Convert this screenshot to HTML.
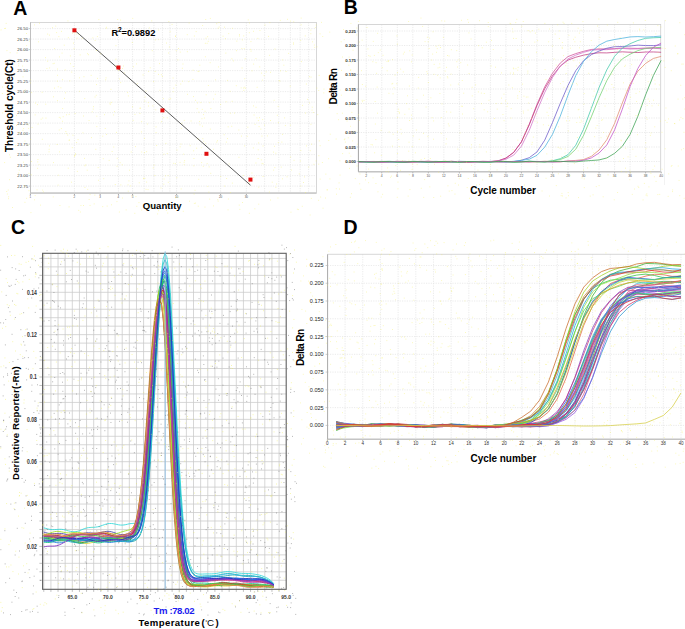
<!DOCTYPE html>
<html><head><meta charset="utf-8"><style>
html,body{margin:0;padding:0;background:#fff;}
svg{display:block;font-family:"Liberation Sans",sans-serif;}
</style></head><body>
<svg width="685" height="629" viewBox="0 0 685 629">
<rect width="685" height="629" fill="#fff"/>
<text x="13.2" y="14.9" font-size="19.5" text-anchor="start" font-weight="bold" fill="#000" >A</text>
<line x1="30.5" y1="28.6" x2="316.4" y2="28.6" stroke="#dedede" stroke-width="0.6" stroke-dasharray="1.2,1.2" />
<line x1="28.8" y1="28.6" x2="30.5" y2="28.6" stroke="#999" stroke-width="0.5" />
<text transform="translate(28.1,30.1) scale(1,1.0)" font-size="4.3" text-anchor="end" fill="#3a3a3a" font-weight="normal">26.50</text>
<line x1="30.5" y1="39.1" x2="316.4" y2="39.1" stroke="#dedede" stroke-width="0.6" stroke-dasharray="1.2,1.2" />
<line x1="28.8" y1="39.1" x2="30.5" y2="39.1" stroke="#999" stroke-width="0.5" />
<text transform="translate(28.1,40.6) scale(1,1.0)" font-size="4.3" text-anchor="end" fill="#3a3a3a" font-weight="normal">26.25</text>
<line x1="30.5" y1="49.6" x2="316.4" y2="49.6" stroke="#dedede" stroke-width="0.6" stroke-dasharray="1.2,1.2" />
<line x1="28.8" y1="49.6" x2="30.5" y2="49.6" stroke="#999" stroke-width="0.5" />
<text transform="translate(28.1,51.1) scale(1,1.0)" font-size="4.3" text-anchor="end" fill="#3a3a3a" font-weight="normal">26.00</text>
<line x1="30.5" y1="60.1" x2="316.4" y2="60.1" stroke="#dedede" stroke-width="0.6" stroke-dasharray="1.2,1.2" />
<line x1="28.8" y1="60.1" x2="30.5" y2="60.1" stroke="#999" stroke-width="0.5" />
<text transform="translate(28.1,61.6) scale(1,1.0)" font-size="4.3" text-anchor="end" fill="#3a3a3a" font-weight="normal">25.75</text>
<line x1="30.5" y1="70.6" x2="316.4" y2="70.6" stroke="#dedede" stroke-width="0.6" stroke-dasharray="1.2,1.2" />
<line x1="28.8" y1="70.6" x2="30.5" y2="70.6" stroke="#999" stroke-width="0.5" />
<text transform="translate(28.1,72.1) scale(1,1.0)" font-size="4.3" text-anchor="end" fill="#3a3a3a" font-weight="normal">25.50</text>
<line x1="30.5" y1="81.1" x2="316.4" y2="81.1" stroke="#dedede" stroke-width="0.6" stroke-dasharray="1.2,1.2" />
<line x1="28.8" y1="81.1" x2="30.5" y2="81.1" stroke="#999" stroke-width="0.5" />
<text transform="translate(28.1,82.6) scale(1,1.0)" font-size="4.3" text-anchor="end" fill="#3a3a3a" font-weight="normal">25.25</text>
<line x1="30.5" y1="91.6" x2="316.4" y2="91.6" stroke="#dedede" stroke-width="0.6" stroke-dasharray="1.2,1.2" />
<line x1="28.8" y1="91.6" x2="30.5" y2="91.6" stroke="#999" stroke-width="0.5" />
<text transform="translate(28.1,93.1) scale(1,1.0)" font-size="4.3" text-anchor="end" fill="#3a3a3a" font-weight="normal">25.00</text>
<line x1="30.5" y1="102.1" x2="316.4" y2="102.1" stroke="#dedede" stroke-width="0.6" stroke-dasharray="1.2,1.2" />
<line x1="28.8" y1="102.1" x2="30.5" y2="102.1" stroke="#999" stroke-width="0.5" />
<text transform="translate(28.1,103.6) scale(1,1.0)" font-size="4.3" text-anchor="end" fill="#3a3a3a" font-weight="normal">24.75</text>
<line x1="30.5" y1="112.6" x2="316.4" y2="112.6" stroke="#dedede" stroke-width="0.6" stroke-dasharray="1.2,1.2" />
<line x1="28.8" y1="112.6" x2="30.5" y2="112.6" stroke="#999" stroke-width="0.5" />
<text transform="translate(28.1,114.1) scale(1,1.0)" font-size="4.3" text-anchor="end" fill="#3a3a3a" font-weight="normal">24.50</text>
<line x1="30.5" y1="123.1" x2="316.4" y2="123.1" stroke="#dedede" stroke-width="0.6" stroke-dasharray="1.2,1.2" />
<line x1="28.8" y1="123.1" x2="30.5" y2="123.1" stroke="#999" stroke-width="0.5" />
<text transform="translate(28.1,124.6) scale(1,1.0)" font-size="4.3" text-anchor="end" fill="#3a3a3a" font-weight="normal">24.25</text>
<line x1="30.5" y1="133.6" x2="316.4" y2="133.6" stroke="#dedede" stroke-width="0.6" stroke-dasharray="1.2,1.2" />
<line x1="28.8" y1="133.6" x2="30.5" y2="133.6" stroke="#999" stroke-width="0.5" />
<text transform="translate(28.1,135.1) scale(1,1.0)" font-size="4.3" text-anchor="end" fill="#3a3a3a" font-weight="normal">24.00</text>
<line x1="30.5" y1="144.1" x2="316.4" y2="144.1" stroke="#dedede" stroke-width="0.6" stroke-dasharray="1.2,1.2" />
<line x1="28.8" y1="144.1" x2="30.5" y2="144.1" stroke="#999" stroke-width="0.5" />
<text transform="translate(28.1,145.6) scale(1,1.0)" font-size="4.3" text-anchor="end" fill="#3a3a3a" font-weight="normal">23.75</text>
<line x1="30.5" y1="154.6" x2="316.4" y2="154.6" stroke="#dedede" stroke-width="0.6" stroke-dasharray="1.2,1.2" />
<line x1="28.8" y1="154.6" x2="30.5" y2="154.6" stroke="#999" stroke-width="0.5" />
<text transform="translate(28.1,156.1) scale(1,1.0)" font-size="4.3" text-anchor="end" fill="#3a3a3a" font-weight="normal">23.50</text>
<line x1="30.5" y1="165.1" x2="316.4" y2="165.1" stroke="#dedede" stroke-width="0.6" stroke-dasharray="1.2,1.2" />
<line x1="28.8" y1="165.1" x2="30.5" y2="165.1" stroke="#999" stroke-width="0.5" />
<text transform="translate(28.1,166.6) scale(1,1.0)" font-size="4.3" text-anchor="end" fill="#3a3a3a" font-weight="normal">23.25</text>
<line x1="30.5" y1="175.6" x2="316.4" y2="175.6" stroke="#dedede" stroke-width="0.6" stroke-dasharray="1.2,1.2" />
<line x1="28.8" y1="175.6" x2="30.5" y2="175.6" stroke="#999" stroke-width="0.5" />
<text transform="translate(28.1,177.1) scale(1,1.0)" font-size="4.3" text-anchor="end" fill="#3a3a3a" font-weight="normal">23.00</text>
<line x1="30.5" y1="186.1" x2="316.4" y2="186.1" stroke="#dedede" stroke-width="0.6" stroke-dasharray="1.2,1.2" />
<line x1="28.8" y1="186.1" x2="30.5" y2="186.1" stroke="#999" stroke-width="0.5" />
<text transform="translate(28.1,187.6) scale(1,1.0)" font-size="4.3" text-anchor="end" fill="#3a3a3a" font-weight="normal">22.75</text>
<line x1="74.41" y1="22.4" x2="74.41" y2="193.1" stroke="#dedede" stroke-width="0.6" stroke-dasharray="1.2,1.2" />
<line x1="100.16" y1="22.4" x2="100.16" y2="193.1" stroke="#dedede" stroke-width="0.6" stroke-dasharray="1.2,1.2" />
<line x1="118.42" y1="22.4" x2="118.42" y2="193.1" stroke="#dedede" stroke-width="0.6" stroke-dasharray="1.2,1.2" />
<line x1="132.59" y1="22.4" x2="132.59" y2="193.1" stroke="#dedede" stroke-width="0.6" stroke-dasharray="1.2,1.2" />
<line x1="144.17" y1="22.4" x2="144.17" y2="193.1" stroke="#dedede" stroke-width="0.6" stroke-dasharray="1.2,1.2" />
<line x1="153.95" y1="22.4" x2="153.95" y2="193.1" stroke="#dedede" stroke-width="0.6" stroke-dasharray="1.2,1.2" />
<line x1="162.43" y1="22.4" x2="162.43" y2="193.1" stroke="#dedede" stroke-width="0.6" stroke-dasharray="1.2,1.2" />
<line x1="169.91" y1="22.4" x2="169.91" y2="193.1" stroke="#dedede" stroke-width="0.6" stroke-dasharray="1.2,1.2" />
<line x1="176.6" y1="22.4" x2="176.6" y2="193.1" stroke="#dedede" stroke-width="0.6" stroke-dasharray="1.2,1.2" />
<line x1="220.61" y1="22.4" x2="220.61" y2="193.1" stroke="#dedede" stroke-width="0.6" stroke-dasharray="1.2,1.2" />
<line x1="246.36" y1="22.4" x2="246.36" y2="193.1" stroke="#dedede" stroke-width="0.6" stroke-dasharray="1.2,1.2" />
<line x1="264.62" y1="22.4" x2="264.62" y2="193.1" stroke="#dedede" stroke-width="0.6" stroke-dasharray="1.2,1.2" />
<line x1="278.79" y1="22.4" x2="278.79" y2="193.1" stroke="#dedede" stroke-width="0.6" stroke-dasharray="1.2,1.2" />
<line x1="290.37" y1="22.4" x2="290.37" y2="193.1" stroke="#dedede" stroke-width="0.6" stroke-dasharray="1.2,1.2" />
<line x1="300.15" y1="22.4" x2="300.15" y2="193.1" stroke="#dedede" stroke-width="0.6" stroke-dasharray="1.2,1.2" />
<line x1="308.63" y1="22.4" x2="308.63" y2="193.1" stroke="#dedede" stroke-width="0.6" stroke-dasharray="1.2,1.2" />
<line x1="30.4" y1="193.1" x2="30.4" y2="194.9" stroke="#555" stroke-width="0.6" />
<text transform="translate(30.4,198) scale(1,1.0)" font-size="3.0" text-anchor="middle" fill="#555" font-weight="normal">1</text>
<line x1="74.41" y1="193.1" x2="74.41" y2="194.9" stroke="#555" stroke-width="0.6" />
<text transform="translate(74.41,198) scale(1,1.0)" font-size="3.0" text-anchor="middle" fill="#555" font-weight="normal">2</text>
<line x1="100.16" y1="193.1" x2="100.16" y2="194.9" stroke="#555" stroke-width="0.6" />
<text transform="translate(100.16,198) scale(1,1.0)" font-size="3.0" text-anchor="middle" fill="#555" font-weight="normal">3</text>
<line x1="118.42" y1="193.1" x2="118.42" y2="194.9" stroke="#555" stroke-width="0.6" />
<text transform="translate(118.42,198) scale(1,1.0)" font-size="3.0" text-anchor="middle" fill="#555" font-weight="normal">4</text>
<line x1="132.59" y1="193.1" x2="132.59" y2="194.9" stroke="#555" stroke-width="0.6" />
<text transform="translate(132.59,198) scale(1,1.0)" font-size="3.0" text-anchor="middle" fill="#555" font-weight="normal">5</text>
<line x1="176.6" y1="193.1" x2="176.6" y2="194.9" stroke="#555" stroke-width="0.6" />
<text transform="translate(176.6,198) scale(1,1.0)" font-size="3.0" text-anchor="middle" fill="#555" font-weight="normal">10</text>
<line x1="220.61" y1="193.1" x2="220.61" y2="194.9" stroke="#555" stroke-width="0.6" />
<text transform="translate(220.61,198) scale(1,1.0)" font-size="3.0" text-anchor="middle" fill="#555" font-weight="normal">20</text>
<line x1="246.36" y1="193.1" x2="246.36" y2="194.9" stroke="#555" stroke-width="0.6" />
<text transform="translate(246.36,198) scale(1,1.0)" font-size="3.0" text-anchor="middle" fill="#555" font-weight="normal">30</text>
<rect x="30.5" y="22.4" width="285.9" height="170.7" fill="none" stroke="#cdcdcd" stroke-width="0.8"/>
<line x1="30.5" y1="193.1" x2="316.4" y2="193.1" stroke="#cdcdcd" stroke-width="1.6" />
<line x1="30.5" y1="22.4" x2="30.5" y2="193.1" stroke="#c0c0c0" stroke-width="1.0" />
<line x1="74.4" y1="30" x2="250.5" y2="185.2" stroke="#4a4a4a" stroke-width="0.9" />
<rect x="72.41" y="28.3" width="4" height="4" fill="#e01010"/>
<rect x="116.42" y="65.5" width="4" height="4" fill="#e01010"/>
<rect x="160.43" y="108.4" width="4" height="4" fill="#e01010"/>
<rect x="204.44" y="151.8" width="4" height="4" fill="#e01010"/>
<rect x="248.45" y="177.6" width="4" height="4" fill="#e01010"/>
<text x="111.6" y="35.9" font-size="9.3" font-weight="bold">R<tspan font-size="6.6" dy="-3.9" dx="-0.3">2</tspan><tspan dy="3.9" dx="-0.2">=0.9892</tspan></text>
<text x="142.8" y="209.4" font-size="9.6" text-anchor="start" font-weight="bold" fill="#000" >Quantity</text>
<text transform="translate(13.0,152) rotate(-90)" font-size="10.1" font-weight="bold" textLength="93">Threshold cycle(Ct)</text>
<text x="343.8" y="14" font-size="19.5" text-anchor="start" font-weight="bold" fill="#000" >B</text>
<line x1="358.4" y1="161.5" x2="660.7" y2="161.5" stroke="#dedede" stroke-width="0.6" stroke-dasharray="1.2,1.2" />
<line x1="356.8" y1="161.5" x2="358.4" y2="161.5" stroke="#999" stroke-width="0.5" />
<text transform="translate(356,163.1) scale(1,1.0)" font-size="4.35" text-anchor="end" fill="#333" font-weight="bold">0.000</text>
<line x1="358.4" y1="147" x2="660.7" y2="147" stroke="#dedede" stroke-width="0.6" stroke-dasharray="1.2,1.2" />
<line x1="356.8" y1="147" x2="358.4" y2="147" stroke="#999" stroke-width="0.5" />
<text transform="translate(356,148.6) scale(1,1.0)" font-size="4.35" text-anchor="end" fill="#333" font-weight="bold">0.025</text>
<line x1="358.4" y1="132.5" x2="660.7" y2="132.5" stroke="#dedede" stroke-width="0.6" stroke-dasharray="1.2,1.2" />
<line x1="356.8" y1="132.5" x2="358.4" y2="132.5" stroke="#999" stroke-width="0.5" />
<text transform="translate(356,134.1) scale(1,1.0)" font-size="4.35" text-anchor="end" fill="#333" font-weight="bold">0.050</text>
<line x1="358.4" y1="118" x2="660.7" y2="118" stroke="#dedede" stroke-width="0.6" stroke-dasharray="1.2,1.2" />
<line x1="356.8" y1="118" x2="358.4" y2="118" stroke="#999" stroke-width="0.5" />
<text transform="translate(356,119.6) scale(1,1.0)" font-size="4.35" text-anchor="end" fill="#333" font-weight="bold">0.075</text>
<line x1="358.4" y1="103.5" x2="660.7" y2="103.5" stroke="#dedede" stroke-width="0.6" stroke-dasharray="1.2,1.2" />
<line x1="356.8" y1="103.5" x2="358.4" y2="103.5" stroke="#999" stroke-width="0.5" />
<text transform="translate(356,105.1) scale(1,1.0)" font-size="4.35" text-anchor="end" fill="#333" font-weight="bold">0.100</text>
<line x1="358.4" y1="89" x2="660.7" y2="89" stroke="#dedede" stroke-width="0.6" stroke-dasharray="1.2,1.2" />
<line x1="356.8" y1="89" x2="358.4" y2="89" stroke="#999" stroke-width="0.5" />
<text transform="translate(356,90.6) scale(1,1.0)" font-size="4.35" text-anchor="end" fill="#333" font-weight="bold">0.125</text>
<line x1="358.4" y1="74.5" x2="660.7" y2="74.5" stroke="#dedede" stroke-width="0.6" stroke-dasharray="1.2,1.2" />
<line x1="356.8" y1="74.5" x2="358.4" y2="74.5" stroke="#999" stroke-width="0.5" />
<text transform="translate(356,76.1) scale(1,1.0)" font-size="4.35" text-anchor="end" fill="#333" font-weight="bold">0.150</text>
<line x1="358.4" y1="60" x2="660.7" y2="60" stroke="#dedede" stroke-width="0.6" stroke-dasharray="1.2,1.2" />
<line x1="356.8" y1="60" x2="358.4" y2="60" stroke="#999" stroke-width="0.5" />
<text transform="translate(356,61.6) scale(1,1.0)" font-size="4.35" text-anchor="end" fill="#333" font-weight="bold">0.175</text>
<line x1="358.4" y1="45.5" x2="660.7" y2="45.5" stroke="#dedede" stroke-width="0.6" stroke-dasharray="1.2,1.2" />
<line x1="356.8" y1="45.5" x2="358.4" y2="45.5" stroke="#999" stroke-width="0.5" />
<text transform="translate(356,47.1) scale(1,1.0)" font-size="4.35" text-anchor="end" fill="#333" font-weight="bold">0.200</text>
<line x1="358.4" y1="31" x2="660.7" y2="31" stroke="#dedede" stroke-width="0.6" stroke-dasharray="1.2,1.2" />
<line x1="356.8" y1="31" x2="358.4" y2="31" stroke="#999" stroke-width="0.5" />
<text transform="translate(356,32.6) scale(1,1.0)" font-size="4.35" text-anchor="end" fill="#333" font-weight="bold">0.225</text>
<line x1="366.26" y1="24.5" x2="366.26" y2="171.7" stroke="#dedede" stroke-width="0.6" stroke-dasharray="1.2,1.2" />
<line x1="366.26" y1="171.7" x2="366.26" y2="173.3" stroke="#666" stroke-width="0.6" />
<text transform="translate(366.26,177.4) scale(1,1.0)" font-size="3.4" text-anchor="middle" fill="#555" font-weight="normal">2</text>
<line x1="381.78" y1="24.5" x2="381.78" y2="171.7" stroke="#dedede" stroke-width="0.6" stroke-dasharray="1.2,1.2" />
<line x1="381.78" y1="171.7" x2="381.78" y2="173.3" stroke="#666" stroke-width="0.6" />
<text transform="translate(381.78,177.4) scale(1,1.0)" font-size="3.4" text-anchor="middle" fill="#555" font-weight="normal">4</text>
<line x1="397.3" y1="24.5" x2="397.3" y2="171.7" stroke="#dedede" stroke-width="0.6" stroke-dasharray="1.2,1.2" />
<line x1="397.3" y1="171.7" x2="397.3" y2="173.3" stroke="#666" stroke-width="0.6" />
<text transform="translate(397.3,177.4) scale(1,1.0)" font-size="3.4" text-anchor="middle" fill="#555" font-weight="normal">6</text>
<line x1="412.82" y1="24.5" x2="412.82" y2="171.7" stroke="#dedede" stroke-width="0.6" stroke-dasharray="1.2,1.2" />
<line x1="412.82" y1="171.7" x2="412.82" y2="173.3" stroke="#666" stroke-width="0.6" />
<text transform="translate(412.82,177.4) scale(1,1.0)" font-size="3.4" text-anchor="middle" fill="#555" font-weight="normal">8</text>
<line x1="428.34" y1="24.5" x2="428.34" y2="171.7" stroke="#dedede" stroke-width="0.6" stroke-dasharray="1.2,1.2" />
<line x1="428.34" y1="171.7" x2="428.34" y2="173.3" stroke="#666" stroke-width="0.6" />
<text transform="translate(428.34,177.4) scale(1,1.0)" font-size="3.4" text-anchor="middle" fill="#555" font-weight="normal">10</text>
<line x1="443.86" y1="24.5" x2="443.86" y2="171.7" stroke="#dedede" stroke-width="0.6" stroke-dasharray="1.2,1.2" />
<line x1="443.86" y1="171.7" x2="443.86" y2="173.3" stroke="#666" stroke-width="0.6" />
<text transform="translate(443.86,177.4) scale(1,1.0)" font-size="3.4" text-anchor="middle" fill="#555" font-weight="normal">12</text>
<line x1="459.38" y1="24.5" x2="459.38" y2="171.7" stroke="#dedede" stroke-width="0.6" stroke-dasharray="1.2,1.2" />
<line x1="459.38" y1="171.7" x2="459.38" y2="173.3" stroke="#666" stroke-width="0.6" />
<text transform="translate(459.38,177.4) scale(1,1.0)" font-size="3.4" text-anchor="middle" fill="#555" font-weight="normal">14</text>
<line x1="474.9" y1="24.5" x2="474.9" y2="171.7" stroke="#dedede" stroke-width="0.6" stroke-dasharray="1.2,1.2" />
<line x1="474.9" y1="171.7" x2="474.9" y2="173.3" stroke="#666" stroke-width="0.6" />
<text transform="translate(474.9,177.4) scale(1,1.0)" font-size="3.4" text-anchor="middle" fill="#555" font-weight="normal">16</text>
<line x1="490.42" y1="24.5" x2="490.42" y2="171.7" stroke="#dedede" stroke-width="0.6" stroke-dasharray="1.2,1.2" />
<line x1="490.42" y1="171.7" x2="490.42" y2="173.3" stroke="#666" stroke-width="0.6" />
<text transform="translate(490.42,177.4) scale(1,1.0)" font-size="3.4" text-anchor="middle" fill="#555" font-weight="normal">18</text>
<line x1="505.94" y1="24.5" x2="505.94" y2="171.7" stroke="#dedede" stroke-width="0.6" stroke-dasharray="1.2,1.2" />
<line x1="505.94" y1="171.7" x2="505.94" y2="173.3" stroke="#666" stroke-width="0.6" />
<text transform="translate(505.94,177.4) scale(1,1.0)" font-size="3.4" text-anchor="middle" fill="#555" font-weight="normal">20</text>
<line x1="521.46" y1="24.5" x2="521.46" y2="171.7" stroke="#dedede" stroke-width="0.6" stroke-dasharray="1.2,1.2" />
<line x1="521.46" y1="171.7" x2="521.46" y2="173.3" stroke="#666" stroke-width="0.6" />
<text transform="translate(521.46,177.4) scale(1,1.0)" font-size="3.4" text-anchor="middle" fill="#555" font-weight="normal">22</text>
<line x1="536.98" y1="24.5" x2="536.98" y2="171.7" stroke="#dedede" stroke-width="0.6" stroke-dasharray="1.2,1.2" />
<line x1="536.98" y1="171.7" x2="536.98" y2="173.3" stroke="#666" stroke-width="0.6" />
<text transform="translate(536.98,177.4) scale(1,1.0)" font-size="3.4" text-anchor="middle" fill="#555" font-weight="normal">24</text>
<line x1="552.5" y1="24.5" x2="552.5" y2="171.7" stroke="#dedede" stroke-width="0.6" stroke-dasharray="1.2,1.2" />
<line x1="552.5" y1="171.7" x2="552.5" y2="173.3" stroke="#666" stroke-width="0.6" />
<text transform="translate(552.5,177.4) scale(1,1.0)" font-size="3.4" text-anchor="middle" fill="#555" font-weight="normal">26</text>
<line x1="568.02" y1="24.5" x2="568.02" y2="171.7" stroke="#dedede" stroke-width="0.6" stroke-dasharray="1.2,1.2" />
<line x1="568.02" y1="171.7" x2="568.02" y2="173.3" stroke="#666" stroke-width="0.6" />
<text transform="translate(568.02,177.4) scale(1,1.0)" font-size="3.4" text-anchor="middle" fill="#555" font-weight="normal">28</text>
<line x1="583.54" y1="24.5" x2="583.54" y2="171.7" stroke="#dedede" stroke-width="0.6" stroke-dasharray="1.2,1.2" />
<line x1="583.54" y1="171.7" x2="583.54" y2="173.3" stroke="#666" stroke-width="0.6" />
<text transform="translate(583.54,177.4) scale(1,1.0)" font-size="3.4" text-anchor="middle" fill="#555" font-weight="normal">30</text>
<line x1="599.06" y1="24.5" x2="599.06" y2="171.7" stroke="#dedede" stroke-width="0.6" stroke-dasharray="1.2,1.2" />
<line x1="599.06" y1="171.7" x2="599.06" y2="173.3" stroke="#666" stroke-width="0.6" />
<text transform="translate(599.06,177.4) scale(1,1.0)" font-size="3.4" text-anchor="middle" fill="#555" font-weight="normal">32</text>
<line x1="614.58" y1="24.5" x2="614.58" y2="171.7" stroke="#dedede" stroke-width="0.6" stroke-dasharray="1.2,1.2" />
<line x1="614.58" y1="171.7" x2="614.58" y2="173.3" stroke="#666" stroke-width="0.6" />
<text transform="translate(614.58,177.4) scale(1,1.0)" font-size="3.4" text-anchor="middle" fill="#555" font-weight="normal">34</text>
<line x1="630.1" y1="24.5" x2="630.1" y2="171.7" stroke="#dedede" stroke-width="0.6" stroke-dasharray="1.2,1.2" />
<line x1="630.1" y1="171.7" x2="630.1" y2="173.3" stroke="#666" stroke-width="0.6" />
<text transform="translate(630.1,177.4) scale(1,1.0)" font-size="3.4" text-anchor="middle" fill="#555" font-weight="normal">36</text>
<line x1="645.62" y1="24.5" x2="645.62" y2="171.7" stroke="#dedede" stroke-width="0.6" stroke-dasharray="1.2,1.2" />
<line x1="645.62" y1="171.7" x2="645.62" y2="173.3" stroke="#666" stroke-width="0.6" />
<text transform="translate(645.62,177.4) scale(1,1.0)" font-size="3.4" text-anchor="middle" fill="#555" font-weight="normal">38</text>
<line x1="661.14" y1="171.7" x2="661.14" y2="173.3" stroke="#666" stroke-width="0.6" />
<text transform="translate(661.14,177.4) scale(1,1.0)" font-size="3.4" text-anchor="middle" fill="#555" font-weight="normal">40</text>
<rect x="358.4" y="24.5" width="302.3" height="147.2" fill="none" stroke="#cdcdcd" stroke-width="0.8"/>
<line x1="358.4" y1="171.7" x2="660.7" y2="171.7" stroke="#c4c4c4" stroke-width="1.4" />
<line x1="358.4" y1="24.5" x2="358.4" y2="171.7" stroke="#a8a8a8" stroke-width="1.0" />
<line x1="664.5" y1="20" x2="664.5" y2="185" stroke="#f2f2f2" stroke-width="1.0" />
<text x="470.2" y="194" font-size="10" text-anchor="start" font-weight="bold" fill="#000" textLength="65.7">Cycle number</text>
<text transform="translate(337.0,104.5) rotate(-90)" font-size="10.2" font-weight="bold" textLength="36.4">Delta Rn</text>
<path d="M358.5,161.74 L366.26,161.52 L374.02,161.82 L381.78,162.18 L389.54,161.51 L397.3,161.53 L405.06,162.16 L412.82,161.9 L420.58,161.57 L428.34,161.66 L436.1,162.23 L443.86,161.88 L451.62,161.41 L459.38,161.7 L467.14,162.18 L474.9,161.64 L482.66,161.34 L490.42,161.53 L498.18,160.89 L505.94,158.16 L513.7,152.38 L521.46,141.85 L529.22,124.25 L536.98,104.43 L544.74,86.84 L552.5,73.2 L560.26,63.07 L568.02,56.59 L575.78,53.6 L583.54,51.3 L591.3,49.47 L599.06,48.91 L606.82,48.92 L614.58,48.63 L622.34,48.05 L630.1,48.24 L637.86,48.4 L645.62,48.04 L653.38,47.81 L661.14,48.19" fill="none" stroke="#d0509a" stroke-width="0.75" stroke-opacity="1" stroke-linejoin="round"/>
<path d="M358.5,161.71 L366.26,161.46 L374.02,161.75 L381.78,161.97 L389.54,161.62 L397.3,161.45 L405.06,161.99 L412.82,161.79 L420.58,161.34 L428.34,161.7 L436.1,161.91 L443.86,161.88 L451.62,161.41 L459.38,161.71 L467.14,162.18 L474.9,161.56 L482.66,161.53 L490.42,161.61 L498.18,160.82 L505.94,158.08 L513.7,152.39 L521.46,141.89 L529.22,124.89 L536.98,105.58 L544.74,88.7 L552.5,75.79 L560.26,66.12 L568.02,60.09 L575.78,57.24 L583.54,55.17 L591.3,53.64 L599.06,52.78 L606.82,52.91 L614.58,52.36 L622.34,51.83 L630.1,52.26 L637.86,52.56 L645.62,52.03 L653.38,51.96 L661.14,52.28" fill="none" stroke="#c03a80" stroke-width="0.75" stroke-opacity="1" stroke-linejoin="round"/>
<path d="M358.5,161.69 L366.26,161.58 L374.02,162.11 L381.78,161.87 L389.54,161.57 L397.3,161.66 L405.06,162.1 L412.82,161.67 L420.58,161.53 L428.34,161.77 L436.1,162.06 L443.86,161.49 L451.62,161.31 L459.38,161.79 L467.14,162.07 L474.9,161.49 L482.66,161.53 L490.42,161.72 L498.18,161 L505.94,159.2 L513.7,155.12 L521.46,146.12 L529.22,130.36 L536.98,110.82 L544.74,92.44 L552.5,77.44 L560.26,66.16 L568.02,58.94 L575.78,55.13 L583.54,52.36 L591.3,50.21 L599.06,49.66 L606.82,49.65 L614.58,48.97 L622.34,48.45 L630.1,49.01 L637.86,48.89 L645.62,48.4 L653.38,48.25 L661.14,48.79" fill="none" stroke="#d070c8" stroke-width="0.75" stroke-opacity="1" stroke-linejoin="round"/>
<path d="M358.5,161.77 L366.26,162.11 L374.02,161.78 L381.78,161.36 L389.54,162.06 L397.3,162.16 L405.06,161.59 L412.82,161.64 L420.58,162.09 L428.34,162.02 L436.1,161.57 L443.86,161.8 L451.62,162.22 L459.38,161.74 L467.14,161.56 L474.9,161.73 L482.66,162 L490.42,161.64 L498.18,161.54 L505.94,161.95 L513.7,161.58 L521.46,160.27 L529.22,157.69 L536.98,151.96 L544.74,140.15 L552.5,122.55 L560.26,103.37 L568.02,85.41 L575.78,70.65 L583.54,60.71 L591.3,54.71 L599.06,51.04 L606.82,48.26 L614.58,46.71 L622.34,46.55 L630.1,45.96 L637.86,45.15 L645.62,45.55 L653.38,45.6 L661.14,44.94" fill="none" stroke="#6a58c8" stroke-width="0.75" stroke-opacity="1" stroke-linejoin="round"/>
<path d="M358.5,161.89 L366.26,161.82 L374.02,161.49 L381.78,161.71 L389.54,162.19 L397.3,161.62 L405.06,161.38 L412.82,161.74 L420.58,162.11 L428.34,161.64 L436.1,161.36 L443.86,161.82 L451.62,161.81 L459.38,161.32 L467.14,161.5 L474.9,161.98 L482.66,161.85 L490.42,161.35 L498.18,161.77 L505.94,162.06 L513.7,161.3 L521.46,160.37 L529.22,159.21 L536.98,155.31 L544.74,147.11 L552.5,134.31 L560.26,116.19 L568.02,95.08 L575.78,75.57 L583.54,61.42 L591.3,51.81 L599.06,45.11 L606.82,41.16 L614.58,39.51 L622.34,38.24 L630.1,36.93 L637.86,36.6 L645.62,37.03 L653.38,36.68 L661.14,36.09" fill="none" stroke="#48b0dc" stroke-width="0.75" stroke-opacity="1" stroke-linejoin="round"/>
<path d="M358.5,161.53 L366.26,161.66 L374.02,161.94 L381.78,161.56 L389.54,161.32 L397.3,161.9 L405.06,162.13 L412.82,161.4 L420.58,161.57 L428.34,161.92 L436.1,161.72 L443.86,161.44 L451.62,161.7 L459.38,161.92 L467.14,161.63 L474.9,161.51 L482.66,161.98 L490.42,162.16 L498.18,161.4 L505.94,161.36 L513.7,162.11 L521.46,161.8 L529.22,161.22 L536.98,161.46 L544.74,161.79 L552.5,160.74 L560.26,158.68 L568.02,154.66 L575.78,145.26 L583.54,129.2 L591.3,108.45 L599.06,87.52 L606.82,69.81 L614.58,56.27 L622.34,48.07 L630.1,43.7 L637.86,40.47 L645.62,38.34 L653.38,37.76 L661.14,37.44" fill="none" stroke="#40c8a8" stroke-width="0.75" stroke-opacity="1" stroke-linejoin="round"/>
<path d="M358.5,161.47 L366.26,161.81 L374.02,162.2 L381.78,161.45 L389.54,161.48 L397.3,161.96 L405.06,161.95 L412.82,161.31 L420.58,161.59 L428.34,161.91 L436.1,161.82 L443.86,161.38 L451.62,161.72 L459.38,162.24 L467.14,161.66 L474.9,161.52 L482.66,162.08 L490.42,161.91 L498.18,161.6 L505.94,161.52 L513.7,161.95 L521.46,161.85 L529.22,161.44 L536.98,161.61 L544.74,161.86 L552.5,160.95 L560.26,159.57 L568.02,156.45 L575.78,149.2 L583.54,135.38 L591.3,116.87 L599.06,97.82 L606.82,80.58 L614.58,67.25 L622.34,58.89 L630.1,54.19 L637.86,50.62 L645.62,48.44 L653.38,47.79 L661.14,47.37" fill="none" stroke="#70d070" stroke-width="0.75" stroke-opacity="1" stroke-linejoin="round"/>
<path d="M358.5,162.08 L366.26,161.59 L374.02,161.44 L381.78,161.79 L389.54,161.91 L397.3,161.33 L405.06,161.4 L412.82,162.14 L420.58,161.8 L428.34,161.23 L436.1,161.61 L443.86,162.2 L451.62,161.78 L459.38,161.43 L467.14,162.05 L474.9,162.1 L482.66,161.64 L490.42,161.45 L498.18,161.93 L505.94,161.74 L513.7,161.52 L521.46,161.6 L529.22,162.02 L536.98,161.8 L544.74,161.22 L552.5,161.6 L560.26,161.92 L568.02,160.89 L575.78,160.42 L583.54,159.57 L591.3,156.41 L599.06,150.07 L606.82,139.72 L614.58,123.44 L622.34,102.93 L630.1,84.08 L637.86,71.2 L645.62,63.4 L653.38,58.45 L661.14,56.38" fill="none" stroke="#e08a70" stroke-width="0.75" stroke-opacity="1" stroke-linejoin="round"/>
<path d="M358.5,161.94 L366.26,161.46 L374.02,161.75 L381.78,162.12 L389.54,161.76 L397.3,161.38 L405.06,161.9 L412.82,161.91 L420.58,161.52 L428.34,161.25 L436.1,162.06 L443.86,162.08 L451.62,161.63 L459.38,161.44 L467.14,162.12 L474.9,161.98 L482.66,161.42 L490.42,161.56 L498.18,161.97 L505.94,161.76 L513.7,161.52 L521.46,161.73 L529.22,162 L536.98,161.43 L544.74,161.61 L552.5,162.11 L560.26,161.7 L568.02,161.13 L575.78,161.09 L583.54,160.28 L591.3,157.94 L599.06,153.05 L606.82,144.95 L614.58,129.96 L622.34,109.11 L630.1,86.51 L637.86,68.48 L645.62,55.62 L653.38,47.31 L661.14,43.08" fill="none" stroke="#c050c8" stroke-width="0.75" stroke-opacity="1" stroke-linejoin="round"/>
<path d="M358.5,161.47 L366.26,161.97 L374.02,162.04 L381.78,161.64 L389.54,161.6 L397.3,162.1 L405.06,162.09 L412.82,161.53 L420.58,161.67 L428.34,162.14 L436.1,161.68 L443.86,161.46 L451.62,161.79 L459.38,162.18 L467.14,161.65 L474.9,161.6 L482.66,162.04 L490.42,162.14 L498.18,161.37 L505.94,161.54 L513.7,162.16 L521.46,161.83 L529.22,161.23 L536.98,161.87 L544.74,161.95 L552.5,161.64 L560.26,161.36 L568.02,161.69 L575.78,161.83 L583.54,161.04 L591.3,160.52 L599.06,159.93 L606.82,157.96 L614.58,153.35 L622.34,146.32 L630.1,134.4 L637.86,116.25 L645.62,94.89 L653.38,75.52 L661.14,60.35" fill="none" stroke="#3aa050" stroke-width="0.75" stroke-opacity="1" stroke-linejoin="round"/>
<text x="11" y="233.6" font-size="19.5" text-anchor="start" font-weight="bold" fill="#000" >C</text>
<line x1="43.78" y1="253.3" x2="43.78" y2="589.3" stroke="#c9c9c9" stroke-width="0.75" />
<line x1="43.78" y1="589.3" x2="43.78" y2="591.9" stroke="#999" stroke-width="0.6" />
<line x1="50.91" y1="253.3" x2="50.91" y2="589.3" stroke="#c9c9c9" stroke-width="0.75" />
<line x1="50.91" y1="589.3" x2="50.91" y2="591.9" stroke="#999" stroke-width="0.6" />
<line x1="58.04" y1="253.3" x2="58.04" y2="589.3" stroke="#c9c9c9" stroke-width="0.75" />
<line x1="58.04" y1="589.3" x2="58.04" y2="591.9" stroke="#999" stroke-width="0.6" />
<line x1="65.17" y1="253.3" x2="65.17" y2="589.3" stroke="#c9c9c9" stroke-width="0.75" />
<line x1="65.17" y1="589.3" x2="65.17" y2="591.9" stroke="#999" stroke-width="0.6" />
<line x1="72.3" y1="253.3" x2="72.3" y2="589.3" stroke="#c9c9c9" stroke-width="0.75" />
<line x1="72.3" y1="589.3" x2="72.3" y2="591.9" stroke="#999" stroke-width="0.6" />
<line x1="79.43" y1="253.3" x2="79.43" y2="589.3" stroke="#c9c9c9" stroke-width="0.75" />
<line x1="79.43" y1="589.3" x2="79.43" y2="591.9" stroke="#999" stroke-width="0.6" />
<line x1="86.56" y1="253.3" x2="86.56" y2="589.3" stroke="#c9c9c9" stroke-width="0.75" />
<line x1="86.56" y1="589.3" x2="86.56" y2="591.9" stroke="#999" stroke-width="0.6" />
<line x1="93.69" y1="253.3" x2="93.69" y2="589.3" stroke="#c9c9c9" stroke-width="0.75" />
<line x1="93.69" y1="589.3" x2="93.69" y2="591.9" stroke="#999" stroke-width="0.6" />
<line x1="100.82" y1="253.3" x2="100.82" y2="589.3" stroke="#c9c9c9" stroke-width="0.75" />
<line x1="100.82" y1="589.3" x2="100.82" y2="591.9" stroke="#999" stroke-width="0.6" />
<line x1="107.95" y1="253.3" x2="107.95" y2="589.3" stroke="#c9c9c9" stroke-width="0.75" />
<line x1="107.95" y1="589.3" x2="107.95" y2="591.9" stroke="#999" stroke-width="0.6" />
<line x1="115.08" y1="253.3" x2="115.08" y2="589.3" stroke="#c9c9c9" stroke-width="0.75" />
<line x1="115.08" y1="589.3" x2="115.08" y2="591.9" stroke="#999" stroke-width="0.6" />
<line x1="122.21" y1="253.3" x2="122.21" y2="589.3" stroke="#c9c9c9" stroke-width="0.75" />
<line x1="122.21" y1="589.3" x2="122.21" y2="591.9" stroke="#999" stroke-width="0.6" />
<line x1="129.34" y1="253.3" x2="129.34" y2="589.3" stroke="#c9c9c9" stroke-width="0.75" />
<line x1="129.34" y1="589.3" x2="129.34" y2="591.9" stroke="#999" stroke-width="0.6" />
<line x1="136.47" y1="253.3" x2="136.47" y2="589.3" stroke="#c9c9c9" stroke-width="0.75" />
<line x1="136.47" y1="589.3" x2="136.47" y2="591.9" stroke="#999" stroke-width="0.6" />
<line x1="143.6" y1="253.3" x2="143.6" y2="589.3" stroke="#c9c9c9" stroke-width="0.75" />
<line x1="143.6" y1="589.3" x2="143.6" y2="591.9" stroke="#999" stroke-width="0.6" />
<line x1="150.73" y1="253.3" x2="150.73" y2="589.3" stroke="#c9c9c9" stroke-width="0.75" />
<line x1="150.73" y1="589.3" x2="150.73" y2="591.9" stroke="#999" stroke-width="0.6" />
<line x1="157.86" y1="253.3" x2="157.86" y2="589.3" stroke="#c9c9c9" stroke-width="0.75" />
<line x1="157.86" y1="589.3" x2="157.86" y2="591.9" stroke="#999" stroke-width="0.6" />
<line x1="164.99" y1="253.3" x2="164.99" y2="589.3" stroke="#c9c9c9" stroke-width="0.75" />
<line x1="164.99" y1="589.3" x2="164.99" y2="591.9" stroke="#999" stroke-width="0.6" />
<line x1="172.12" y1="253.3" x2="172.12" y2="589.3" stroke="#c9c9c9" stroke-width="0.75" />
<line x1="172.12" y1="589.3" x2="172.12" y2="591.9" stroke="#999" stroke-width="0.6" />
<line x1="179.25" y1="253.3" x2="179.25" y2="589.3" stroke="#c9c9c9" stroke-width="0.75" />
<line x1="179.25" y1="589.3" x2="179.25" y2="591.9" stroke="#999" stroke-width="0.6" />
<line x1="186.38" y1="253.3" x2="186.38" y2="589.3" stroke="#c9c9c9" stroke-width="0.75" />
<line x1="186.38" y1="589.3" x2="186.38" y2="591.9" stroke="#999" stroke-width="0.6" />
<line x1="193.51" y1="253.3" x2="193.51" y2="589.3" stroke="#c9c9c9" stroke-width="0.75" />
<line x1="193.51" y1="589.3" x2="193.51" y2="591.9" stroke="#999" stroke-width="0.6" />
<line x1="200.64" y1="253.3" x2="200.64" y2="589.3" stroke="#c9c9c9" stroke-width="0.75" />
<line x1="200.64" y1="589.3" x2="200.64" y2="591.9" stroke="#999" stroke-width="0.6" />
<line x1="207.77" y1="253.3" x2="207.77" y2="589.3" stroke="#c9c9c9" stroke-width="0.75" />
<line x1="207.77" y1="589.3" x2="207.77" y2="591.9" stroke="#999" stroke-width="0.6" />
<line x1="214.9" y1="253.3" x2="214.9" y2="589.3" stroke="#c9c9c9" stroke-width="0.75" />
<line x1="214.9" y1="589.3" x2="214.9" y2="591.9" stroke="#999" stroke-width="0.6" />
<line x1="222.03" y1="253.3" x2="222.03" y2="589.3" stroke="#c9c9c9" stroke-width="0.75" />
<line x1="222.03" y1="589.3" x2="222.03" y2="591.9" stroke="#999" stroke-width="0.6" />
<line x1="229.16" y1="253.3" x2="229.16" y2="589.3" stroke="#c9c9c9" stroke-width="0.75" />
<line x1="229.16" y1="589.3" x2="229.16" y2="591.9" stroke="#999" stroke-width="0.6" />
<line x1="236.29" y1="253.3" x2="236.29" y2="589.3" stroke="#c9c9c9" stroke-width="0.75" />
<line x1="236.29" y1="589.3" x2="236.29" y2="591.9" stroke="#999" stroke-width="0.6" />
<line x1="243.42" y1="253.3" x2="243.42" y2="589.3" stroke="#c9c9c9" stroke-width="0.75" />
<line x1="243.42" y1="589.3" x2="243.42" y2="591.9" stroke="#999" stroke-width="0.6" />
<line x1="250.55" y1="253.3" x2="250.55" y2="589.3" stroke="#c9c9c9" stroke-width="0.75" />
<line x1="250.55" y1="589.3" x2="250.55" y2="591.9" stroke="#999" stroke-width="0.6" />
<line x1="257.68" y1="253.3" x2="257.68" y2="589.3" stroke="#c9c9c9" stroke-width="0.75" />
<line x1="257.68" y1="589.3" x2="257.68" y2="591.9" stroke="#999" stroke-width="0.6" />
<line x1="264.81" y1="253.3" x2="264.81" y2="589.3" stroke="#c9c9c9" stroke-width="0.75" />
<line x1="264.81" y1="589.3" x2="264.81" y2="591.9" stroke="#999" stroke-width="0.6" />
<line x1="271.94" y1="253.3" x2="271.94" y2="589.3" stroke="#c9c9c9" stroke-width="0.75" />
<line x1="271.94" y1="589.3" x2="271.94" y2="591.9" stroke="#999" stroke-width="0.6" />
<line x1="279.07" y1="253.3" x2="279.07" y2="589.3" stroke="#c9c9c9" stroke-width="0.75" />
<line x1="279.07" y1="589.3" x2="279.07" y2="591.9" stroke="#999" stroke-width="0.6" />
<line x1="42.6" y1="580.28" x2="286.2" y2="580.28" stroke="#c9c9c9" stroke-width="0.75" />
<line x1="39.4" y1="580.28" x2="42.6" y2="580.28" stroke="#999" stroke-width="0.6" />
<line x1="42.6" y1="571.81" x2="286.2" y2="571.81" stroke="#c9c9c9" stroke-width="0.75" />
<line x1="39.4" y1="571.81" x2="42.6" y2="571.81" stroke="#999" stroke-width="0.6" />
<line x1="42.6" y1="563.34" x2="286.2" y2="563.34" stroke="#c9c9c9" stroke-width="0.75" />
<line x1="39.4" y1="563.34" x2="42.6" y2="563.34" stroke="#999" stroke-width="0.6" />
<line x1="42.6" y1="554.87" x2="286.2" y2="554.87" stroke="#c9c9c9" stroke-width="0.75" />
<line x1="39.4" y1="554.87" x2="42.6" y2="554.87" stroke="#999" stroke-width="0.6" />
<line x1="42.6" y1="546.4" x2="286.2" y2="546.4" stroke="#c9c9c9" stroke-width="0.75" />
<line x1="39.4" y1="546.4" x2="42.6" y2="546.4" stroke="#999" stroke-width="0.6" />
<line x1="42.6" y1="537.93" x2="286.2" y2="537.93" stroke="#c9c9c9" stroke-width="0.75" />
<line x1="39.4" y1="537.93" x2="42.6" y2="537.93" stroke="#999" stroke-width="0.6" />
<line x1="42.6" y1="529.46" x2="286.2" y2="529.46" stroke="#c9c9c9" stroke-width="0.75" />
<line x1="39.4" y1="529.46" x2="42.6" y2="529.46" stroke="#999" stroke-width="0.6" />
<line x1="42.6" y1="520.99" x2="286.2" y2="520.99" stroke="#c9c9c9" stroke-width="0.75" />
<line x1="39.4" y1="520.99" x2="42.6" y2="520.99" stroke="#999" stroke-width="0.6" />
<line x1="42.6" y1="512.52" x2="286.2" y2="512.52" stroke="#c9c9c9" stroke-width="0.75" />
<line x1="39.4" y1="512.52" x2="42.6" y2="512.52" stroke="#999" stroke-width="0.6" />
<line x1="42.6" y1="504.05" x2="286.2" y2="504.05" stroke="#c9c9c9" stroke-width="0.75" />
<line x1="39.4" y1="504.05" x2="42.6" y2="504.05" stroke="#999" stroke-width="0.6" />
<line x1="42.6" y1="495.58" x2="286.2" y2="495.58" stroke="#c9c9c9" stroke-width="0.75" />
<line x1="39.4" y1="495.58" x2="42.6" y2="495.58" stroke="#999" stroke-width="0.6" />
<line x1="42.6" y1="487.11" x2="286.2" y2="487.11" stroke="#c9c9c9" stroke-width="0.75" />
<line x1="39.4" y1="487.11" x2="42.6" y2="487.11" stroke="#999" stroke-width="0.6" />
<line x1="42.6" y1="478.64" x2="286.2" y2="478.64" stroke="#c9c9c9" stroke-width="0.75" />
<line x1="39.4" y1="478.64" x2="42.6" y2="478.64" stroke="#999" stroke-width="0.6" />
<line x1="42.6" y1="470.17" x2="286.2" y2="470.17" stroke="#c9c9c9" stroke-width="0.75" />
<line x1="39.4" y1="470.17" x2="42.6" y2="470.17" stroke="#999" stroke-width="0.6" />
<line x1="42.6" y1="461.7" x2="286.2" y2="461.7" stroke="#c9c9c9" stroke-width="0.75" />
<line x1="39.4" y1="461.7" x2="42.6" y2="461.7" stroke="#999" stroke-width="0.6" />
<line x1="42.6" y1="453.23" x2="286.2" y2="453.23" stroke="#c9c9c9" stroke-width="0.75" />
<line x1="39.4" y1="453.23" x2="42.6" y2="453.23" stroke="#999" stroke-width="0.6" />
<line x1="42.6" y1="444.76" x2="286.2" y2="444.76" stroke="#c9c9c9" stroke-width="0.75" />
<line x1="39.4" y1="444.76" x2="42.6" y2="444.76" stroke="#999" stroke-width="0.6" />
<line x1="42.6" y1="436.29" x2="286.2" y2="436.29" stroke="#c9c9c9" stroke-width="0.75" />
<line x1="39.4" y1="436.29" x2="42.6" y2="436.29" stroke="#999" stroke-width="0.6" />
<line x1="42.6" y1="427.82" x2="286.2" y2="427.82" stroke="#c9c9c9" stroke-width="0.75" />
<line x1="39.4" y1="427.82" x2="42.6" y2="427.82" stroke="#999" stroke-width="0.6" />
<line x1="42.6" y1="419.35" x2="286.2" y2="419.35" stroke="#c9c9c9" stroke-width="0.75" />
<line x1="39.4" y1="419.35" x2="42.6" y2="419.35" stroke="#999" stroke-width="0.6" />
<line x1="42.6" y1="410.88" x2="286.2" y2="410.88" stroke="#c9c9c9" stroke-width="0.75" />
<line x1="39.4" y1="410.88" x2="42.6" y2="410.88" stroke="#999" stroke-width="0.6" />
<line x1="42.6" y1="402.41" x2="286.2" y2="402.41" stroke="#c9c9c9" stroke-width="0.75" />
<line x1="39.4" y1="402.41" x2="42.6" y2="402.41" stroke="#999" stroke-width="0.6" />
<line x1="42.6" y1="393.94" x2="286.2" y2="393.94" stroke="#c9c9c9" stroke-width="0.75" />
<line x1="39.4" y1="393.94" x2="42.6" y2="393.94" stroke="#999" stroke-width="0.6" />
<line x1="42.6" y1="385.47" x2="286.2" y2="385.47" stroke="#c9c9c9" stroke-width="0.75" />
<line x1="39.4" y1="385.47" x2="42.6" y2="385.47" stroke="#999" stroke-width="0.6" />
<line x1="42.6" y1="377" x2="286.2" y2="377" stroke="#c9c9c9" stroke-width="0.75" />
<line x1="39.4" y1="377" x2="42.6" y2="377" stroke="#999" stroke-width="0.6" />
<line x1="42.6" y1="368.53" x2="286.2" y2="368.53" stroke="#c9c9c9" stroke-width="0.75" />
<line x1="39.4" y1="368.53" x2="42.6" y2="368.53" stroke="#999" stroke-width="0.6" />
<line x1="42.6" y1="360.06" x2="286.2" y2="360.06" stroke="#c9c9c9" stroke-width="0.75" />
<line x1="39.4" y1="360.06" x2="42.6" y2="360.06" stroke="#999" stroke-width="0.6" />
<line x1="42.6" y1="351.59" x2="286.2" y2="351.59" stroke="#c9c9c9" stroke-width="0.75" />
<line x1="39.4" y1="351.59" x2="42.6" y2="351.59" stroke="#999" stroke-width="0.6" />
<line x1="42.6" y1="343.12" x2="286.2" y2="343.12" stroke="#c9c9c9" stroke-width="0.75" />
<line x1="39.4" y1="343.12" x2="42.6" y2="343.12" stroke="#999" stroke-width="0.6" />
<line x1="42.6" y1="334.65" x2="286.2" y2="334.65" stroke="#c9c9c9" stroke-width="0.75" />
<line x1="39.4" y1="334.65" x2="42.6" y2="334.65" stroke="#999" stroke-width="0.6" />
<line x1="42.6" y1="326.18" x2="286.2" y2="326.18" stroke="#c9c9c9" stroke-width="0.75" />
<line x1="39.4" y1="326.18" x2="42.6" y2="326.18" stroke="#999" stroke-width="0.6" />
<line x1="42.6" y1="317.71" x2="286.2" y2="317.71" stroke="#c9c9c9" stroke-width="0.75" />
<line x1="39.4" y1="317.71" x2="42.6" y2="317.71" stroke="#999" stroke-width="0.6" />
<line x1="42.6" y1="309.24" x2="286.2" y2="309.24" stroke="#c9c9c9" stroke-width="0.75" />
<line x1="39.4" y1="309.24" x2="42.6" y2="309.24" stroke="#999" stroke-width="0.6" />
<line x1="42.6" y1="300.77" x2="286.2" y2="300.77" stroke="#c9c9c9" stroke-width="0.75" />
<line x1="39.4" y1="300.77" x2="42.6" y2="300.77" stroke="#999" stroke-width="0.6" />
<line x1="42.6" y1="292.3" x2="286.2" y2="292.3" stroke="#c9c9c9" stroke-width="0.75" />
<line x1="39.4" y1="292.3" x2="42.6" y2="292.3" stroke="#999" stroke-width="0.6" />
<line x1="42.6" y1="283.83" x2="286.2" y2="283.83" stroke="#c9c9c9" stroke-width="0.75" />
<line x1="39.4" y1="283.83" x2="42.6" y2="283.83" stroke="#999" stroke-width="0.6" />
<line x1="42.6" y1="275.36" x2="286.2" y2="275.36" stroke="#c9c9c9" stroke-width="0.75" />
<line x1="39.4" y1="275.36" x2="42.6" y2="275.36" stroke="#999" stroke-width="0.6" />
<line x1="42.6" y1="266.89" x2="286.2" y2="266.89" stroke="#c9c9c9" stroke-width="0.75" />
<line x1="39.4" y1="266.89" x2="42.6" y2="266.89" stroke="#999" stroke-width="0.6" />
<line x1="42.6" y1="258.42" x2="286.2" y2="258.42" stroke="#c9c9c9" stroke-width="0.75" />
<line x1="39.4" y1="258.42" x2="42.6" y2="258.42" stroke="#999" stroke-width="0.6" />
<text transform="translate(36.9,294.6) scale(1,1.25)" font-size="5.1" text-anchor="end" fill="#333" font-weight="bold">0.14</text>
<text transform="translate(36.9,336.95) scale(1,1.25)" font-size="5.1" text-anchor="end" fill="#333" font-weight="bold">0.12</text>
<text transform="translate(36.9,379.3) scale(1,1.25)" font-size="5.1" text-anchor="end" fill="#333" font-weight="bold">0.1</text>
<text transform="translate(36.9,421.65) scale(1,1.25)" font-size="5.1" text-anchor="end" fill="#333" font-weight="bold">0.08</text>
<text transform="translate(36.9,464) scale(1,1.25)" font-size="5.1" text-anchor="end" fill="#333" font-weight="bold">0.06</text>
<text transform="translate(36.9,506.35) scale(1,1.25)" font-size="5.1" text-anchor="end" fill="#333" font-weight="bold">0.04</text>
<text transform="translate(36.9,548.7) scale(1,1.25)" font-size="5.1" text-anchor="end" fill="#333" font-weight="bold">0.02</text>
<text transform="translate(72.3,599.4) scale(1,1.1)" font-size="5.0" text-anchor="middle" fill="#333" font-weight="bold">65.0</text>
<text transform="translate(107.95,599.4) scale(1,1.1)" font-size="5.0" text-anchor="middle" fill="#333" font-weight="bold">70.0</text>
<text transform="translate(143.6,599.4) scale(1,1.1)" font-size="5.0" text-anchor="middle" fill="#333" font-weight="bold">75.0</text>
<text transform="translate(179.25,599.4) scale(1,1.1)" font-size="5.0" text-anchor="middle" fill="#333" font-weight="bold">80.0</text>
<text transform="translate(214.9,599.4) scale(1,1.1)" font-size="5.0" text-anchor="middle" fill="#333" font-weight="bold">85.0</text>
<text transform="translate(250.55,599.4) scale(1,1.1)" font-size="5.0" text-anchor="middle" fill="#333" font-weight="bold">90.0</text>
<text transform="translate(286.2,599.4) scale(1,1.1)" font-size="5.0" text-anchor="middle" fill="#333" font-weight="bold">95.0</text>
<rect x="42.6" y="253.3" width="243.6" height="336" fill="none" stroke="#606060" stroke-width="1.1"/>
<text x="153.6" y="614.2" font-size="9.6" text-anchor="start" font-weight="bold" fill="#1c1cf0" textLength="40.9">Tm :78.02</text>
<text x="138.4" y="625.7" font-size="9.6" font-weight="bold" textLength="61.5">Temperature</text>
<text x="201.4" y="625.9" font-size="9.6" font-weight="bold">(</text>
<text x="205.3" y="623.6" font-size="5.6" font-weight="normal">°</text>
<text x="207.0" y="625.8" font-size="9.8" font-weight="normal">C</text>
<text x="215.6" y="625.9" font-size="9.6" font-weight="bold">)</text>
<text transform="translate(19.4,479.9) rotate(-90)" font-size="9.6" font-weight="bold" textLength="113.7">Derivative Reporter(-Rn)</text>
<path d="M43.78,532.09 L45.56,532.61 L47.34,533.09 L49.13,533.46 L50.91,533.67 L52.69,533.72 L54.47,533.64 L56.26,533.5 L58.04,533.39 L59.82,533.36 L61.6,533.49 L63.39,533.77 L65.17,534.19 L66.95,534.69 L68.73,535.18 L70.52,535.56 L72.3,535.77 L74.08,535.75 L75.86,535.51 L77.65,535.07 L79.43,534.52 L81.21,533.93 L83,533.41 L84.78,533.02 L86.56,532.81 L88.34,532.77 L90.12,532.87 L91.91,533.02 L93.69,533.16 L95.47,533.2 L97.25,533.11 L99.04,532.87 L100.82,532.5 L102.6,532.08 L104.38,531.69 L106.17,531.42 L107.95,531.33 L109.73,531.46 L111.51,531.81 L113.3,532.33 L115.08,532.95 L116.86,533.57 L118.64,534.1 L120.43,534.47 L122.21,534.64 L123.99,534.6 L125.78,534.39 L127.56,534.05 L129.34,533.59 L131.12,532.98 L132.91,532.1 L134.69,530.71 L136.47,528.43 L138.25,524.74 L140.03,519.04 L141.82,510.67 L143.6,499.02 L145.38,483.66 L147.16,464.46 L148.95,441.73 L150.73,416.2 L152.51,389.11 L154.3,362.05 L156.08,336.75 L157.86,314.93 L159.64,297.95 L161.43,286.71 L163.21,281.4 L164.99,282.27 L166.77,293.29 L168.56,315.78 L170.34,347.4 L172.12,384.47 L173.9,422.97 L175.69,459.43 L177.47,491.48 L179.25,517.88 L181.03,538.38 L182.81,553.47 L184.6,564.03 L186.38,571.07 L188.16,575.54 L189.94,578.23 L191.73,579.74 L193.51,580.48 L195.29,580.75 L197.07,580.76 L198.86,580.62 L200.64,580.45 L202.42,580.29 L204.2,580.18 L205.99,580.12 L207.77,580.1 L209.55,580.08 L211.33,580.03 L213.12,579.91 L214.9,579.71 L216.68,579.41 L218.46,579.05 L220.25,578.65 L222.03,578.27 L223.81,577.97 L225.59,577.77 L227.38,577.71 L229.16,577.8 L230.94,578 L232.73,578.29 L234.51,578.62 L236.29,578.94 L238.07,579.2 L239.86,579.4 L241.64,579.51 L243.42,579.56 L245.2,579.59 L246.99,579.63 L248.77,579.72 L250.55,579.87 L252.33,580.11 L254.12,580.4 L255.9,580.71 L257.68,581.01 L259.46,581.3 L261.25,581.59 L263.03,581.86 L264.81,582.13 L266.59,582.44 L268.38,582.85 L270.16,583.42 L271.94,584.18 L273.72,585.13" fill="none" stroke="#4040b0" stroke-width="0.85" stroke-opacity="1" stroke-linejoin="round"/>
<path d="M43.78,539.82 L45.56,540.04 L47.34,540.35 L49.13,540.69 L50.91,540.96 L52.69,541.09 L54.47,541.02 L56.26,540.73 L58.04,540.25 L59.82,539.64 L61.6,538.98 L63.39,538.38 L65.17,537.91 L66.95,537.64 L68.73,537.57 L70.52,537.69 L72.3,537.92 L74.08,538.19 L75.86,538.42 L77.65,538.55 L79.43,538.53 L81.21,538.38 L83,538.14 L84.78,537.89 L86.56,537.7 L88.34,537.66 L90.12,537.82 L91.91,538.18 L93.69,538.7 L95.47,539.34 L97.25,539.98 L99.04,540.55 L100.82,540.95 L102.6,541.14 L104.38,541.12 L106.17,540.91 L107.95,540.59 L109.73,540.23 L111.51,539.93 L113.3,539.74 L115.08,539.7 L116.86,539.79 L118.64,539.96 L120.43,540.13 L122.21,540.21 L123.99,540.12 L125.78,539.77 L127.56,539.11 L129.34,538.08 L131.12,536.6 L132.91,534.54 L134.69,531.7 L136.47,527.75 L138.25,522.27 L140.03,514.73 L141.82,504.58 L143.6,491.36 L145.38,474.78 L147.16,454.85 L148.95,432 L150.73,407.1 L152.51,381.39 L154.3,356.41 L156.08,333.79 L157.86,315.01 L159.64,301.21 L161.43,293 L163.21,290.32 L164.99,294.17 L166.77,309.33 L168.56,334.69 L170.34,367.46 L172.12,403.94 L173.9,440.48 L175.69,474.18 L177.47,503.13 L179.25,526.5 L181.03,544.31 L182.81,557.18 L184.6,566.03 L186.38,571.84 L188.16,575.5 L189.94,577.71 L191.73,578.98 L193.51,579.65 L195.29,579.93 L197.07,579.95 L198.86,579.8 L200.64,579.55 L202.42,579.25 L204.2,578.96 L205.99,578.72 L207.77,578.58 L209.55,578.55 L211.33,578.61 L213.12,578.74 L214.9,578.91 L216.68,579.06 L218.46,579.18 L220.25,579.23 L222.03,579.21 L223.81,579.15 L225.59,579.06 L227.38,579 L229.16,579 L230.94,579.08 L232.73,579.27 L234.51,579.54 L236.29,579.86 L238.07,580.19 L239.86,580.49 L241.64,580.7 L243.42,580.79 L245.2,580.76 L246.99,580.62 L248.77,580.4 L250.55,580.15 L252.33,579.91 L254.12,579.73 L255.9,579.64 L257.68,579.63 L259.46,579.75 L261.25,580.05 L263.03,580.47 L264.81,580.98 L266.59,581.56 L268.38,582.2 L270.16,582.95 L271.94,583.85 L273.72,584.92" fill="none" stroke="#9040e0" stroke-width="0.85" stroke-opacity="1" stroke-linejoin="round"/>
<path d="M43.78,536.95 L45.56,536.6 L47.34,536.46 L49.13,536.55 L50.91,536.84 L52.69,537.25 L54.47,537.69 L56.26,538.09 L58.04,538.38 L59.82,538.51 L61.6,538.49 L63.39,538.38 L65.17,538.23 L66.95,538.13 L68.73,538.15 L70.52,538.33 L72.3,538.69 L74.08,539.18 L75.86,539.75 L77.65,540.29 L79.43,540.72 L81.21,540.97 L83,540.98 L84.78,540.77 L86.56,540.38 L88.34,539.88 L90.12,539.35 L91.91,538.9 L93.69,538.58 L95.47,538.42 L97.25,538.42 L99.04,538.53 L100.82,538.67 L102.6,538.76 L104.38,538.74 L106.17,538.57 L107.95,538.23 L109.73,537.78 L111.51,537.29 L113.3,536.83 L115.08,536.5 L116.86,536.37 L118.64,536.45 L120.43,536.73 L122.21,537.13 L123.99,537.53 L125.78,537.78 L127.56,537.68 L129.34,537.02 L131.12,535.54 L132.91,532.97 L134.69,528.96 L136.47,523.16 L138.25,515.18 L140.03,504.63 L141.82,491.21 L143.6,474.77 L145.38,455.4 L147.16,433.49 L148.95,409.79 L150.73,385.34 L152.51,361.42 L154.3,339.42 L156.08,320.66 L157.86,306.18 L159.64,296.66 L161.43,292.24 L163.21,293.99 L164.99,306.71 L166.77,330.37 L168.56,362.45 L170.34,399.21 L172.12,436.77 L173.9,471.9 L175.69,502.4 L177.47,527.2 L179.25,546.18 L181.03,559.9 L182.81,569.29 L184.6,575.41 L186.38,579.24 L188.16,581.58 L189.94,583.02 L191.73,583.96 L193.51,584.6 L195.29,585.08 L197.07,585.43 L198.86,585.65 L200.64,585.73 L202.42,585.7 L204.2,585.56 L205.99,585.34 L207.77,585.1 L209.55,584.87 L211.33,584.69 L213.12,584.57 L214.9,584.52 L216.68,584.52 L218.46,584.53 L220.25,584.53 L222.03,584.47 L223.81,584.34 L225.59,584.13 L227.38,583.88 L229.16,583.6 L230.94,583.35 L232.73,583.17 L234.51,583.09 L236.29,583.12 L238.07,583.27 L239.86,583.51 L241.64,583.81 L243.42,584.1 L245.2,584.35 L246.99,584.54 L248.77,584.63 L250.55,584.65 L252.33,584.61 L254.12,584.57 L255.9,584.55 L257.68,584.59 L259.46,584.74 L261.25,585.01 L263.03,585.37 L264.81,585.75 L266.59,586.11 L268.38,586.39 L270.16,586.59 L271.94,586.71 L273.72,586.81" fill="none" stroke="#d03030" stroke-width="0.85" stroke-opacity="1" stroke-linejoin="round"/>
<path d="M43.78,539.09 L45.56,538.88 L47.34,538.9 L49.13,539.13 L50.91,539.51 L52.69,539.96 L54.47,540.4 L56.26,540.74 L58.04,540.94 L59.82,540.98 L61.6,540.9 L63.39,540.76 L65.17,540.63 L66.95,540.6 L68.73,540.72 L70.52,541.01 L72.3,541.45 L74.08,541.99 L75.86,542.55 L77.65,543.02 L79.43,543.33 L81.21,543.42 L83,543.29 L84.78,542.94 L86.56,542.46 L88.34,541.92 L90.12,541.43 L91.91,541.05 L93.69,540.82 L95.47,540.77 L97.25,540.84 L99.04,540.98 L100.82,541.1 L102.6,541.13 L104.38,541.02 L106.17,540.75 L107.95,540.34 L109.73,539.86 L111.51,539.39 L113.3,539.02 L115.08,538.83 L116.86,538.86 L118.64,539.11 L120.43,539.56 L122.21,540.13 L123.99,540.72 L125.78,541.25 L127.56,541.62 L129.34,541.79 L131.12,541.72 L132.91,541.39 L134.69,540.76 L136.47,539.69 L138.25,537.97 L140.03,535.17 L141.82,530.7 L143.6,523.79 L145.38,513.58 L147.16,499.26 L148.95,480.3 L150.73,456.65 L152.51,428.91 L154.3,398.42 L156.08,367.19 L157.86,337.61 L159.64,312.12 L161.43,292.73 L163.21,280.74 L164.99,276.29 L166.77,280.13 L168.56,293.49 L170.34,316.15 L172.12,345.95 L173.9,379.93 L175.69,415.05 L177.47,448.68 L179.25,478.92 L181.03,504.62 L182.81,525.4 L184.6,541.45 L186.38,553.33 L188.16,561.8 L189.94,567.65 L191.73,571.58 L193.51,574.14 L195.29,575.78 L197.07,576.77 L198.86,577.31 L200.64,577.53 L202.42,577.54 L204.2,577.41 L205.99,577.2 L207.77,576.97 L209.55,576.77 L211.33,576.63 L213.12,576.56 L214.9,576.53 L216.68,576.54 L218.46,576.53 L220.25,576.47 L222.03,576.35 L223.81,576.15 L225.59,575.89 L227.38,575.6 L229.16,575.32 L230.94,575.1 L232.73,574.97 L234.51,574.95 L236.29,575.07 L238.07,575.28 L239.86,575.57 L241.64,575.87 L243.42,576.16 L245.2,576.38 L246.99,576.52 L248.77,576.58 L250.55,576.57 L252.33,576.53 L254.12,576.51 L255.9,576.53 L257.68,576.63 L259.46,576.91 L261.25,577.44 L263.03,578.17 L264.81,579.03 L266.59,579.98 L268.38,580.99 L270.16,582.06 L271.94,583.21 L273.72,584.51" fill="none" stroke="#10a0a0" stroke-width="0.85" stroke-opacity="1" stroke-linejoin="round"/>
<path d="M43.78,535.45 L45.56,535.89 L47.34,536.4 L49.13,536.87 L50.91,537.24 L52.69,537.46 L54.47,537.52 L56.26,537.45 L58.04,537.32 L59.82,537.2 L61.6,537.16 L63.39,537.28 L65.17,537.55 L66.95,537.97 L68.73,538.48 L70.52,538.99 L72.3,539.41 L74.08,539.66 L75.86,539.69 L77.65,539.49 L79.43,539.09 L81.21,538.56 L83,537.98 L84.78,537.46 L86.56,537.06 L88.34,536.83 L90.12,536.78 L91.91,536.85 L93.69,537 L95.47,537.14 L97.25,537.18 L99.04,537.1 L100.82,536.85 L102.6,536.49 L104.38,536.05 L106.17,535.63 L107.95,535.32 L109.73,535.19 L111.51,535.28 L113.3,535.59 L115.08,536.08 L116.86,536.68 L118.64,537.28 L120.43,537.79 L122.21,538.11 L123.99,538.18 L125.78,537.95 L127.56,537.38 L129.34,536.39 L131.12,534.89 L132.91,532.68 L134.69,529.47 L136.47,524.84 L138.25,518.32 L140.03,509.38 L141.82,497.55 L143.6,482.51 L145.38,464.22 L147.16,442.95 L148.95,419.38 L150.73,394.58 L152.51,369.88 L154.3,346.76 L156.08,326.64 L157.86,310.73 L159.64,299.81 L161.43,294.12 L163.21,293.99 L164.99,302.17 L166.77,321.51 L168.56,350.11 L170.34,384.67 L172.12,421.38 L173.9,456.82 L175.69,488.48 L177.47,514.94 L179.25,535.78 L181.03,551.35 L182.81,562.41 L184.6,569.93 L186.38,574.86 L188.16,577.97 L189.94,579.88 L191.73,580.98 L193.51,581.56 L195.29,581.8 L197.07,581.81 L198.86,581.68 L200.64,581.48 L202.42,581.27 L204.2,581.09 L205.99,580.96 L207.77,580.89 L209.55,580.86 L211.33,580.84 L213.12,580.79 L214.9,580.69 L216.68,580.5 L218.46,580.23 L220.25,579.89 L222.03,579.51 L223.81,579.16 L225.59,578.86 L227.38,578.68 L229.16,578.63 L230.94,578.72 L232.73,578.92 L234.51,579.22 L236.29,579.55 L238.07,579.87 L239.86,580.14 L241.64,580.32 L243.42,580.43 L245.2,580.48 L246.99,580.49 L248.77,580.51 L250.55,580.57 L252.33,580.71 L254.12,580.92 L255.9,581.2 L257.68,581.51 L259.46,581.86 L261.25,582.24 L263.03,582.61 L264.81,582.95 L266.59,583.27 L268.38,583.63 L270.16,584.08 L271.94,584.67 L273.72,585.44" fill="none" stroke="#c02060" stroke-width="0.85" stroke-opacity="1" stroke-linejoin="round"/>
<path d="M43.78,537.62 L45.56,538.06 L47.34,538.57 L49.13,539.04 L50.91,539.41 L52.69,539.62 L54.47,539.67 L56.26,539.6 L58.04,539.46 L59.82,539.34 L61.6,539.31 L63.39,539.43 L65.17,539.72 L66.95,540.15 L68.73,540.65 L70.52,541.16 L72.3,541.57 L74.08,541.81 L75.86,541.83 L77.65,541.62 L79.43,541.21 L81.21,540.67 L83,540.1 L84.78,539.58 L86.56,539.19 L88.34,538.97 L90.12,538.92 L91.91,539 L93.69,539.15 L95.47,539.28 L97.25,539.32 L99.04,539.23 L100.82,538.98 L102.6,538.61 L104.38,538.17 L106.17,537.76 L107.95,537.45 L109.73,537.33 L111.51,537.43 L113.3,537.76 L115.08,538.26 L116.86,538.87 L118.64,539.48 L120.43,540.02 L122.21,540.41 L123.99,540.6 L125.78,540.61 L127.56,540.46 L129.34,540.22 L131.12,539.93 L132.91,539.61 L134.69,539.16 L136.47,538.41 L138.25,536.99 L140.03,534.37 L141.82,529.83 L143.6,522.53 L145.38,511.57 L147.16,496.17 L148.95,475.87 L150.73,450.75 L152.51,421.56 L154.3,389.77 L156.08,357.5 L157.86,327.22 L159.64,301.36 L161.43,281.92 L163.21,270.09 L164.99,265.94 L166.77,269.89 L168.56,283.69 L170.34,307 L172.12,337.62 L173.9,372.56 L175.69,408.72 L177.47,443.44 L179.25,474.76 L181.03,501.52 L182.81,523.28 L184.6,540.18 L186.38,552.75 L188.16,561.71 L189.94,567.83 L191.73,571.81 L193.51,574.27 L195.29,575.66 L197.07,576.35 L198.86,576.6 L200.64,576.61 L202.42,576.51 L204.2,576.38 L205.99,576.28 L207.77,576.22 L209.55,576.2 L211.33,576.18 L213.12,576.13 L214.9,576.02 L216.68,575.83 L218.46,575.56 L220.25,575.21 L222.03,574.84 L223.81,574.48 L225.59,574.19 L227.38,574.01 L229.16,573.97 L230.94,574.06 L232.73,574.27 L234.51,574.57 L236.29,574.9 L238.07,575.22 L239.86,575.48 L241.64,575.67 L243.42,575.77 L245.2,575.81 L246.99,575.83 L248.77,575.85 L250.55,575.92 L252.33,576.06 L254.12,576.28 L255.9,576.56 L257.68,576.87 L259.46,577.26 L261.25,577.76 L263.03,578.33 L264.81,578.95 L266.59,579.64 L268.38,580.45 L270.16,581.43 L271.94,582.64 L273.72,584.12" fill="none" stroke="#60c0ff" stroke-width="0.85" stroke-opacity="1" stroke-linejoin="round"/>
<path d="M43.78,540.88 L45.56,540.25 L47.34,539.66 L49.13,539.22 L50.91,538.97 L52.69,538.95 L54.47,539.14 L56.26,539.48 L58.04,539.89 L59.82,540.28 L61.6,540.57 L63.39,540.72 L65.17,540.73 L66.95,540.62 L68.73,540.46 L70.52,540.32 L72.3,540.29 L74.08,540.42 L75.86,540.74 L77.65,541.21 L79.43,541.78 L81.21,542.37 L83,542.88 L84.78,543.23 L86.56,543.36 L88.34,543.26 L90.12,542.96 L91.91,542.52 L93.69,542.03 L95.47,541.57 L97.25,541.23 L99.04,541.03 L100.82,541 L102.6,541.08 L104.38,541.22 L106.17,541.34 L107.95,541.35 L109.73,541.21 L111.51,540.91 L113.3,540.46 L115.08,539.94 L116.86,539.42 L118.64,539 L120.43,538.74 L122.21,538.68 L123.99,538.79 L125.78,538.98 L127.56,539.09 L129.34,538.89 L131.12,538.04 L132.91,536.17 L134.69,532.78 L136.47,527.36 L138.25,519.34 L140.03,508.23 L141.82,493.62 L143.6,475.4 L145.38,453.76 L147.16,429.36 L148.95,403.26 L150.73,376.91 L152.51,351.98 L154.3,330.14 L156.08,312.8 L157.86,300.92 L159.64,294.86 L161.43,293.91 L163.21,304.58 L164.99,326.8 L166.77,358.21 L168.56,395.09 L170.34,433.37 L172.12,469.55 L173.9,501.21 L175.69,527.09 L177.47,546.97 L179.25,561.34 L181.03,571.13 L182.81,577.41 L184.6,581.18 L186.38,583.29 L188.16,584.41 L189.94,584.98 L191.73,585.31 L193.51,585.56 L195.29,585.82 L197.07,586.11 L198.86,586.41 L200.64,586.67 L202.42,586.86 L204.2,586.95 L205.99,586.93 L207.77,586.8 L209.55,586.59 L211.33,586.34 L213.12,586.11 L214.9,585.92 L216.68,585.81 L218.46,585.77 L220.25,585.81 L222.03,585.88 L223.81,585.95 L225.59,585.99 L227.38,585.96 L229.16,585.85 L230.94,585.68 L232.73,585.46 L234.51,585.24 L236.29,585.06 L238.07,584.96 L239.86,584.95 L241.64,585.05 L243.42,585.23 L245.2,585.47 L246.99,585.73 L248.77,585.95 L250.55,586.11 L252.33,586.19 L254.12,586.19 L255.9,586.13 L257.68,586.04 L259.46,585.99 L261.25,586.02 L263.03,586.15 L264.81,586.37 L266.59,586.63 L268.38,586.9 L270.16,587.11 L271.94,587.21 L273.72,587.21" fill="none" stroke="#d8d020" stroke-width="0.85" stroke-opacity="1" stroke-linejoin="round"/>
<path d="M43.78,538.25 L45.56,538.15 L47.34,538.28 L49.13,538.59 L50.91,539.03 L52.69,539.49 L54.47,539.9 L56.26,540.18 L58.04,540.31 L59.82,540.3 L61.6,540.18 L63.39,540.04 L65.17,539.95 L66.95,539.98 L68.73,540.17 L70.52,540.53 L72.3,541.02 L74.08,541.58 L75.86,542.1 L77.65,542.5 L79.43,542.71 L81.21,542.69 L83,542.45 L84.78,542.02 L86.56,541.5 L88.34,540.97 L90.12,540.51 L91.91,540.19 L93.69,540.04 L95.47,540.05 L97.25,540.16 L99.04,540.3 L100.82,540.39 L102.6,540.37 L104.38,540.19 L106.17,539.86 L107.95,539.42 L109.73,538.94 L111.51,538.51 L113.3,538.22 L115.08,538.13 L116.86,538.27 L118.64,538.62 L120.43,539.12 L122.21,539.68 L123.99,540.19 L125.78,540.52 L127.56,540.55 L129.34,540.13 L131.12,539.11 L132.91,537.25 L134.69,534.27 L136.47,529.75 L138.25,523.17 L140.03,513.94 L141.82,501.5 L143.6,485.41 L145.38,465.53 L147.16,442.11 L148.95,415.92 L150.73,388.24 L152.51,360.72 L154.3,335.24 L156.08,313.58 L157.86,297.19 L159.64,286.96 L161.43,282.95 L163.21,287.15 L164.99,303.06 L166.77,329.98 L168.56,364.87 L170.34,403.66 L172.12,442.35 L173.9,477.79 L175.69,507.98 L177.47,532.09 L179.25,550.21 L181.03,563.1 L182.81,571.8 L184.6,577.41 L186.38,580.92 L188.16,583.09 L189.94,584.44 L191.73,585.32 L193.51,585.92 L195.29,586.33 L197.07,586.57 L198.86,586.67 L200.64,586.64 L202.42,586.5 L204.2,586.29 L205.99,586.05 L207.77,585.83 L209.55,585.65 L211.33,585.54 L213.12,585.48 L214.9,585.47 L216.68,585.46 L218.46,585.43 L220.25,585.33 L222.03,585.17 L223.81,584.93 L225.59,584.63 L227.38,584.33 L229.16,584.06 L230.94,583.86 L232.73,583.78 L234.51,583.82 L236.29,583.98 L238.07,584.24 L239.86,584.54 L241.64,584.85 L243.42,585.12 L245.2,585.32 L246.99,585.43 L248.77,585.46 L250.55,585.44 L252.33,585.41 L254.12,585.41 L255.9,585.47 L257.68,585.62 L259.46,585.85 L261.25,586.17 L263.03,586.5 L264.81,586.79 L266.59,586.99 L268.38,587.08 L270.16,587.09 L271.94,587.04 L273.72,586.99" fill="none" stroke="#30a030" stroke-width="0.85" stroke-opacity="1" stroke-linejoin="round"/>
<path d="M43.78,542.07 L45.56,542.34 L47.34,542.49 L49.13,542.47 L50.91,542.24 L52.69,541.81 L54.47,541.22 L56.26,540.57 L58.04,539.94 L59.82,539.42 L61.6,539.09 L63.39,538.97 L65.17,539.06 L66.95,539.29 L68.73,539.6 L70.52,539.9 L72.3,540.11 L74.08,540.18 L75.86,540.12 L77.65,539.94 L79.43,539.72 L81.21,539.53 L83,539.46 L84.78,539.55 L86.56,539.85 L88.34,540.32 L90.12,540.92 L91.91,541.57 L93.69,542.15 L95.47,542.6 L97.25,542.84 L99.04,542.86 L100.82,542.67 L102.6,542.34 L104.38,541.95 L106.17,541.57 L107.95,541.3 L109.73,541.16 L111.51,541.18 L113.3,541.3 L115.08,541.47 L116.86,541.6 L118.64,541.62 L120.43,541.48 L122.21,541.15 L123.99,540.65 L125.78,540.03 L127.56,539.35 L129.34,538.67 L131.12,537.98 L132.91,537.22 L134.69,536.17 L136.47,534.51 L138.25,531.75 L140.03,527.25 L141.82,520.31 L143.6,510.18 L145.38,496.28 L147.16,478.25 L148.95,456.18 L150.73,430.65 L152.51,402.79 L154.3,374.21 L156.08,346.82 L157.86,322.56 L159.64,303.14 L161.43,289.73 L163.21,282.79 L164.99,280.84 L166.77,288.53 L168.56,306.68 L170.34,333.76 L172.12,367.02 L173.9,403.16 L175.69,439.06 L177.47,472.25 L179.25,501.12 L181.03,524.9 L182.81,543.52 L184.6,557.41 L186.38,567.3 L188.16,573.99 L189.94,578.3 L191.73,580.88 L193.51,582.31 L195.29,582.98 L197.07,583.21 L198.86,583.21 L200.64,583.13 L202.42,583.07 L204.2,583.07 L205.99,583.16 L207.77,583.31 L209.55,583.5 L211.33,583.68 L213.12,583.81 L214.9,583.86 L216.68,583.83 L218.46,583.72 L220.25,583.57 L222.03,583.41 L223.81,583.29 L225.59,583.25 L227.38,583.31 L229.16,583.47 L230.94,583.71 L232.73,583.99 L234.51,584.27 L236.29,584.49 L238.07,584.62 L239.86,584.64 L241.64,584.55 L243.42,584.37 L245.2,584.15 L246.99,583.93 L248.77,583.76 L250.55,583.66 L252.33,583.65 L254.12,583.72 L255.9,583.85 L257.68,583.99 L259.46,584.14 L261.25,584.28 L263.03,584.4 L264.81,584.51 L266.59,584.65 L268.38,584.85 L270.16,585.16 L271.94,585.58 L273.72,586.11" fill="none" stroke="#00c080" stroke-width="0.85" stroke-opacity="1" stroke-linejoin="round"/>
<path d="M43.78,539.09 L45.56,538.48 L47.34,537.84 L49.13,537.27 L50.91,536.85 L52.69,536.64 L54.47,536.66 L56.26,536.87 L58.04,537.22 L59.82,537.62 L61.6,537.98 L63.39,538.23 L65.17,538.35 L66.95,538.31 L68.73,538.18 L70.52,538.01 L72.3,537.89 L74.08,537.89 L75.86,538.06 L77.65,538.41 L79.43,538.91 L81.21,539.5 L83,540.09 L84.78,540.58 L86.56,540.9 L88.34,541 L90.12,540.87 L91.91,540.54 L93.69,540.1 L95.47,539.62 L97.25,539.19 L99.04,538.88 L100.82,538.73 L102.6,538.73 L104.38,538.84 L106.17,538.98 L107.95,539.08 L109.73,539.06 L111.51,538.88 L113.3,538.54 L115.08,538.06 L116.86,537.52 L118.64,537.01 L120.43,536.6 L122.21,536.38 L123.99,536.37 L125.78,536.54 L127.56,536.81 L129.34,537.02 L131.12,536.98 L132.91,536.41 L134.69,534.98 L136.47,532.28 L138.25,527.86 L140.03,521.22 L141.82,511.84 L143.6,499.27 L145.38,483.23 L147.16,463.67 L148.95,440.93 L150.73,415.74 L152.51,389.26 L154.3,362.96 L156.08,338.49 L157.86,317.44 L159.64,301.12 L161.43,290.36 L163.21,285.36 L164.99,286.29 L166.77,299.11 L168.56,322.94 L170.34,355.19 L172.12,392.16 L173.9,429.98 L175.69,465.42 L177.47,496.27 L179.25,521.42 L181.03,540.71 L182.81,554.67 L184.6,564.19 L186.38,570.32 L188.16,574.05 L189.94,576.21 L191.73,577.42 L193.51,578.12 L195.29,578.58 L197.07,578.95 L198.86,579.29 L200.64,579.59 L202.42,579.85 L204.2,580.02 L205.99,580.07 L207.77,580.02 L209.55,579.86 L211.33,579.64 L213.12,579.4 L214.9,579.18 L216.68,579.01 L218.46,578.93 L220.25,578.93 L222.03,579 L223.81,579.1 L225.59,579.2 L227.38,579.25 L229.16,579.23 L230.94,579.14 L232.73,578.97 L234.51,578.76 L236.29,578.56 L238.07,578.39 L239.86,578.3 L241.64,578.31 L243.42,578.42 L245.2,578.6 L246.99,578.83 L248.77,579.07 L250.55,579.26 L252.33,579.39 L254.12,579.44 L255.9,579.41 L257.68,579.33 L259.46,579.31 L261.25,579.46 L263.03,579.82 L264.81,580.39 L266.59,581.17 L268.38,582.09 L270.16,583.11 L271.94,584.17 L273.72,585.25" fill="none" stroke="#6040d0" stroke-width="0.85" stroke-opacity="1" stroke-linejoin="round"/>
<path d="M43.78,527.83 L45.56,528.33 L47.34,528.83 L49.13,529.25 L50.91,529.53 L52.69,529.65 L54.47,529.62 L56.26,529.5 L58.04,529.36 L59.82,529.29 L61.6,529.35 L63.39,529.57 L65.17,529.94 L66.95,530.41 L68.73,530.92 L70.52,531.37 L72.3,531.67 L74.08,531.77 L75.86,531.63 L77.65,531.28 L79.43,530.78 L81.21,529.97 L83,529.19 L84.78,528.51 L86.56,527.99 L88.34,527.65 L90.12,527.47 L91.91,527.37 L93.69,527.3 L95.47,527.16 L97.25,526.9 L99.04,526.5 L100.82,525.95 L102.6,525.31 L104.38,524.66 L106.17,524.09 L107.95,523.67 L109.73,523.47 L111.51,523.49 L113.3,523.71 L115.08,524.07 L116.86,524.47 L118.64,524.82 L120.43,525.05 L122.21,525.09 L123.99,524.94 L125.78,524.63 L127.56,524.21 L129.34,523.76 L131.12,523.56 L132.91,523.4 L134.69,523.21 L136.47,522.82 L138.25,521.91 L140.03,519.98 L141.82,517.39 L143.6,512.24 L145.38,503.58 L147.16,490.5 L148.95,472.35 L150.73,448.97 L152.51,419.85 L154.3,387.41 L156.08,353.79 L157.86,321.62 L159.64,293.63 L161.43,272.14 L163.21,258.66 L164.99,253.48 L166.77,256.57 L168.56,269.53 L170.34,292.26 L172.12,322.75 L173.9,358.05 L175.69,395.03 L177.47,430.95 L179.25,463.72 L181.03,492.04 L182.81,515.33 L184.6,533.63 L186.38,547.39 L188.16,557.29 L189.94,564.11 L191.73,568.58 L193.51,571.34 L195.29,572.92 L197.07,573.73 L198.86,574.05 L200.64,574.12 L202.42,574.07 L204.2,573.99 L205.99,573.94 L207.77,573.92 L209.55,573.91 L211.33,573.88 L213.12,573.8 L214.9,573.63 L216.68,573.38 L218.46,573.05 L220.25,572.67 L222.03,572.29 L223.81,571.95 L225.59,571.71 L227.38,571.6 L229.16,571.63 L230.94,571.79 L232.73,572.06 L234.51,572.38 L236.29,572.71 L238.07,573 L239.86,573.22 L241.64,573.36 L243.42,573.43 L245.2,573.46 L246.99,573.49 L248.77,573.54 L250.55,573.66 L252.33,573.85 L254.12,574.12 L255.9,574.43 L257.68,574.74 L259.46,575.12 L261.25,575.62 L263.03,576.22 L264.81,576.91 L266.59,577.74 L268.38,578.76 L270.16,580.02 L271.94,581.57 L273.72,583.42" fill="none" stroke="#30d8d8" stroke-width="0.85" stroke-opacity="1" stroke-linejoin="round"/>
<path d="M43.78,535.35 L45.56,535.62 L47.34,535.71 L49.13,535.66 L50.91,535.53 L52.69,535.39 L54.47,535.33 L56.26,535.39 L58.04,535.61 L59.82,535.97 L61.6,536.42 L63.39,536.87 L65.17,537.24 L66.95,537.45 L68.73,537.44 L70.52,537.2 L72.3,536.76 L74.08,536.19 L75.86,535.57 L77.65,535.01 L79.43,534.58 L81.21,534.32 L83,534.25 L84.78,534.33 L86.56,534.5 L88.34,534.67 L90.12,534.77 L91.91,534.75 L93.69,534.58 L95.47,534.28 L97.25,533.91 L99.04,533.55 L100.82,533.28 L102.6,533.19 L104.38,533.31 L106.17,533.65 L107.95,534.17 L109.73,534.8 L111.51,535.44 L113.3,536.01 L115.08,536.41 L116.86,536.62 L118.64,536.64 L120.43,536.5 L122.21,536.27 L123.99,536.03 L125.78,535.85 L127.56,535.78 L129.34,535.8 L131.12,535.83 L132.91,535.73 L134.69,535.25 L136.47,534.05 L138.25,531.71 L140.03,527.67 L141.82,521.32 L143.6,511.98 L145.38,499.06 L147.16,482.11 L148.95,461.03 L150.73,436.18 L152.51,408.46 L154.3,379.32 L156.08,350.64 L157.86,324.44 L159.64,302.65 L161.43,286.74 L163.21,277.48 L164.99,275.04 L166.77,280.75 L168.56,297.91 L170.34,325.2 L172.12,359.76 L173.9,397.9 L175.69,436.05 L177.47,471.36 L179.25,501.94 L181.03,526.9 L182.81,546.19 L184.6,560.3 L186.38,570.09 L188.16,576.5 L189.94,580.46 L191.73,582.72 L193.51,583.91 L195.29,584.47 L197.07,584.71 L198.86,584.79 L200.64,584.84 L202.42,584.88 L204.2,584.9 L205.99,584.89 L207.77,584.81 L209.55,584.63 L211.33,584.36 L213.12,584 L214.9,583.58 L216.68,583.17 L218.46,582.8 L220.25,582.52 L222.03,582.38 L223.81,582.37 L225.59,582.5 L227.38,582.73 L229.16,583.01 L230.94,583.31 L232.73,583.57 L234.51,583.77 L236.29,583.91 L238.07,584 L239.86,584.05 L241.64,584.12 L243.42,584.22 L245.2,584.39 L246.99,584.64 L248.77,584.94 L250.55,585.27 L252.33,585.58 L254.12,585.84 L255.9,586 L257.68,586.04 L259.46,585.96 L261.25,585.82 L263.03,585.64 L264.81,585.5 L266.59,585.46 L268.38,585.53 L270.16,585.73 L271.94,586.03 L273.72,586.4" fill="none" stroke="#20c060" stroke-width="0.85" stroke-opacity="1" stroke-linejoin="round"/>
<path d="M43.78,536.01 L45.56,535.96 L47.34,536.04 L49.13,536.27 L50.91,536.61 L52.69,536.98 L54.47,537.3 L56.26,537.49 L58.04,537.49 L59.82,537.27 L61.6,536.84 L63.39,536.26 L65.17,535.61 L66.95,534.99 L68.73,534.49 L70.52,534.16 L72.3,534.04 L74.08,534.11 L75.86,534.3 L77.65,534.54 L79.43,534.75 L81.21,534.86 L83,534.84 L84.78,534.67 L86.56,534.41 L88.34,534.13 L90.12,533.9 L91.91,533.8 L93.69,533.9 L95.47,534.21 L97.25,534.7 L99.04,535.32 L100.82,535.98 L102.6,536.57 L104.38,537.03 L106.17,537.28 L107.95,537.32 L109.73,537.17 L111.51,536.9 L113.3,536.58 L115.08,536.29 L116.86,536.11 L118.64,536.05 L120.43,536.11 L122.21,536.23 L123.99,536.29 L125.78,536.16 L127.56,535.68 L129.34,534.64 L131.12,532.85 L132.91,530.04 L134.69,525.95 L136.47,520.23 L138.25,512.52 L140.03,502.47 L141.82,489.76 L143.6,474.22 L145.38,455.87 L147.16,435.04 L148.95,412.37 L150.73,388.82 L152.51,365.6 L154.3,344.05 L156.08,325.45 L157.86,310.91 L159.64,301.13 L161.43,296.36 L163.21,297.07 L164.99,307.59 L166.77,329.21 L168.56,359.71 L170.34,395.51 L172.12,432.67 L173.9,467.83 L175.69,498.61 L177.47,523.79 L179.25,543.13 L181.03,557.13 L182.81,566.68 L184.6,572.86 L186.38,576.64 L188.16,578.85 L189.94,580.11 L191.73,580.82 L193.51,581.22 L195.29,581.44 L197.07,581.53 L198.86,581.51 L200.64,581.37 L202.42,581.12 L204.2,580.8 L205.99,580.45 L207.77,580.1 L209.55,579.81 L211.33,579.61 L213.12,579.52 L214.9,579.54 L216.68,579.65 L218.46,579.82 L220.25,580 L222.03,580.16 L223.81,580.27 L225.59,580.32 L227.38,580.33 L229.16,580.31 L230.94,580.31 L232.73,580.35 L234.51,580.48 L236.29,580.69 L238.07,580.98 L239.86,581.32 L241.64,581.67 L243.42,581.98 L245.2,582.2 L246.99,582.31 L248.77,582.29 L250.55,582.15 L252.33,581.93 L254.12,581.67 L255.9,581.41 L257.68,581.2 L259.46,581.12 L261.25,581.24 L263.03,581.54 L264.81,581.98 L266.59,582.53 L268.38,583.14 L270.16,583.81 L271.94,584.54 L273.72,585.38" fill="none" stroke="#e04080" stroke-width="0.85" stroke-opacity="1" stroke-linejoin="round"/>
<path d="M43.78,536.77 L45.56,536.27 L47.34,535.96 L49.13,535.86 L50.91,535.99 L52.69,536.3 L54.47,536.71 L56.26,537.14 L58.04,537.51 L59.82,537.75 L61.6,537.84 L63.39,537.79 L65.17,537.65 L66.95,537.5 L68.73,537.42 L70.52,537.48 L72.3,537.71 L74.08,538.1 L75.86,538.63 L77.65,539.2 L79.43,539.74 L81.21,540.15 L83,540.35 L84.78,540.33 L86.56,540.08 L88.34,539.67 L90.12,539.16 L91.91,538.66 L93.69,538.24 L95.47,537.96 L97.25,537.85 L99.04,537.88 L100.82,538 L102.6,538.14 L104.38,538.21 L106.17,538.15 L107.95,537.93 L109.73,537.56 L111.51,537.08 L113.3,536.57 L115.08,536.13 L116.86,535.83 L118.64,535.75 L120.43,535.89 L122.21,536.24 L123.99,536.74 L125.78,537.29 L127.56,537.77 L129.34,538.07 L131.12,538.05 L132.91,537.59 L134.69,536.51 L136.47,534.57 L138.25,531.44 L140.03,526.68 L141.82,519.71 L143.6,509.89 L145.38,496.6 L147.16,479.39 L148.95,458.13 L150.73,433.15 L152.51,405.34 L154.3,376.12 L156.08,347.33 L157.86,320.99 L159.64,299.01 L161.43,282.85 L163.21,273.32 L164.99,270.71 L166.77,276.83 L168.56,295.31 L170.34,324.41 L172.12,360.78 L173.9,400.34 L175.69,439.21 L177.47,474.43 L179.25,504.19 L181.03,527.79 L182.81,545.46 L184.6,557.98 L186.38,566.42 L188.16,571.86 L189.94,575.26 L191.73,577.36 L193.51,578.68 L195.29,579.54 L197.07,580.12 L198.86,580.49 L200.64,580.71 L202.42,580.77 L204.2,580.71 L205.99,580.55 L207.77,580.32 L209.55,580.07 L211.33,579.85 L213.12,579.69 L214.9,579.6 L216.68,579.57 L218.46,579.59 L220.25,579.62 L222.03,579.63 L223.81,579.57 L225.59,579.45 L227.38,579.26 L229.16,579.01 L230.94,578.76 L232.73,578.54 L234.51,578.38 L236.29,578.33 L238.07,578.4 L239.86,578.57 L241.64,578.81 L243.42,579.1 L245.2,579.37 L246.99,579.59 L248.77,579.74 L250.55,579.8 L252.33,579.79 L254.12,579.73 L255.9,579.68 L257.68,579.66 L259.46,579.79 L261.25,580.12 L263.03,580.66 L264.81,581.34 L266.59,582.12 L268.38,582.94 L270.16,583.76 L271.94,584.59 L273.72,585.45" fill="none" stroke="#3050e0" stroke-width="0.85" stroke-opacity="1" stroke-linejoin="round"/>
<path d="M43.78,534.79 L45.56,534.49 L47.34,534.01 L49.13,533.4 L50.91,532.75 L52.69,532.16 L54.47,531.7 L56.26,531.44 L58.04,531.41 L59.82,531.57 L61.6,531.87 L63.39,532.24 L65.17,532.57 L66.95,532.81 L68.73,532.91 L70.52,532.86 L72.3,532.71 L74.08,532.53 L75.86,532.38 L77.65,532.36 L79.43,532.5 L81.21,532.84 L83,533.34 L84.78,533.94 L86.56,534.56 L88.34,535.09 L90.12,535.46 L91.91,535.61 L93.69,535.54 L95.47,535.26 L97.25,534.86 L99.04,534.41 L100.82,534 L102.6,533.71 L104.38,533.56 L106.17,533.57 L107.95,533.68 L109.73,533.83 L111.51,533.93 L113.3,533.93 L115.08,533.75 L116.86,533.41 L118.64,532.91 L120.43,532.33 L122.21,531.74 L123.99,531.21 L125.78,530.76 L127.56,530.36 L129.34,529.87 L131.12,529.05 L132.91,527.52 L134.69,524.79 L136.47,520.24 L138.25,513.23 L140.03,503.13 L141.82,489.47 L143.6,472.01 L145.38,450.91 L147.16,426.78 L148.95,400.69 L150.73,374.14 L152.51,348.82 L154.3,326.47 L156.08,308.57 L157.86,296.13 L159.64,289.55 L161.43,287.33 L163.21,295.75 L164.99,315.88 L166.77,345.82 L168.56,382.11 L170.34,420.67 L172.12,457.85 L173.9,490.99 L175.69,518.6 L177.47,540.25 L179.25,556.27 L181.03,567.5 L182.81,574.94 L184.6,579.58 L186.38,582.29 L188.16,583.72 L189.94,584.37 L191.73,584.59 L193.51,584.61 L195.29,584.58 L197.07,584.58 L198.86,584.66 L200.64,584.82 L202.42,585.04 L204.2,585.28 L205.99,585.49 L207.77,585.64 L209.55,585.68 L211.33,585.62 L213.12,585.47 L214.9,585.26 L216.68,585.04 L218.46,584.84 L220.25,584.72 L222.03,584.68 L223.81,584.74 L225.59,584.88 L227.38,585.06 L229.16,585.23 L230.94,585.36 L232.73,585.41 L234.51,585.38 L236.29,585.25 L238.07,585.07 L239.86,584.87 L241.64,584.69 L243.42,584.57 L245.2,584.54 L246.99,584.61 L248.77,584.74 L250.55,584.93 L252.33,585.12 L254.12,585.28 L255.9,585.38 L257.68,585.4 L259.46,585.36 L261.25,585.31 L263.03,585.28 L264.81,585.33 L266.59,585.48 L268.38,585.74 L270.16,586.06 L271.94,586.41 L273.72,586.73" fill="none" stroke="#a0e020" stroke-width="0.85" stroke-opacity="1" stroke-linejoin="round"/>
<path d="M43.78,535.39 L45.56,535.72 L47.34,535.87 L49.13,535.87 L50.91,535.76 L52.69,535.61 L54.47,535.51 L56.26,535.53 L58.04,535.7 L59.82,536.02 L61.6,536.45 L63.39,536.91 L65.17,537.33 L66.95,537.61 L68.73,537.68 L70.52,537.53 L72.3,537.16 L74.08,536.63 L75.86,536.03 L77.65,535.44 L79.43,534.96 L81.21,534.63 L83,534.5 L84.78,534.53 L86.56,534.67 L88.34,534.85 L90.12,534.98 L91.91,535 L93.69,534.87 L95.47,534.61 L97.25,534.25 L99.04,533.87 L100.82,533.56 L102.6,533.39 L104.38,533.43 L106.17,533.69 L107.95,534.15 L109.73,534.74 L111.51,535.39 L113.3,535.99 L115.08,536.46 L116.86,536.74 L118.64,536.82 L120.43,536.71 L122.21,536.47 L123.99,536.16 L125.78,535.82 L127.56,535.45 L129.34,534.97 L131.12,534.22 L132.91,532.93 L134.69,530.69 L136.47,527.02 L138.25,521.36 L140.03,513.16 L141.82,501.91 L143.6,487.3 L145.38,469.24 L147.16,448 L148.95,424.23 L150.73,398.96 L152.51,373.52 L154.3,349.4 L156.08,328.08 L157.86,310.83 L159.64,298.52 L161.43,291.52 L163.21,289.87 L164.99,295.55 L166.77,312.42 L168.56,339.15 L170.34,372.85 L172.12,409.83 L173.9,446.54 L175.69,480.24 L177.47,509.18 L179.25,532.58 L181.03,550.49 L182.81,563.5 L184.6,572.46 L186.38,578.3 L188.16,581.87 L189.94,583.9 L191.73,584.93 L193.51,585.36 L195.29,585.47 L197.07,585.43 L198.86,585.37 L200.64,585.32 L202.42,585.31 L204.2,585.32 L205.99,585.31 L207.77,585.25 L209.55,585.11 L211.33,584.87 L213.12,584.53 L214.9,584.13 L216.68,583.71 L218.46,583.32 L220.25,583.01 L222.03,582.82 L223.81,582.77 L225.59,582.86 L227.38,583.06 L229.16,583.34 L230.94,583.64 L232.73,583.93 L234.51,584.16 L236.29,584.32 L238.07,584.42 L239.86,584.48 L241.64,584.54 L243.42,584.62 L245.2,584.77 L246.99,584.98 L248.77,585.26 L250.55,585.58 L252.33,585.9 L254.12,586.19 L255.9,586.38 L257.68,586.47 L259.46,586.44 L261.25,586.31 L263.03,586.13 L264.81,585.96 L266.59,585.86 L268.38,585.87 L270.16,586 L271.94,586.22 L273.72,586.52" fill="none" stroke="#e02020" stroke-width="0.85" stroke-opacity="1" stroke-linejoin="round"/>
<path d="M43.78,541.37 L45.56,541.22 L47.34,541.17 L49.13,541.25 L50.91,541.48 L52.69,541.83 L54.47,542.22 L56.26,542.57 L58.04,542.79 L59.82,542.83 L61.6,542.64 L63.39,542.24 L65.17,541.68 L66.95,541.04 L68.73,540.42 L70.52,539.9 L72.3,539.55 L74.08,539.41 L75.86,539.44 L77.65,539.61 L79.43,539.84 L81.21,540.04 L83,540.15 L84.78,540.12 L86.56,539.95 L88.34,539.68 L90.12,539.38 L91.91,539.12 L93.69,539 L95.47,539.06 L97.25,539.34 L99.04,539.81 L100.82,540.41 L102.6,541.07 L104.38,541.68 L106.17,542.16 L107.95,542.45 L109.73,542.52 L111.51,542.41 L113.3,542.16 L115.08,541.86 L116.86,541.58 L118.64,541.41 L120.43,541.37 L122.21,541.47 L123.99,541.66 L125.78,541.86 L127.56,541.96 L129.34,541.85 L131.12,541.41 L132.91,540.5 L134.69,538.95 L136.47,536.52 L138.25,532.9 L140.03,527.65 L141.82,520.22 L143.6,509.99 L145.38,496.38 L147.16,478.93 L148.95,457.55 L150.73,432.55 L152.51,404.84 L154.3,375.82 L156.08,347.31 L157.86,321.32 L159.64,299.73 L161.43,284 L163.21,274.93 L164.99,272.8 L166.77,278.73 L168.56,296.18 L170.34,323.61 L172.12,358.09 L173.9,395.94 L175.69,433.63 L177.47,468.33 L179.25,498.22 L181.03,522.45 L182.81,541.01 L184.6,554.49 L186.38,563.78 L188.16,569.89 L189.94,573.73 L191.73,576.06 L193.51,577.44 L195.29,578.24 L197.07,578.68 L198.86,578.89 L200.64,578.91 L202.42,578.8 L204.2,578.56 L205.99,578.23 L207.77,577.86 L209.55,577.49 L211.33,577.17 L213.12,576.94 L214.9,576.83 L216.68,576.84 L218.46,576.95 L220.25,577.13 L222.03,577.33 L223.81,577.51 L225.59,577.65 L227.38,577.74 L229.16,577.78 L230.94,577.79 L232.73,577.81 L234.51,577.88 L236.29,578.01 L238.07,578.22 L239.86,578.52 L241.64,578.86 L243.42,579.21 L245.2,579.52 L246.99,579.75 L248.77,579.87 L250.55,579.86 L252.33,579.72 L254.12,579.5 L255.9,579.23 L257.68,578.97 L259.46,578.82 L261.25,578.9 L263.03,579.22 L264.81,579.77 L266.59,580.51 L268.38,581.39 L270.16,582.38 L271.94,583.48 L273.72,584.71" fill="none" stroke="#2080e0" stroke-width="0.85" stroke-opacity="1" stroke-linejoin="round"/>
<path d="M43.78,533.88 L45.56,534.26 L47.34,534.48 L49.13,534.53 L50.91,534.46 L52.69,534.32 L54.47,534.19 L56.26,534.16 L58.04,534.27 L59.82,534.54 L61.6,534.94 L63.39,535.4 L65.17,535.86 L66.95,536.21 L68.73,536.37 L70.52,536.32 L72.3,536.04 L74.08,535.57 L75.86,534.99 L77.65,534.39 L79.43,533.85 L81.21,533.46 L83,533.25 L84.78,533.22 L86.56,533.32 L88.34,533.49 L90.12,533.65 L91.91,533.71 L93.69,533.64 L95.47,533.43 L97.25,533.09 L99.04,532.7 L100.82,532.35 L102.6,532.11 L104.38,532.05 L106.17,532.22 L107.95,532.6 L109.73,533.14 L111.51,533.78 L113.3,534.41 L115.08,534.94 L116.86,535.29 L118.64,535.45 L120.43,535.39 L122.21,535.15 L123.99,534.77 L125.78,534.25 L127.56,533.56 L129.34,532.55 L131.12,530.96 L132.91,528.39 L134.69,524.3 L136.47,518.07 L138.25,509.04 L140.03,496.66 L141.82,480.59 L143.6,460.85 L145.38,437.91 L147.16,412.72 L148.95,386.67 L150.73,361.44 L152.51,338.78 L154.3,320.24 L156.08,306.96 L157.86,299.47 L159.64,298.09 L161.43,303.3 L163.21,318.61 L164.99,342.96 L166.77,373.91 L168.56,408.24 L170.34,442.82 L172.12,475.11 L173.9,503.41 L175.69,526.89 L177.47,545.39 L179.25,559.32 L181.03,569.35 L182.81,576.26 L184.6,580.81 L186.38,583.67 L188.16,585.35 L189.94,586.23 L191.73,586.6 L193.51,586.67 L195.29,586.58 L197.07,586.43 L198.86,586.29 L200.64,586.2 L202.42,586.16 L204.2,586.15 L205.99,586.15 L207.77,586.11 L209.55,586 L211.33,585.79 L213.12,585.49 L214.9,585.11 L216.68,584.69 L218.46,584.29 L220.25,583.94 L222.03,583.71 L223.81,583.61 L225.59,583.65 L227.38,583.82 L229.16,584.09 L230.94,584.39 L232.73,584.69 L234.51,584.95 L236.29,585.15 L238.07,585.27 L239.86,585.34 L241.64,585.39 L243.42,585.46 L245.2,585.57 L246.99,585.75 L248.77,586 L250.55,586.31 L252.33,586.63 L254.12,586.94 L255.9,587.17 L257.68,587.3 L259.46,587.31 L261.25,587.2 L263.03,587.01 L264.81,586.79 L266.59,586.61 L268.38,586.51 L270.16,586.51 L271.94,586.6 L273.72,586.76" fill="none" stroke="#e07030" stroke-width="0.85" stroke-opacity="1" stroke-linejoin="round"/>
<path d="M43.78,536.02 L45.56,535.85 L47.34,535.74 L49.13,535.75 L50.91,535.9 L52.69,536.2 L54.47,536.58 L56.26,536.97 L58.04,537.29 L59.82,537.45 L61.6,537.4 L63.39,537.13 L65.17,536.66 L66.95,536.06 L68.73,535.42 L70.52,534.83 L72.3,534.38 L74.08,534.11 L75.86,534.04 L77.65,534.14 L79.43,534.33 L81.21,534.55 L83,534.72 L84.78,534.76 L86.56,534.66 L88.34,534.43 L90.12,534.13 L91.91,533.83 L93.69,533.61 L95.47,533.55 L97.25,533.7 L99.04,534.05 L100.82,534.59 L102.6,535.23 L104.38,535.88 L106.17,536.45 L107.95,536.85 L109.73,537.06 L111.51,537.05 L113.3,536.88 L115.08,536.6 L116.86,536.31 L118.64,536.07 L120.43,535.93 L122.21,535.9 L123.99,535.92 L125.78,535.88 L127.56,535.6 L129.34,534.82 L131.12,533.23 L132.91,530.44 L134.69,526 L136.47,519.43 L138.25,510.22 L140.03,497.97 L141.82,482.41 L143.6,463.54 L145.38,441.72 L147.16,417.73 L148.95,392.72 L150.73,368.17 L152.51,345.66 L154.3,326.69 L156.08,312.46 L157.86,303.64 L159.64,300.28 L161.43,304.01 L163.21,318.59 L164.99,343.46 L166.77,375.93 L168.56,412.29 L170.34,448.83 L172.12,482.56 L173.9,511.56 L175.69,534.95 L177.47,552.71 L179.25,565.44 L181.03,574.04 L182.81,579.49 L184.6,582.73 L186.38,584.5 L188.16,585.39 L189.94,585.8 L191.73,585.98 L193.51,586.08 L195.29,586.16 L197.07,586.22 L198.86,586.26 L200.64,586.24 L202.42,586.12 L204.2,585.91 L205.99,585.6 L207.77,585.24 L209.55,584.85 L211.33,584.48 L213.12,584.19 L214.9,584.01 L216.68,583.95 L218.46,584.01 L220.25,584.15 L222.03,584.35 L223.81,584.56 L225.59,584.75 L227.38,584.88 L229.16,584.96 L230.94,585 L232.73,585.03 L234.51,585.07 L236.29,585.17 L238.07,585.34 L239.86,585.59 L241.64,585.91 L243.42,586.26 L245.2,586.6 L246.99,586.88 L248.77,587.06 L250.55,587.12 L252.33,587.06 L254.12,586.88 L255.9,586.63 L257.68,586.35 L259.46,586.11 L261.25,585.95 L263.03,585.9 L264.81,585.96 L266.59,586.09 L268.38,586.27 L270.16,586.45 L271.94,586.61 L273.72,586.76" fill="none" stroke="#808020" stroke-width="0.85" stroke-opacity="1" stroke-linejoin="round"/>
<path d="M43.78,538.31 L45.56,538.81 L47.34,539.31 L49.13,539.75 L50.91,540.05 L52.69,540.19 L54.47,540.17 L56.26,540.06 L58.04,539.92 L59.82,539.84 L61.6,539.88 L63.39,540.07 L65.17,540.42 L66.95,540.89 L68.73,541.4 L70.52,541.87 L72.3,542.2 L74.08,542.33 L75.86,542.22 L77.65,541.9 L79.43,541.42 L81.21,540.84 L83,540.28 L84.78,539.81 L86.56,539.5 L88.34,539.36 L90.12,539.38 L91.91,539.51 L93.69,539.66 L95.47,539.76 L97.25,539.75 L99.04,539.59 L100.82,539.28 L102.6,538.87 L104.38,538.45 L106.17,538.08 L107.95,537.86 L109.73,537.85 L111.51,538.07 L113.3,538.5 L115.08,539.06 L116.86,539.69 L118.64,540.28 L120.43,540.76 L122.21,541.05 L123.99,541.15 L125.78,541.08 L127.56,540.89 L129.34,540.64 L131.12,540.38 L132.91,540.1 L134.69,539.71 L136.47,538.98 L138.25,537.54 L140.03,534.84 L141.82,530.13 L143.6,522.54 L145.38,511.2 L147.16,495.3 L148.95,474.42 L150.73,448.64 L152.51,418.72 L154.3,386.2 L156.08,353.21 L157.86,322.27 L159.64,295.86 L161.43,276.02 L163.21,263.94 L164.99,259.69 L166.77,263.75 L168.56,278.25 L170.34,302.67 L172.12,334.64 L173.9,370.95 L175.69,408.35 L177.47,444.04 L179.25,476.01 L181.03,503.08 L182.81,524.88 L184.6,541.63 L186.38,553.92 L188.16,562.56 L189.94,568.35 L191.73,572.04 L193.51,574.25 L195.29,575.45 L197.07,576.01 L198.86,576.18 L200.64,576.15 L202.42,576.04 L204.2,575.93 L205.99,575.86 L207.77,575.82 L209.55,575.81 L211.33,575.78 L213.12,575.71 L214.9,575.56 L216.68,575.32 L218.46,575 L220.25,574.62 L222.03,574.24 L223.81,573.9 L225.59,573.65 L227.38,573.52 L229.16,573.53 L230.94,573.68 L232.73,573.94 L234.51,574.25 L236.29,574.58 L238.07,574.88 L239.86,575.11 L241.64,575.27 L243.42,575.34 L245.2,575.37 L246.99,575.39 L248.77,575.44 L250.55,575.55 L252.33,575.73 L254.12,575.98 L255.9,576.29 L257.68,576.6 L259.46,576.97 L261.25,577.44 L263.03,577.97 L264.81,578.56 L266.59,579.25 L268.38,580.08 L270.16,581.12 L271.94,582.41 L273.72,583.97" fill="none" stroke="#20b8c0" stroke-width="0.85" stroke-opacity="1" stroke-linejoin="round"/>
<path d="M43.78,537.76 L45.56,537.61 L47.34,537.56 L49.13,537.64 L50.91,537.87 L52.69,538.21 L54.47,538.6 L56.26,538.95 L58.04,539.18 L59.82,539.22 L61.6,539.03 L63.39,538.64 L65.17,538.08 L66.95,537.44 L68.73,536.82 L70.52,536.3 L72.3,535.95 L74.08,535.8 L75.86,535.83 L77.65,536 L79.43,536.23 L81.21,536.43 L83,536.54 L84.78,536.51 L86.56,536.35 L88.34,536.08 L90.12,535.77 L91.91,535.51 L93.69,535.39 L95.47,535.45 L97.25,535.72 L99.04,536.19 L100.82,536.8 L102.6,537.46 L104.38,538.07 L106.17,538.55 L107.95,538.84 L109.73,538.92 L111.51,538.8 L113.3,538.55 L115.08,538.25 L116.86,537.98 L118.64,537.8 L120.43,537.76 L122.21,537.86 L123.99,538.03 L125.78,538.21 L127.56,538.28 L129.34,538.11 L131.12,537.54 L132.91,536.41 L134.69,534.49 L136.47,531.51 L138.25,527.09 L140.03,520.74 L141.82,511.91 L143.6,500.03 L145.38,484.63 L147.16,465.47 L148.95,442.71 L150.73,416.98 L152.51,389.43 L154.3,361.67 L156.08,335.55 L157.86,312.94 L159.64,295.41 L161.43,284.01 L163.21,279.04 L164.99,281.46 L166.77,295.68 L168.56,321.81 L170.34,356.91 L172.12,396.77 L173.9,437.05 L175.69,474.22 L177.47,506.01 L179.25,531.4 L181.03,550.42 L182.81,563.83 L184.6,572.73 L186.38,578.3 L188.16,581.6 L189.94,583.46 L191.73,584.48 L193.51,585.04 L195.29,585.35 L197.07,585.52 L198.86,585.59 L200.64,585.54 L202.42,585.39 L204.2,585.14 L205.99,584.8 L207.77,584.42 L209.55,584.05 L211.33,583.74 L213.12,583.51 L214.9,583.4 L216.68,583.41 L218.46,583.51 L220.25,583.69 L222.03,583.89 L223.81,584.07 L225.59,584.22 L227.38,584.31 L229.16,584.34 L230.94,584.36 L232.73,584.38 L234.51,584.44 L236.29,584.57 L238.07,584.79 L239.86,585.08 L241.64,585.42 L243.42,585.77 L245.2,586.08 L246.99,586.31 L248.77,586.43 L250.55,586.42 L252.33,586.29 L254.12,586.07 L255.9,585.8 L257.68,585.53 L259.46,585.33 L261.25,585.23 L263.03,585.26 L264.81,585.4 L266.59,585.62 L268.38,585.86 L270.16,586.1 L271.94,586.32 L273.72,586.56" fill="none" stroke="#40d040" stroke-width="0.85" stroke-opacity="1" stroke-linejoin="round"/>
<path d="M43.78,535.43 L45.56,535.27 L47.34,535.19 L49.13,535.25 L50.91,535.45 L52.69,535.78 L54.47,536.17 L56.26,536.54 L58.04,536.8 L59.82,536.89 L61.6,536.75 L63.39,536.4 L65.17,535.87 L66.95,535.25 L68.73,534.61 L70.52,534.06 L72.3,533.67 L74.08,533.48 L75.86,533.48 L77.65,533.62 L79.43,533.84 L81.21,534.05 L83,534.18 L84.78,534.18 L86.56,534.04 L88.34,533.78 L90.12,533.47 L91.91,533.2 L93.69,533.03 L95.47,533.05 L97.25,533.28 L99.04,533.71 L100.82,534.29 L102.6,534.94 L104.38,535.57 L106.17,536.09 L107.95,536.42 L109.73,536.55 L111.51,536.47 L113.3,536.25 L115.08,535.95 L116.86,535.67 L118.64,535.46 L120.43,535.37 L122.21,535.4 L123.99,535.47 L125.78,535.47 L127.56,535.22 L129.34,534.5 L131.12,533.01 L132.91,530.4 L134.69,526.28 L136.47,520.17 L138.25,511.61 L140.03,500.16 L141.82,485.53 L143.6,467.63 L145.38,446.72 L147.16,423.46 L148.95,398.92 L150.73,374.46 L152.51,351.67 L154.3,332.06 L156.08,316.91 L157.86,307.01 L159.64,302.6 L161.43,304.48 L163.21,316.54 L164.99,339.04 L166.77,369.7 L168.56,405.03 L170.34,441.34 L172.12,475.52 L173.9,505.42 L175.69,529.94 L177.47,548.87 L179.25,562.66 L181.03,572.14 L182.81,578.27 L184.6,582 L186.38,584.12 L188.16,585.24 L189.94,585.8 L191.73,586.08 L193.51,586.24 L195.29,586.36 L197.07,586.44 L198.86,586.47 L200.64,586.42 L202.42,586.28 L204.2,586.04 L205.99,585.71 L207.77,585.34 L209.55,584.96 L211.33,584.62 L213.12,584.37 L214.9,584.23 L216.68,584.21 L218.46,584.3 L220.25,584.47 L222.03,584.67 L223.81,584.87 L225.59,585.03 L227.38,585.13 L229.16,585.19 L230.94,585.21 L232.73,585.23 L234.51,585.28 L236.29,585.4 L238.07,585.6 L239.86,585.88 L241.64,586.21 L243.42,586.56 L245.2,586.89 L246.99,587.14 L248.77,587.28 L250.55,587.3 L252.33,587.19 L254.12,586.98 L255.9,586.72 L257.68,586.45 L259.46,586.22 L261.25,586.08 L263.03,586.06 L264.81,586.13 L266.59,586.27 L268.38,586.43 L270.16,586.57 L271.94,586.7 L273.72,586.81" fill="none" stroke="#f09060" stroke-width="0.85" stroke-opacity="1" stroke-linejoin="round"/>
<path d="M43.78,546.9 L45.56,546.52 L47.34,546.28 L49.13,546.17 L50.91,546.15 L52.69,546.14 L54.47,546.05 L56.26,545.81 L58.04,545.35 L59.82,544.68 L61.6,543.82 L63.39,542.83 L65.17,541.81 L66.95,540.85 L68.73,540.04 L70.52,539.42 L72.3,538.99 L74.08,538.74 L75.86,538.6 L77.65,538.47 L79.43,538.29 L81.21,538.36 L83,538.29 L84.78,538.09 L86.56,537.82 L88.34,537.54 L90.12,537.36 L91.91,537.33 L93.69,537.5 L95.47,537.88 L97.25,538.43 L99.04,539.07 L100.82,539.72 L102.6,540.27 L104.38,540.66 L106.17,540.84 L107.95,540.8 L109.73,540.6 L111.51,540.29 L113.3,539.97 L115.08,539.71 L116.86,539.57 L118.64,539.57 L120.43,539.69 L122.21,539.85 L123.99,539.97 L125.78,539.92 L127.56,539.57 L129.34,538.79 L131.12,537.39 L132.91,535.21 L134.69,531.98 L136.47,527.4 L138.25,521.05 L140.03,512.5 L141.82,501.27 L143.6,486.99 L145.38,469.46 L147.16,448.79 L148.95,425.46 L150.73,400.36 L152.51,374.73 L154.3,350.09 L156.08,328.01 L157.86,309.92 L159.64,296.87 L161.43,289.42 L163.21,287.72 L164.99,293.85 L166.77,311.84 L168.56,340 L170.34,375.07 L172.12,413.05 L173.9,450.2 L175.69,483.68 L177.47,511.79 L179.25,533.92 L181.03,550.32 L182.81,561.8 L184.6,569.4 L186.38,574.19 L188.16,577.07 L189.94,578.76 L191.73,579.72 L193.51,580.26 L195.29,580.54 L197.07,580.65 L198.86,580.61 L200.64,580.45 L202.42,580.18 L204.2,579.85 L205.99,579.5 L207.77,579.18 L209.55,578.92 L211.33,578.76 L213.12,578.72 L214.9,578.77 L216.68,578.91 L218.46,579.08 L220.25,579.25 L222.03,579.39 L223.81,579.47 L225.59,579.49 L227.38,579.48 L229.16,579.45 L230.94,579.45 L232.73,579.52 L234.51,579.66 L236.29,579.9 L238.07,580.21 L239.86,580.56 L241.64,580.9 L243.42,581.18 L245.2,581.37 L246.99,581.44 L248.77,581.38 L250.55,581.21 L252.33,580.97 L254.12,580.7 L255.9,580.45 L257.68,580.27 L259.46,580.23 L261.25,580.41 L263.03,580.77 L264.81,581.27 L266.59,581.88 L268.38,582.56 L270.16,583.31 L271.94,584.15 L273.72,585.12" fill="none" stroke="#8030c0" stroke-width="0.85" stroke-opacity="1" stroke-linejoin="round"/>
<path d="M43.78,536.21 L45.56,536.32 L47.34,536.28 L49.13,536.15 L50.91,536.01 L52.69,535.93 L54.47,535.97 L56.26,536.16 L58.04,536.5 L59.82,536.93 L61.6,537.37 L63.39,537.74 L65.17,537.95 L66.95,537.94 L68.73,537.71 L70.52,537.28 L72.3,536.71 L74.08,536.09 L75.86,535.51 L77.65,535.06 L79.43,534.79 L81.21,534.7 L83,534.77 L84.78,534.94 L86.56,535.13 L88.34,535.25 L90.12,535.25 L91.91,535.11 L93.69,534.83 L95.47,534.48 L97.25,534.13 L99.04,533.87 L100.82,533.77 L102.6,533.88 L104.38,534.21 L106.17,534.72 L107.95,535.35 L109.73,536 L111.51,536.57 L113.3,536.99 L115.08,537.21 L116.86,537.23 L118.64,537.07 L120.43,536.8 L122.21,536.48 L123.99,536.14 L125.78,535.8 L127.56,535.37 L129.34,534.7 L131.12,533.53 L132.91,531.49 L134.69,528.15 L136.47,523.01 L138.25,515.58 L140.03,505.4 L141.82,492.16 L143.6,475.75 L145.38,456.33 L147.16,434.39 L148.95,410.72 L150.73,386.43 L152.51,362.8 L154.3,341.16 L156.08,322.75 L157.86,308.52 L159.64,299.06 L161.43,294.48 L163.21,295.02 L164.99,305.11 L166.77,325.94 L168.56,355.47 L170.34,390.37 L172.12,426.93 L173.9,461.93 L175.69,493.03 L177.47,518.95 L179.25,539.32 L181.03,554.44 L182.81,565.07 L184.6,572.14 L186.38,576.55 L188.16,579.11 L189.94,580.46 L191.73,581.08 L193.51,581.29 L195.29,581.33 L197.07,581.31 L198.86,581.3 L200.64,581.32 L202.42,581.34 L204.2,581.34 L205.99,581.27 L207.77,581.12 L209.55,580.86 L211.33,580.51 L213.12,580.11 L214.9,579.69 L216.68,579.3 L218.46,579.01 L220.25,578.84 L222.03,578.8 L223.81,578.9 L225.59,579.1 L227.38,579.36 L229.16,579.64 L230.94,579.89 L232.73,580.09 L234.51,580.23 L236.29,580.32 L238.07,580.37 L239.86,580.44 L241.64,580.55 L243.42,580.72 L245.2,580.96 L246.99,581.26 L248.77,581.6 L250.55,581.92 L252.33,582.19 L254.12,582.36 L255.9,582.41 L257.68,582.34 L259.46,582.21 L261.25,582.09 L263.03,582.07 L264.81,582.19 L266.59,582.49 L268.38,582.99 L270.16,583.66 L271.94,584.47 L273.72,585.39" fill="none" stroke="#b040b0" stroke-width="0.85" stroke-opacity="1" stroke-linejoin="round"/>
<path d="M43.78,540.65 L45.56,540.9 L47.34,541.02 L49.13,540.95 L50.91,540.67 L52.69,540.19 L54.47,539.59 L56.26,538.93 L58.04,538.32 L59.82,537.84 L61.6,537.56 L63.39,537.49 L65.17,537.61 L66.95,537.87 L68.73,538.19 L70.52,538.47 L72.3,538.66 L74.08,538.71 L75.86,538.62 L77.65,538.43 L79.43,538.22 L81.21,538.05 L83,538.01 L84.78,538.15 L86.56,538.48 L88.34,538.99 L90.12,539.61 L91.91,540.24 L93.69,540.81 L95.47,541.21 L97.25,541.4 L99.04,541.37 L100.82,541.14 L102.6,540.78 L104.38,540.38 L106.17,540.02 L107.95,539.77 L109.73,539.67 L111.51,539.71 L113.3,539.84 L115.08,540.01 L116.86,540.12 L118.64,540.11 L120.43,539.93 L122.21,539.57 L123.99,539.05 L125.78,538.44 L127.56,537.82 L129.34,537.25 L131.12,536.76 L132.91,536.29 L134.69,535.7 L136.47,534.7 L138.25,532.83 L140.03,529.49 L141.82,523.95 L143.6,515.39 L145.38,503.05 L147.16,486.34 L148.95,465.04 L150.73,439.47 L152.51,410.55 L154.3,379.81 L156.08,349.28 L157.86,321.2 L159.64,297.68 L161.43,280.37 L163.21,270.16 L164.99,266.93 L166.77,270.77 L168.56,287.82 L170.34,315.57 L172.12,350.95 L173.9,390.08 L175.69,429.16 L177.47,465.17 L179.25,496.16 L181.03,521.26 L182.81,540.49 L184.6,554.44 L186.38,564.05 L188.16,570.32 L189.94,574.17 L191.73,576.37 L193.51,577.48 L195.29,577.94 L197.07,578.04 L198.86,577.97 L200.64,577.86 L202.42,577.8 L204.2,577.82 L205.99,577.92 L207.77,578.09 L209.55,578.28 L211.33,578.46 L213.12,578.57 L214.9,578.61 L216.68,578.55 L218.46,578.43 L220.25,578.26 L222.03,578.1 L223.81,577.99 L225.59,577.97 L227.38,578.04 L229.16,578.21 L230.94,578.46 L232.73,578.74 L234.51,579 L236.29,579.2 L238.07,579.3 L239.86,579.3 L241.64,579.19 L243.42,579 L245.2,578.78 L246.99,578.57 L248.77,578.41 L250.55,578.34 L252.33,578.35 L254.12,578.44 L255.9,578.57 L257.68,578.72 L259.46,578.9 L261.25,579.17 L263.03,579.51 L264.81,579.95 L266.59,580.5 L268.38,581.23 L270.16,582.15 L271.94,583.29 L273.72,584.62" fill="none" stroke="#2030c0" stroke-width="0.85" stroke-opacity="1" stroke-linejoin="round"/>
<line x1="165.2" y1="251.3" x2="165.2" y2="589.3" stroke="#8cc0e4" stroke-width="0.9" />
<text x="343.5" y="233.6" font-size="19.5" text-anchor="start" font-weight="bold" fill="#000" >D</text>
<line x1="327.6" y1="425.4" x2="690" y2="425.4" stroke="#dedede" stroke-width="0.6" stroke-dasharray="1.2,1.2" />
<line x1="325.6" y1="425.4" x2="327.6" y2="425.4" stroke="#999" stroke-width="0.5" />
<text transform="translate(323.6,427.4) scale(1,1.0)" font-size="5.5" text-anchor="end" fill="#222" font-weight="normal">0.000</text>
<line x1="327.6" y1="407.63" x2="690" y2="407.63" stroke="#dedede" stroke-width="0.6" stroke-dasharray="1.2,1.2" />
<line x1="325.6" y1="407.63" x2="327.6" y2="407.63" stroke="#999" stroke-width="0.5" />
<text transform="translate(323.6,409.63) scale(1,1.0)" font-size="5.5" text-anchor="end" fill="#222" font-weight="normal">0.025</text>
<line x1="327.6" y1="389.86" x2="690" y2="389.86" stroke="#dedede" stroke-width="0.6" stroke-dasharray="1.2,1.2" />
<line x1="325.6" y1="389.86" x2="327.6" y2="389.86" stroke="#999" stroke-width="0.5" />
<text transform="translate(323.6,391.86) scale(1,1.0)" font-size="5.5" text-anchor="end" fill="#222" font-weight="normal">0.050</text>
<line x1="327.6" y1="372.09" x2="690" y2="372.09" stroke="#dedede" stroke-width="0.6" stroke-dasharray="1.2,1.2" />
<line x1="325.6" y1="372.09" x2="327.6" y2="372.09" stroke="#999" stroke-width="0.5" />
<text transform="translate(323.6,374.09) scale(1,1.0)" font-size="5.5" text-anchor="end" fill="#222" font-weight="normal">0.075</text>
<line x1="327.6" y1="354.32" x2="690" y2="354.32" stroke="#dedede" stroke-width="0.6" stroke-dasharray="1.2,1.2" />
<line x1="325.6" y1="354.32" x2="327.6" y2="354.32" stroke="#999" stroke-width="0.5" />
<text transform="translate(323.6,356.32) scale(1,1.0)" font-size="5.5" text-anchor="end" fill="#222" font-weight="normal">0.100</text>
<line x1="327.6" y1="336.55" x2="690" y2="336.55" stroke="#dedede" stroke-width="0.6" stroke-dasharray="1.2,1.2" />
<line x1="325.6" y1="336.55" x2="327.6" y2="336.55" stroke="#999" stroke-width="0.5" />
<text transform="translate(323.6,338.55) scale(1,1.0)" font-size="5.5" text-anchor="end" fill="#222" font-weight="normal">0.125</text>
<line x1="327.6" y1="318.78" x2="690" y2="318.78" stroke="#dedede" stroke-width="0.6" stroke-dasharray="1.2,1.2" />
<line x1="325.6" y1="318.78" x2="327.6" y2="318.78" stroke="#999" stroke-width="0.5" />
<text transform="translate(323.6,320.78) scale(1,1.0)" font-size="5.5" text-anchor="end" fill="#222" font-weight="normal">0.150</text>
<line x1="327.6" y1="301.01" x2="690" y2="301.01" stroke="#dedede" stroke-width="0.6" stroke-dasharray="1.2,1.2" />
<line x1="325.6" y1="301.01" x2="327.6" y2="301.01" stroke="#999" stroke-width="0.5" />
<text transform="translate(323.6,303.01) scale(1,1.0)" font-size="5.5" text-anchor="end" fill="#222" font-weight="normal">0.175</text>
<line x1="327.6" y1="283.24" x2="690" y2="283.24" stroke="#dedede" stroke-width="0.6" stroke-dasharray="1.2,1.2" />
<line x1="325.6" y1="283.24" x2="327.6" y2="283.24" stroke="#999" stroke-width="0.5" />
<text transform="translate(323.6,285.24) scale(1,1.0)" font-size="5.5" text-anchor="end" fill="#222" font-weight="normal">0.200</text>
<line x1="327.6" y1="265.47" x2="690" y2="265.47" stroke="#dedede" stroke-width="0.6" stroke-dasharray="1.2,1.2" />
<line x1="325.6" y1="265.47" x2="327.6" y2="265.47" stroke="#999" stroke-width="0.5" />
<text transform="translate(323.6,267.47) scale(1,1.0)" font-size="5.5" text-anchor="end" fill="#222" font-weight="normal">0.225</text>
<line x1="327.4" y1="439.3" x2="327.4" y2="440.9" stroke="#666" stroke-width="0.6" />
<text transform="translate(327.4,445.2) scale(1,1.0)" font-size="4.6" text-anchor="middle" fill="#333" font-weight="normal">0</text>
<line x1="345.08" y1="254.3" x2="345.08" y2="439.3" stroke="#dedede" stroke-width="0.6" stroke-dasharray="1.2,1.2" />
<line x1="345.08" y1="439.3" x2="345.08" y2="440.9" stroke="#666" stroke-width="0.6" />
<text transform="translate(345.08,445.2) scale(1,1.0)" font-size="4.6" text-anchor="middle" fill="#333" font-weight="normal">2</text>
<line x1="362.76" y1="254.3" x2="362.76" y2="439.3" stroke="#dedede" stroke-width="0.6" stroke-dasharray="1.2,1.2" />
<line x1="362.76" y1="439.3" x2="362.76" y2="440.9" stroke="#666" stroke-width="0.6" />
<text transform="translate(362.76,445.2) scale(1,1.0)" font-size="4.6" text-anchor="middle" fill="#333" font-weight="normal">4</text>
<line x1="380.44" y1="254.3" x2="380.44" y2="439.3" stroke="#dedede" stroke-width="0.6" stroke-dasharray="1.2,1.2" />
<line x1="380.44" y1="439.3" x2="380.44" y2="440.9" stroke="#666" stroke-width="0.6" />
<text transform="translate(380.44,445.2) scale(1,1.0)" font-size="4.6" text-anchor="middle" fill="#333" font-weight="normal">6</text>
<line x1="398.12" y1="254.3" x2="398.12" y2="439.3" stroke="#dedede" stroke-width="0.6" stroke-dasharray="1.2,1.2" />
<line x1="398.12" y1="439.3" x2="398.12" y2="440.9" stroke="#666" stroke-width="0.6" />
<text transform="translate(398.12,445.2) scale(1,1.0)" font-size="4.6" text-anchor="middle" fill="#333" font-weight="normal">8</text>
<line x1="415.8" y1="254.3" x2="415.8" y2="439.3" stroke="#dedede" stroke-width="0.6" stroke-dasharray="1.2,1.2" />
<line x1="415.8" y1="439.3" x2="415.8" y2="440.9" stroke="#666" stroke-width="0.6" />
<text transform="translate(415.8,445.2) scale(1,1.0)" font-size="4.6" text-anchor="middle" fill="#333" font-weight="normal">10</text>
<line x1="433.48" y1="254.3" x2="433.48" y2="439.3" stroke="#dedede" stroke-width="0.6" stroke-dasharray="1.2,1.2" />
<line x1="433.48" y1="439.3" x2="433.48" y2="440.9" stroke="#666" stroke-width="0.6" />
<text transform="translate(433.48,445.2) scale(1,1.0)" font-size="4.6" text-anchor="middle" fill="#333" font-weight="normal">12</text>
<line x1="451.16" y1="254.3" x2="451.16" y2="439.3" stroke="#dedede" stroke-width="0.6" stroke-dasharray="1.2,1.2" />
<line x1="451.16" y1="439.3" x2="451.16" y2="440.9" stroke="#666" stroke-width="0.6" />
<text transform="translate(451.16,445.2) scale(1,1.0)" font-size="4.6" text-anchor="middle" fill="#333" font-weight="normal">14</text>
<line x1="468.84" y1="254.3" x2="468.84" y2="439.3" stroke="#dedede" stroke-width="0.6" stroke-dasharray="1.2,1.2" />
<line x1="468.84" y1="439.3" x2="468.84" y2="440.9" stroke="#666" stroke-width="0.6" />
<text transform="translate(468.84,445.2) scale(1,1.0)" font-size="4.6" text-anchor="middle" fill="#333" font-weight="normal">16</text>
<line x1="486.52" y1="254.3" x2="486.52" y2="439.3" stroke="#dedede" stroke-width="0.6" stroke-dasharray="1.2,1.2" />
<line x1="486.52" y1="439.3" x2="486.52" y2="440.9" stroke="#666" stroke-width="0.6" />
<text transform="translate(486.52,445.2) scale(1,1.0)" font-size="4.6" text-anchor="middle" fill="#333" font-weight="normal">18</text>
<line x1="504.2" y1="254.3" x2="504.2" y2="439.3" stroke="#dedede" stroke-width="0.6" stroke-dasharray="1.2,1.2" />
<line x1="504.2" y1="439.3" x2="504.2" y2="440.9" stroke="#666" stroke-width="0.6" />
<text transform="translate(504.2,445.2) scale(1,1.0)" font-size="4.6" text-anchor="middle" fill="#333" font-weight="normal">20</text>
<line x1="521.88" y1="254.3" x2="521.88" y2="439.3" stroke="#dedede" stroke-width="0.6" stroke-dasharray="1.2,1.2" />
<line x1="521.88" y1="439.3" x2="521.88" y2="440.9" stroke="#666" stroke-width="0.6" />
<text transform="translate(521.88,445.2) scale(1,1.0)" font-size="4.6" text-anchor="middle" fill="#333" font-weight="normal">22</text>
<line x1="539.56" y1="254.3" x2="539.56" y2="439.3" stroke="#dedede" stroke-width="0.6" stroke-dasharray="1.2,1.2" />
<line x1="539.56" y1="439.3" x2="539.56" y2="440.9" stroke="#666" stroke-width="0.6" />
<text transform="translate(539.56,445.2) scale(1,1.0)" font-size="4.6" text-anchor="middle" fill="#333" font-weight="normal">24</text>
<line x1="557.24" y1="254.3" x2="557.24" y2="439.3" stroke="#dedede" stroke-width="0.6" stroke-dasharray="1.2,1.2" />
<line x1="557.24" y1="439.3" x2="557.24" y2="440.9" stroke="#666" stroke-width="0.6" />
<text transform="translate(557.24,445.2) scale(1,1.0)" font-size="4.6" text-anchor="middle" fill="#333" font-weight="normal">26</text>
<line x1="574.92" y1="254.3" x2="574.92" y2="439.3" stroke="#dedede" stroke-width="0.6" stroke-dasharray="1.2,1.2" />
<line x1="574.92" y1="439.3" x2="574.92" y2="440.9" stroke="#666" stroke-width="0.6" />
<text transform="translate(574.92,445.2) scale(1,1.0)" font-size="4.6" text-anchor="middle" fill="#333" font-weight="normal">28</text>
<line x1="592.6" y1="254.3" x2="592.6" y2="439.3" stroke="#dedede" stroke-width="0.6" stroke-dasharray="1.2,1.2" />
<line x1="592.6" y1="439.3" x2="592.6" y2="440.9" stroke="#666" stroke-width="0.6" />
<text transform="translate(592.6,445.2) scale(1,1.0)" font-size="4.6" text-anchor="middle" fill="#333" font-weight="normal">30</text>
<line x1="610.28" y1="254.3" x2="610.28" y2="439.3" stroke="#dedede" stroke-width="0.6" stroke-dasharray="1.2,1.2" />
<line x1="610.28" y1="439.3" x2="610.28" y2="440.9" stroke="#666" stroke-width="0.6" />
<text transform="translate(610.28,445.2) scale(1,1.0)" font-size="4.6" text-anchor="middle" fill="#333" font-weight="normal">32</text>
<line x1="627.96" y1="254.3" x2="627.96" y2="439.3" stroke="#dedede" stroke-width="0.6" stroke-dasharray="1.2,1.2" />
<line x1="627.96" y1="439.3" x2="627.96" y2="440.9" stroke="#666" stroke-width="0.6" />
<text transform="translate(627.96,445.2) scale(1,1.0)" font-size="4.6" text-anchor="middle" fill="#333" font-weight="normal">34</text>
<line x1="645.64" y1="254.3" x2="645.64" y2="439.3" stroke="#dedede" stroke-width="0.6" stroke-dasharray="1.2,1.2" />
<line x1="645.64" y1="439.3" x2="645.64" y2="440.9" stroke="#666" stroke-width="0.6" />
<text transform="translate(645.64,445.2) scale(1,1.0)" font-size="4.6" text-anchor="middle" fill="#333" font-weight="normal">36</text>
<line x1="663.32" y1="254.3" x2="663.32" y2="439.3" stroke="#dedede" stroke-width="0.6" stroke-dasharray="1.2,1.2" />
<line x1="663.32" y1="439.3" x2="663.32" y2="440.9" stroke="#666" stroke-width="0.6" />
<text transform="translate(663.32,445.2) scale(1,1.0)" font-size="4.6" text-anchor="middle" fill="#333" font-weight="normal">38</text>
<line x1="681" y1="254.3" x2="681" y2="439.3" stroke="#dedede" stroke-width="0.6" stroke-dasharray="1.2,1.2" />
<line x1="681" y1="439.3" x2="681" y2="440.9" stroke="#666" stroke-width="0.6" />
<text transform="translate(681,445.2) scale(1,1.0)" font-size="4.6" text-anchor="middle" fill="#333" font-weight="normal">40</text>
<line x1="327.6" y1="254.3" x2="690" y2="254.3" stroke="#cdcdcd" stroke-width="0.8" />
<line x1="327.6" y1="439.3" x2="690" y2="439.3" stroke="#c4c4c4" stroke-width="1.4" />
<line x1="327.6" y1="254.3" x2="327.6" y2="439.3" stroke="#a8a8a8" stroke-width="1.0" />
<text x="470.5" y="461.8" font-size="10" text-anchor="start" font-weight="bold" fill="#000" textLength="65.8">Cycle number</text>
<text transform="translate(303.6,365.9) rotate(-90)" font-size="10.2" font-weight="bold" textLength="37.2">Delta Rn</text>
<path d="M336.24,427.26 L345.08,426.27 L353.92,425.73 L362.76,425.58 L371.6,424.86 L380.44,425.76 L389.28,424.84 L398.12,424.52 L406.96,425.07 L415.8,426.46 L424.64,426.36 L433.48,426.53 L442.32,424.92 L451.16,425.07 L460,425.16 L468.84,426.87 L477.68,426.39 L486.52,426.11 L495.36,426.31 L504.2,426.38 L513.04,426.7 L521.88,426.1 L530.72,424.77 L539.56,424.81 L548.4,424.71 L557.24,421.89 L566.08,414.16 L574.92,401.24 L583.76,382.99 L592.6,357.29 L601.44,331.19 L610.28,308.82 L619.12,294.96 L627.96,289.06 L636.8,286.68 L645.64,284.89 L654.48,282.21 L663.32,281.39 L672.16,281.49 L681,282.57" fill="none" stroke="#30a040" stroke-width="0.75" stroke-opacity="1" stroke-linejoin="round"/>
<path d="M336.24,424.77 L345.08,425.71 L353.92,425.87 L362.76,426.04 L371.6,425.24 L380.44,424.06 L389.28,425.4 L398.12,425.32 L406.96,425.69 L415.8,425.51 L424.64,425.58 L433.48,426.59 L442.32,426.06 L451.16,425.21 L460,424.52 L468.84,425.92 L477.68,426.94 L486.52,426.81 L495.36,426.57 L504.2,424.69 L513.04,425.71 L521.88,425.94 L530.72,425.67 L539.56,424.13 L548.4,421.04 L557.24,416.51 L566.08,408.47 L574.92,391.84 L583.76,369.16 L592.6,345.82 L601.44,326.32 L610.28,312.74 L619.12,302.97 L627.96,295.29 L636.8,292.76 L645.64,293.57 L654.48,294.33 L663.32,293.92 L672.16,292.37 L681,292.26" fill="none" stroke="#20b0b0" stroke-width="0.75" stroke-opacity="1" stroke-linejoin="round"/>
<path d="M336.24,421.57 L345.08,423.66 L353.92,425.47 L362.76,425.09 L371.6,424.07 L380.44,424.94 L389.28,424.79 L398.12,426.3 L406.96,425.9 L415.8,425.14 L424.64,426.4 L433.48,426.24 L442.32,425.63 L451.16,424.97 L460,424.72 L468.84,425.94 L477.68,426.92 L486.52,427.85 L495.36,426.4 L504.2,424.62 L513.04,425.87 L521.88,426.42 L530.72,425.29 L539.56,424.47 L548.4,420.86 L557.24,414.98 L566.08,404.94 L574.92,385.66 L583.76,359.77 L592.6,336.48 L601.44,318.92 L610.28,307.8 L619.12,300.62 L627.96,294.88 L636.8,292.58 L645.64,293.95 L654.48,294.81 L663.32,293.81 L672.16,293.14 L681,293.04" fill="none" stroke="#30c0c0" stroke-width="0.75" stroke-opacity="1" stroke-linejoin="round"/>
<path d="M336.24,425.98 L345.08,426.18 L353.92,426.09 L362.76,425.2 L371.6,424.8 L380.44,424.9 L389.28,426.04 L398.12,425.76 L406.96,424.64 L415.8,425.78 L424.64,426.16 L433.48,427.08 L442.32,425.64 L451.16,425.21 L460,424.88 L468.84,426.51 L477.68,426.87 L486.52,427.53 L495.36,425.68 L504.2,425.12 L513.04,425.18 L521.88,425.89 L530.72,424.25 L539.56,423.09 L548.4,418.87 L557.24,411.54 L566.08,398.95 L574.92,377.23 L583.76,350.62 L592.6,327.79 L601.44,310.96 L610.28,300.39 L619.12,292.14 L627.96,287.26 L636.8,286.74 L645.64,287.88 L654.48,288.38 L663.32,287.44 L672.16,286.23 L681,285.01" fill="none" stroke="#8040c0" stroke-width="0.75" stroke-opacity="1" stroke-linejoin="round"/>
<path d="M336.24,426.82 L345.08,425.56 L353.92,424.65 L362.76,424.37 L371.6,425.64 L380.44,426.24 L389.28,425.52 L398.12,424.81 L406.96,424.97 L415.8,425.83 L424.64,426.87 L433.48,425.7 L442.32,424.97 L451.16,424.52 L460,426.26 L468.84,426.4 L477.68,427.02 L486.52,425.71 L495.36,426.54 L504.2,426.44 L513.04,426.13 L521.88,425.13 L530.72,423.73 L539.56,423.47 L548.4,420.91 L557.24,414.56 L566.08,401.27 L574.92,382.96 L583.76,360.65 L592.6,338.33 L601.44,320.08 L610.28,309.36 L619.12,303.16 L627.96,300.83 L636.8,298.52 L645.64,296.78 L654.48,295.14 L663.32,294.34 L672.16,296.74 L681,296.48" fill="none" stroke="#2050e0" stroke-width="0.75" stroke-opacity="1" stroke-linejoin="round"/>
<path d="M336.24,422.93 L345.08,423.32 L353.92,424.12 L362.76,424.97 L371.6,425.46 L380.44,425.94 L389.28,423.81 L398.12,424.7 L406.96,425.28 L415.8,426.81 L424.64,426.14 L433.48,424.98 L442.32,424.38 L451.16,425.19 L460,426.79 L468.84,426.23 L477.68,426.53 L486.52,425.7 L495.36,427.2 L504.2,426.52 L513.04,426.11 L521.88,425.28 L530.72,425.09 L539.56,426.53 L548.4,425.4 L557.24,422.48 L566.08,417.48 L574.92,410.08 L583.76,397.74 L592.6,377.66 L601.44,353.29 L610.28,331.89 L619.12,316.8 L627.96,307.88 L636.8,301.37 L645.64,298.2 L654.48,297.58 L663.32,298.15 L672.16,299.5 L681,297.97" fill="none" stroke="#2090d0" stroke-width="0.75" stroke-opacity="1" stroke-linejoin="round"/>
<path d="M336.24,421.48 L345.08,423.65 L353.92,425.31 L362.76,425.68 L371.6,425.73 L380.44,424.15 L389.28,423.88 L398.12,425.05 L406.96,425.83 L415.8,426.19 L424.64,425.7 L433.48,425.9 L442.32,426.44 L451.16,426.3 L460,425.39 L468.84,425.7 L477.68,426.75 L486.52,427.74 L495.36,426.57 L504.2,426.03 L513.04,425.48 L521.88,426.01 L530.72,427.02 L539.56,426.3 L548.4,424.27 L557.24,422.32 L566.08,417.77 L574.92,409.98 L583.76,394.19 L592.6,369.27 L601.44,342.87 L610.28,318.99 L619.12,302.7 L627.96,291.98 L636.8,287.48 L645.64,285.88 L654.48,284.92 L663.32,283.85 L672.16,282.91 L681,281.76" fill="none" stroke="#e05080" stroke-width="0.75" stroke-opacity="1" stroke-linejoin="round"/>
<path d="M336.24,428.8 L345.08,426.5 L353.92,425.3 L362.76,425.75 L371.6,425.4 L380.44,425.5 L389.28,425.23 L398.12,424.91 L406.96,425.04 L415.8,426.86 L424.64,426.32 L433.48,426.68 L442.32,424.54 L451.16,424.28 L460,425.56 L468.84,426.39 L477.68,426.64 L486.52,426.09 L495.36,425.81 L504.2,426.73 L513.04,426.14 L521.88,423.84 L530.72,421.77 L539.56,418.98 L548.4,412.08 L557.24,398.88 L566.08,378.06 L574.92,351.1 L583.76,325.37 L592.6,305.86 L601.44,292.61 L610.28,283.6 L619.12,280.12 L627.96,279.13 L636.8,278.68 L645.64,276.09 L654.48,274.28 L663.32,274.74 L672.16,276.39 L681,276.11" fill="none" stroke="#e06040" stroke-width="0.75" stroke-opacity="1" stroke-linejoin="round"/>
<path d="M336.24,424.65 L345.08,424.28 L353.92,424.31 L362.76,426.1 L371.6,426.54 L380.44,425.41 L389.28,424.49 L398.12,424.46 L406.96,426.2 L415.8,426.31 L424.64,426.45 L433.48,425.75 L442.32,425.79 L451.16,425.61 L460,426.24 L468.84,425.62 L477.68,425.29 L486.52,426.42 L495.36,427.68 L504.2,426.61 L513.04,425.51 L521.88,425.19 L530.72,426.13 L539.56,425.76 L548.4,422.58 L557.24,416.44 L566.08,406.34 L574.92,390.96 L583.76,367.4 L592.6,342.89 L601.44,320.81 L610.28,308.33 L619.12,300.61 L627.96,296.08 L636.8,293.84 L645.64,292.09 L654.48,293.19 L663.32,294.29 L672.16,294.2 L681,291.71" fill="none" stroke="#a040d0" stroke-width="0.75" stroke-opacity="1" stroke-linejoin="round"/>
<path d="M336.24,425.75 L345.08,424.97 L353.92,424.58 L362.76,425.81 L371.6,425.36 L380.44,426.06 L389.28,424.71 L398.12,424.59 L406.96,424.64 L415.8,426.25 L424.64,427.15 L433.48,425.1 L442.32,424.34 L451.16,425.05 L460,426.03 L468.84,426.69 L477.68,426.12 L486.52,425.88 L495.36,425.72 L504.2,425.44 L513.04,423.74 L521.88,421.2 L530.72,417.44 L539.56,410.62 L548.4,397.42 L557.24,375.24 L566.08,347.68 L574.92,320.85 L583.76,299.36 L592.6,287.18 L601.44,279.57 L610.28,275.22 L619.12,273.16 L627.96,272.07 L636.8,270.46 L645.64,269.13 L654.48,269.01 L663.32,269.9 L672.16,271.35 L681,270.5" fill="none" stroke="#30c0c0" stroke-width="0.75" stroke-opacity="1" stroke-linejoin="round"/>
<path d="M336.24,425.58 L345.08,425.78 L353.92,424.36 L362.76,425.08 L371.6,425.15 L380.44,426.25 L389.28,424.74 L398.12,423.83 L406.96,424.61 L415.8,425.87 L424.64,427.57 L433.48,426.68 L442.32,424.7 L451.16,424.53 L460,426.4 L468.84,427.23 L477.68,425.97 L486.52,426 L495.36,425.13 L504.2,424.96 L513.04,423.67 L521.88,420.3 L530.72,415.72 L539.56,406.56 L548.4,392.21 L557.24,369.76 L566.08,341.64 L574.92,315.39 L583.76,296.62 L592.6,285.99 L601.44,279.43 L610.28,274.38 L619.12,273.21 L627.96,272.87 L636.8,272.54 L645.64,271.65 L654.48,269.93 L663.32,269.95 L672.16,270.78 L681,271.2" fill="none" stroke="#d07a30" stroke-width="0.75" stroke-opacity="1" stroke-linejoin="round"/>
<path d="M336.24,426.99 L345.08,426.24 L353.92,426.62 L362.76,424.97 L371.6,425.26 L380.44,424.55 L389.28,424.9 L398.12,425.36 L406.96,424.87 L415.8,425.08 L424.64,425.88 L433.48,427.05 L442.32,425.72 L451.16,424.21 L460,424.66 L468.84,426.6 L477.68,427.52 L486.52,426.99 L495.36,426.25 L504.2,425.78 L513.04,426.69 L521.88,426.72 L530.72,425.57 L539.56,424.3 L548.4,424.41 L557.24,421.93 L566.08,416.04 L574.92,403.26 L583.76,385.11 L592.6,361.6 L601.44,336.81 L610.28,315.81 L619.12,301 L627.96,293.74 L636.8,291.1 L645.64,290.46 L654.48,290.16 L663.32,288.82 L672.16,288.05 L681,287.14" fill="none" stroke="#7030b0" stroke-width="0.75" stroke-opacity="1" stroke-linejoin="round"/>
<path d="M336.24,430.6 L345.08,426.76 L353.92,425.68 L362.76,425.46 L371.6,425.98 L380.44,425.8 L389.28,424.84 L398.12,424.62 L406.96,425.38 L415.8,426.21 L424.64,427.22 L433.48,426.25 L442.32,424.38 L451.16,424.97 L460,426.31 L468.84,427.08 L477.68,426.52 L486.52,425.7 L495.36,426.64 L504.2,425.84 L513.04,424.3 L521.88,423.43 L530.72,420.4 L539.56,416.94 L548.4,409.28 L557.24,393.57 L566.08,369.9 L574.92,342.11 L583.76,315.77 L592.6,295.9 L601.44,282.62 L610.28,274.74 L619.12,270.96 L627.96,268.69 L636.8,266.61 L645.64,263.49 L654.48,263.72 L663.32,264.17 L672.16,265.56 L681,265.93" fill="none" stroke="#30b030" stroke-width="0.75" stroke-opacity="1" stroke-linejoin="round"/>
<path d="M336.24,425.69 L345.08,425.82 L353.92,425.59 L362.76,424.73 L371.6,425.04 L380.44,426.11 L389.28,425.22 L398.12,424.06 L406.96,424.39 L415.8,425.84 L424.64,426.82 L433.48,426.66 L442.32,425.23 L451.16,424.05 L460,426.06 L468.84,426.62 L477.68,427.41 L486.52,425.57 L495.36,426.07 L504.2,425.83 L513.04,426.6 L521.88,424.77 L530.72,423.34 L539.56,421.86 L548.4,419.88 L557.24,412.97 L566.08,398.33 L574.92,377.8 L583.76,353.87 L592.6,330.8 L601.44,312.63 L610.28,300.91 L619.12,292.89 L627.96,290.15 L636.8,290.59 L645.64,289.23 L654.48,288.01 L663.32,285.81 L672.16,285.95 L681,287.41" fill="none" stroke="#c03080" stroke-width="0.75" stroke-opacity="1" stroke-linejoin="round"/>
<path d="M336.24,421.95 L345.08,424.43 L353.92,425.67 L362.76,425.69 L371.6,424.13 L380.44,423.9 L389.28,424.56 L398.12,425.22 L406.96,425.34 L415.8,425.26 L424.64,425.8 L433.48,427.17 L442.32,426.81 L451.16,424.51 L460,425.1 L468.84,425.4 L477.68,426.91 L486.52,427.46 L495.36,426.02 L504.2,425.15 L513.04,426.03 L521.88,426.93 L530.72,426.61 L539.56,424.72 L548.4,423.7 L557.24,420 L566.08,414.15 L574.92,402.59 L583.76,383.27 L592.6,359.5 L601.44,338.01 L610.28,320.1 L619.12,307.02 L627.96,297.6 L636.8,294.11 L645.64,294.62 L654.48,294.23 L663.32,294.39 L672.16,293.12 L681,291.98" fill="none" stroke="#b02080" stroke-width="0.75" stroke-opacity="1" stroke-linejoin="round"/>
<path d="M336.24,424.32 L345.08,424.38 L353.92,425.02 L362.76,426.38 L371.6,425.55 L380.44,424.6 L389.28,423.71 L398.12,424.91 L406.96,425.53 L415.8,426.58 L424.64,426.22 L433.48,425.67 L442.32,424.76 L451.16,425.66 L460,426.48 L468.84,426.08 L477.68,426.03 L486.52,426.5 L495.36,426.18 L504.2,426.25 L513.04,423 L521.88,420.17 L530.72,416.83 L539.56,409.35 L548.4,393.62 L557.24,368.97 L566.08,339.47 L574.92,314.5 L583.76,298.81 L592.6,288.43 L601.44,283.5 L610.28,280.22 L619.12,279.24 L627.96,277.02 L636.8,275.05 L645.64,274.11 L654.48,275.49 L663.32,277.6 L672.16,277.65 L681,275.63" fill="none" stroke="#30c040" stroke-width="0.75" stroke-opacity="1" stroke-linejoin="round"/>
<path d="M336.24,423.99 L345.08,425.44 L353.92,426.24 L362.76,424.8 L371.6,424.19 L380.44,424.42 L389.28,425.38 L398.12,424.67 L406.96,424.85 L415.8,425.24 L424.64,426.87 L433.48,426.33 L442.32,425.15 L451.16,424.98 L460,425.42 L468.84,425.9 L477.68,426.97 L486.52,426.71 L495.36,424.97 L504.2,425.15 L513.04,425.89 L521.88,424.87 L530.72,422.63 L539.56,416.97 L548.4,408.97 L557.24,394.33 L566.08,371.08 L574.92,342.26 L583.76,317.66 L592.6,301.36 L601.44,291.56 L610.28,284.86 L619.12,280.59 L627.96,277.36 L636.8,278.16 L645.64,278.82 L654.48,279.78 L663.32,277.98 L672.16,276.85 L681,276.72" fill="none" stroke="#2040e0" stroke-width="0.75" stroke-opacity="1" stroke-linejoin="round"/>
<path d="M336.24,424.08 L345.08,424.34 L353.92,426.17 L362.76,426.15 L371.6,425.28 L380.44,424.23 L389.28,424.39 L398.12,425.96 L406.96,426.29 L415.8,425.74 L424.64,425.27 L433.48,425.78 L442.32,426.3 L451.16,425.96 L460,424.61 L468.84,424.97 L477.68,426.61 L486.52,427.11 L495.36,425.77 L504.2,424.34 L513.04,423.55 L521.88,423.32 L530.72,421.05 L539.56,413.61 L548.4,402.61 L557.24,383.45 L566.08,358.7 L574.92,332 L583.76,307.23 L592.6,292.03 L601.44,284.4 L610.28,281.03 L619.12,277.98 L627.96,274.66 L636.8,272.36 L645.64,272.37 L654.48,272.41 L663.32,273.8 L672.16,272.59 L681,272.46" fill="none" stroke="#90e040" stroke-width="0.75" stroke-opacity="1" stroke-linejoin="round"/>
<path d="M336.24,421.97 L345.08,424.18 L353.92,425.07 L362.76,426.39 L371.6,425.7 L380.44,424.46 L389.28,424.22 L398.12,426.23 L406.96,426.34 L415.8,425.16 L424.64,425.16 L433.48,425.82 L442.32,426.1 L451.16,425.31 L460,424.8 L468.84,425.18 L477.68,426.26 L486.52,427.37 L495.36,426.69 L504.2,425.7 L513.04,425.41 L521.88,426.37 L530.72,426.58 L539.56,425.91 L548.4,423.29 L557.24,420.29 L566.08,416.39 L574.92,406.59 L583.76,389.6 L592.6,367.83 L601.44,343.08 L610.28,323.18 L619.12,308.43 L627.96,296.39 L636.8,290.12 L645.64,287.31 L654.48,286.87 L663.32,286.91 L672.16,287.01 L681,286.68" fill="none" stroke="#5040c0" stroke-width="0.75" stroke-opacity="1" stroke-linejoin="round"/>
<path d="M336.24,422.72 L345.08,423.56 L353.92,425 L362.76,425.7 L371.6,425.41 L380.44,425.13 L389.28,424.13 L398.12,424.23 L406.96,426.16 L415.8,426.96 L424.64,425.88 L433.48,425.8 L442.32,425.09 L451.16,426.23 L460,426.21 L468.84,425.29 L477.68,425.93 L486.52,426.25 L495.36,427.72 L504.2,426.34 L513.04,424.55 L521.88,424.83 L530.72,426.17 L539.56,426.76 L548.4,425.95 L557.24,422.91 L566.08,419.36 L574.92,412.64 L583.76,398.47 L592.6,377.23 L601.44,350.48 L610.28,326.37 L619.12,309.95 L627.96,299.14 L636.8,293.02 L645.64,290.05 L654.48,290.45 L663.32,291.19 L672.16,290.3 L681,288.59" fill="none" stroke="#9050e0" stroke-width="0.75" stroke-opacity="1" stroke-linejoin="round"/>
<path d="M336.24,422.01 L345.08,423.88 L353.92,426.17 L362.76,425.32 L371.6,424.28 L380.44,424.06 L389.28,425.65 L398.12,425.43 L406.96,424.94 L415.8,424.84 L424.64,425.97 L433.48,425.92 L442.32,425.85 L451.16,424.87 L460,424.38 L468.84,425.91 L477.68,426.84 L486.52,427.47 L495.36,425.48 L504.2,424.25 L513.04,423.46 L521.88,422.96 L530.72,419.82 L539.56,412.24 L548.4,400.24 L557.24,382.37 L566.08,357.32 L574.92,331.6 L583.76,310.9 L592.6,298.82 L601.44,293.84 L610.28,289.14 L619.12,286.24 L627.96,282.87 L636.8,281.86 L645.64,283.36 L654.48,283.9 L663.32,284.05 L672.16,282.25 L681,281.97" fill="none" stroke="#50d050" stroke-width="0.75" stroke-opacity="1" stroke-linejoin="round"/>
<path d="M336.24,424.86 L345.08,426.22 L353.92,426.26 L362.76,425.23 L371.6,424.64 L380.44,425.19 L389.28,425.05 L398.12,425.4 L406.96,424.79 L415.8,425.16 L424.64,427.03 L433.48,426.8 L442.32,425.4 L451.16,424.41 L460,424.96 L468.84,426.02 L477.68,427.67 L486.52,425.81 L495.36,425.27 L504.2,424.78 L513.04,424.72 L521.88,422.22 L530.72,417.56 L539.56,408.91 L548.4,392.82 L557.24,369.16 L566.08,339.78 L574.92,311.74 L583.76,292.12 L592.6,281.02 L601.44,275.49 L610.28,270.94 L619.12,267.92 L627.96,266.5 L636.8,267.62 L645.64,268.86 L654.48,268.23 L663.32,266.31 L672.16,265.52 L681,266.46" fill="none" stroke="#a0d020" stroke-width="0.75" stroke-opacity="1" stroke-linejoin="round"/>
<path d="M336.24,424.02 L345.08,425.73 L353.92,425.71 L362.76,425.06 L371.6,424.05 L380.44,424.95 L389.28,425.92 L398.12,425.29 L406.96,424.59 L415.8,426.05 L424.64,427.15 L433.48,426.41 L442.32,424.92 L451.16,424.18 L460,425.62 L468.84,426.59 L477.68,426.91 L486.52,426.95 L495.36,425.85 L504.2,425.31 L513.04,425.7 L521.88,424.65 L530.72,421.09 L539.56,416.85 L548.4,408.47 L557.24,394.76 L566.08,372.49 L574.92,347.05 L583.76,323.2 L592.6,306.45 L601.44,295.74 L610.28,287.71 L619.12,282.38 L627.96,279.99 L636.8,280.46 L645.64,280.28 L654.48,279.86 L663.32,279.16 L672.16,278.5 L681,278.14" fill="none" stroke="#c0d030" stroke-width="0.75" stroke-opacity="1" stroke-linejoin="round"/>
<path d="M336.24,427.09 L345.08,426.96 L353.92,426.16 L362.76,426.64 L371.6,424.19 L380.44,424.5 L389.28,424.97 L398.12,425.83 L406.96,425.49 L415.8,425.41 L424.64,426.18 L433.48,426.98 L442.32,425.87 L451.16,425.32 L460,424.43 L468.84,426.28 L477.68,427.17 L486.52,427.39 L495.36,426.48 L504.2,425.69 L513.04,425.24 L521.88,426.11 L530.72,425.97 L539.56,425.95 L548.4,424.52 L557.24,421.63 L566.08,416.65 L574.92,406.38 L583.76,387.46 L592.6,363.21 L601.44,339.26 L610.28,319.59 L619.12,303.98 L627.96,295.7 L636.8,290.06 L645.64,290.29 L654.48,290.71 L663.32,290.12 L672.16,289 L681,289" fill="none" stroke="#2080c0" stroke-width="0.75" stroke-opacity="1" stroke-linejoin="round"/>
<path d="M336.24,428.61 L345.08,426.56 L353.92,426.33 L362.76,426.52 L371.6,425.14 L380.44,423.81 L389.28,424.31 L398.12,425.76 L406.96,425.69 L415.8,425.65 L424.64,426.01 L433.48,425.8 L442.32,426.2 L451.16,425.04 L460,424.74 L468.84,425.86 L477.68,426.49 L486.52,427.48 L495.36,427.21 L504.2,425.3 L513.04,424.5 L521.88,425.68 L530.72,426.27 L539.56,425.51 L548.4,422.03 L557.24,417.72 L566.08,410.83 L574.92,398.25 L583.76,377.29 L592.6,351.39 L601.44,328.11 L610.28,310.19 L619.12,298.01 L627.96,288.89 L636.8,283.47 L645.64,282.54 L654.48,282.41 L663.32,282.72 L672.16,282.83 L681,281.3" fill="none" stroke="#40c0e0" stroke-width="0.75" stroke-opacity="1" stroke-linejoin="round"/>
<path d="M336.24,425.02 L345.08,425.67 L353.92,425.46 L362.76,424.61 L371.6,425.23 L380.44,425.66 L389.28,426.07 L398.12,424.75 L406.96,424.61 L415.8,425.2 L424.64,426.59 L433.48,426.97 L442.32,425.56 L451.16,424.04 L460,424.57 L468.84,426.32 L477.68,427.5 L486.52,426.02 L495.36,425.16 L504.2,425.01 L513.04,425.34 L521.88,423.16 L530.72,421.04 L539.56,414.43 L548.4,406.24 L557.24,389.78 L566.08,366.98 L574.92,339.92 L583.76,317.45 L592.6,302.39 L601.44,292.31 L610.28,286.08 L619.12,281.18 L627.96,278.42 L636.8,278.62 L645.64,279.37 L654.48,279.43 L663.32,277.84 L672.16,277.02 L681,277.72" fill="none" stroke="#40d080" stroke-width="0.75" stroke-opacity="1" stroke-linejoin="round"/>
<path d="M336.24,422.1 L345.08,423.92 L353.92,426.24 L362.76,425.76 L371.6,424.77 L380.44,424.07 L389.28,425.49 L398.12,425.73 L406.96,425.19 L415.8,425.46 L424.64,426.1 L433.48,426.95 L442.32,425.68 L451.16,424.8 L460,424.39 L468.84,426.13 L477.68,427.72 L486.52,426.85 L495.36,425.53 L504.2,425.67 L513.04,424.96 L521.88,425.95 L530.72,426.11 L539.56,424.65 L548.4,423.54 L557.24,421.27 L566.08,416.1 L574.92,405.63 L583.76,389.02 L592.6,367.06 L601.44,344.37 L610.28,323.61 L619.12,308.44 L627.96,298.05 L636.8,292.47 L645.64,290.99 L654.48,290.89 L663.32,290.79 L672.16,290.34 L681,288.93" fill="none" stroke="#40d0a0" stroke-width="0.75" stroke-opacity="1" stroke-linejoin="round"/>
<path d="M336.24,426.22 L345.08,426.12 L353.92,425.07 L362.76,424.96 L371.6,425.93 L380.44,425.31 L389.28,425.13 L398.12,424.23 L406.96,425.3 L415.8,426.76 L424.64,427.46 L433.48,425.56 L442.32,425.06 L451.16,424.81 L460,426.23 L468.84,426.35 L477.68,425.86 L486.52,426.09 L495.36,425.28 L504.2,425.74 L513.04,423.94 L521.88,421.8 L530.72,417.84 L539.56,412.24 L548.4,400.33 L557.24,380.75 L566.08,353.65 L574.92,325.7 L583.76,304.44 L592.6,289.63 L601.44,279.58 L610.28,274.6 L619.12,272.18 L627.96,271.9 L636.8,270.04 L645.64,269.09 L654.48,267.91 L663.32,267.72 L672.16,268.87 L681,269.37" fill="none" stroke="#20a0e0" stroke-width="0.75" stroke-opacity="1" stroke-linejoin="round"/>
<path d="M336.24,422.27 L345.08,423.77 L353.92,426.06 L362.76,426.31 L371.6,425.25 L380.44,424.52 L389.28,424.8 L398.12,425.71 L406.96,425.08 L415.8,424.75 L424.64,425.26 L433.48,426.27 L442.32,425.72 L451.16,424.96 L460,425.29 L468.84,426 L477.68,427.54 L486.52,427.92 L495.36,425.7 L504.2,425.17 L513.04,425.8 L521.88,425.68 L530.72,426.04 L539.56,424.62 L548.4,421.51 L557.24,418.07 L566.08,408.52 L574.92,392.66 L583.76,371.04 L592.6,345.83 L601.44,326.08 L610.28,310.38 L619.12,300.83 L627.96,293.52 L636.8,290.06 L645.64,290 L654.48,291.22 L663.32,291.64 L672.16,290.42 L681,289.96" fill="none" stroke="#c040c0" stroke-width="0.75" stroke-opacity="1" stroke-linejoin="round"/>
<path d="M336.24,422.94 L345.08,425.08 L353.92,425.78 L362.76,425.48 L371.6,424.73 L380.44,424.75 L389.28,425.48 L398.12,425.72 L406.96,425.28 L415.8,424.82 L424.64,425.49 L433.48,426.14 L442.32,426.12 L451.16,424.4 L460,424.4 L468.84,426.51 L477.68,426.92 L486.52,427.7 L495.36,425.8 L504.2,425.4 L513.04,425.33 L521.88,425.72 L530.72,424.77 L539.56,423.03 L548.4,421.14 L557.24,416.79 L566.08,406.61 L574.92,387.84 L583.76,365.11 L592.6,340.95 L601.44,321.18 L610.28,306.23 L619.12,295.83 L627.96,288.94 L636.8,287.44 L645.64,287.5 L654.48,287.45 L663.32,287.36 L672.16,286.53 L681,285.42" fill="none" stroke="#4070e0" stroke-width="0.75" stroke-opacity="1" stroke-linejoin="round"/>
<path d="M336.24,429.07 L345.08,427.8 L353.92,426.43 L362.76,425.91 L371.6,425.21 L380.44,424.95 L389.28,425.49 L398.12,425.87 L406.96,425 L415.8,425.09 L424.64,425.87 L433.48,426.18 L442.32,425.82 L451.16,424.32 L460,425.36 L468.84,425.97 L477.68,426.77 L486.52,427.04 L495.36,426.12 L504.2,425.72 L513.04,426.23 L521.88,426.29 L530.72,425.44 L539.56,424.35 L548.4,421.7 L557.24,417.8 L566.08,410.52 L574.92,395.25 L583.76,375.49 L592.6,353.39 L601.44,333.15 L610.28,316.93 L619.12,304.7 L627.96,297.75 L636.8,296.4 L645.64,296.46 L654.48,296.76 L663.32,295.13 L672.16,294.05 L681,293.61" fill="none" stroke="#80e040" stroke-width="0.75" stroke-opacity="1" stroke-linejoin="round"/>
<path d="M336.24,425.66 L345.08,424.92 L353.92,425.07 L362.76,425.8 L371.6,425.55 L380.44,424.44 L389.28,423.62 L398.12,425.15 L406.96,426.6 L415.8,426.33 L424.64,425.63 L433.48,425.59 L442.32,425.76 L451.16,426.7 L460,425.7 L468.84,425.49 L477.68,425.38 L486.52,426.23 L495.36,426.96 L504.2,425.82 L513.04,423.97 L521.88,422.2 L530.72,420.3 L539.56,416.75 L548.4,405.62 L557.24,387.37 L566.08,364.9 L574.92,339.57 L583.76,318.9 L592.6,303.17 L601.44,293.03 L610.28,288.97 L619.12,285.14 L627.96,282.97 L636.8,280.86 L645.64,281.3 L654.48,281.87 L663.32,282.87 L672.16,283.13 L681,280.48" fill="none" stroke="#e0a020" stroke-width="0.75" stroke-opacity="1" stroke-linejoin="round"/>
<path d="M336.24,422.05 L345.08,424.52 L353.92,425.29 L362.76,425.09 L371.6,424.03 L380.44,425.08 L389.28,425.93 L398.12,425.13 L406.96,425.08 L415.8,425.86 L424.64,425.84 L433.48,427.19 L442.32,426.24 L451.16,425.29 L460,424.72 L468.84,426.71 L477.68,427.61 L486.52,426.88 L495.36,425.22 L504.2,425.95 L513.04,425.25 L521.88,425.65 L530.72,425.23 L539.56,422.61 L548.4,420.13 L557.24,414.86 L566.08,403.85 L574.92,385.08 L583.76,362.09 L592.6,340.03 L601.44,322.21 L610.28,309.12 L619.12,299.74 L627.96,294.48 L636.8,292.99 L645.64,294.46 L654.48,294.61 L663.32,292.61 L672.16,291.86 L681,291.72" fill="none" stroke="#50d050" stroke-width="0.75" stroke-opacity="1" stroke-linejoin="round"/>
<path d="M336.24,423.86 L345.08,425.49 L353.92,425.45 L362.76,425.97 L371.6,424.4 L380.44,424.49 L389.28,425.28 L398.12,425.36 L406.96,425.68 L415.8,424.63 L424.64,426.72 L433.48,426.87 L442.32,426.11 L451.16,424.39 L460,424.56 L468.84,425.77 L477.68,427.29 L486.52,426.43 L495.36,426.11 L504.2,425.48 L513.04,425.79 L521.88,426.48 L530.72,426.05 L539.56,424.01 L548.4,422.69 L557.24,418.49 L566.08,410.54 L574.92,396.37 L583.76,375.23 L592.6,352.11 L601.44,331.63 L610.28,316.21 L619.12,304.62 L627.96,298.86 L636.8,296.67 L645.64,297.14 L654.48,296.63 L663.32,296.42 L672.16,295.72 L681,293.89" fill="none" stroke="#3060d0" stroke-width="0.75" stroke-opacity="1" stroke-linejoin="round"/>
<path d="M336.24,428.26 L345.08,426.05 L353.92,425.9 L362.76,426.53 L371.6,425.5 L380.44,423.92 L389.28,424.8 L398.12,425.84 L406.96,426.7 L415.8,426.62 L424.64,425.77 L433.48,426.13 L442.32,426.57 L451.16,426.22 L460,425.8 L468.84,425.86 L477.68,425.76 L486.52,426.88 L495.36,426.62 L504.2,426.22 L513.04,424.76 L521.88,424.99 L530.72,426.58 L539.56,425.97 L548.4,423.1 L557.24,419.19 L566.08,413.25 L574.92,401.51 L583.76,380.35 L592.6,353.75 L601.44,329.27 L610.28,311.49 L619.12,300.73 L627.96,295.27 L636.8,291.94 L645.64,291.04 L654.48,291.66 L663.32,290.58 L672.16,289.7 L681,288.06" fill="none" stroke="#6050d0" stroke-width="0.75" stroke-opacity="1" stroke-linejoin="round"/>
<path d="M336.24,429.66 L345.08,426.55 L353.92,425.69 L362.76,425.8 L371.6,426.34 L380.44,424.34 L389.28,424.4 L398.12,424.06 L406.96,426.3 L415.8,426.84 L424.64,426.2 L433.48,424.69 L442.32,425.76 L451.16,426.59 L460,426.64 L468.84,425.52 L477.68,425.6 L486.52,426.75 L495.36,426.58 L504.2,425.32 L513.04,422.54 L521.88,420.88 L530.72,417.22 L539.56,410.15 L548.4,394.43 L557.24,371.4 L566.08,343.32 L574.92,318.44 L583.76,299.28 L592.6,287.77 L601.44,280.45 L610.28,276.06 L619.12,274.28 L627.96,271.61 L636.8,270.87 L645.64,269.6 L654.48,270.84 L663.32,272.04 L672.16,272.36 L681,269.62" fill="none" stroke="#e03030" stroke-width="0.75" stroke-opacity="1" stroke-linejoin="round"/>
<path d="M336.24,424.73 L345.08,425.1 L353.92,424.65 L362.76,425.16 L371.6,426.43 L380.44,425.72 L389.28,423.84 L398.12,424.59 L406.96,424.85 L415.8,426.96 L424.64,426.56 L433.48,426.05 L442.32,424.34 L451.16,425.09 L460,426.56 L468.84,426.66 L477.68,426.24 L486.52,426.05 L495.36,426.56 L504.2,426.57 L513.04,426.48 L521.88,424.6 L530.72,424.44 L539.56,425.88 L548.4,425.1 L557.24,420.98 L566.08,413.92 L574.92,404.53 L583.76,389.79 L592.6,369.29 L601.44,345.34 L610.28,326.37 L619.12,312.55 L627.96,305.14 L636.8,300.23 L645.64,296.41 L654.48,294.25 L663.32,295.27 L672.16,296.41 L681,297.09" fill="none" stroke="#d03060" stroke-width="0.75" stroke-opacity="1" stroke-linejoin="round"/>
<path d="M336.24,422.34 L345.08,424.65 L353.92,425.88 L362.76,424.95 L371.6,424.61 L380.44,424.44 L389.28,425.16 L398.12,425.47 L406.96,425.02 L415.8,425.86 L424.64,426.06 L433.48,426.79 L442.32,426.48 L451.16,425.28 L460,425.25 L468.84,426.45 L477.68,427.37 L486.52,426.72 L495.36,425.24 L504.2,425.84 L513.04,426.31 L521.88,426.19 L530.72,425.34 L539.56,423.41 L548.4,421.38 L557.24,417.84 L566.08,408.94 L574.92,393.53 L583.76,373.25 L592.6,349.17 L601.44,326.75 L610.28,308.8 L619.12,295.34 L627.96,288 L636.8,284.81 L645.64,285.12 L654.48,284.69 L663.32,282.61 L672.16,281.87 L681,280.75" fill="none" stroke="#e04060" stroke-width="0.75" stroke-opacity="1" stroke-linejoin="round"/>
<path d="M336.24,425.68 L345.08,425.56 L353.92,424.27 L362.76,425.42 L371.6,426.54 L380.44,425.52 L389.28,424.99 L398.12,424.06 L406.96,425.12 L415.8,426.39 L424.64,426.47 L433.48,426.17 L442.32,425.41 L451.16,425.03 L460,426.16 L468.84,425.82 L477.68,425.95 L486.52,426.11 L495.36,426.34 L504.2,425.47 L513.04,422.53 L521.88,417.28 L530.72,411.15 L539.56,400.19 L548.4,382.07 L557.24,356.64 L566.08,328.35 L574.92,303.98 L583.76,287.09 L592.6,277.87 L601.44,271.61 L610.28,268.47 L619.12,267.71 L627.96,266.69 L636.8,263.94 L645.64,262.72 L654.48,262.34 L663.32,263.74 L672.16,264.69 L681,264.45" fill="none" stroke="#c86a28" stroke-width="0.75" stroke-opacity="1" stroke-linejoin="round"/>
<path d="M336.24,425.97 L345.08,425.1 L353.92,424.99 L362.76,426.12 L371.6,425.93 L380.44,424.97 L389.28,423.69 L398.12,424.76 L406.96,425.93 L415.8,426.6 L424.64,427.13 L433.48,425.72 L442.32,425.03 L451.16,425.24 L460,426.9 L468.84,426.82 L477.68,426.24 L486.52,426.57 L495.36,427.33 L504.2,426.57 L513.04,425.91 L521.88,425.19 L530.72,424.24 L539.56,424.82 L548.4,422.42 L557.24,416.08 L566.08,404.12 L574.92,387.67 L583.76,367.48 L592.6,343.71 L601.44,324.64 L610.28,312.37 L619.12,305.77 L627.96,301.7 L636.8,298.08 L645.64,296.85 L654.48,295.77 L663.32,298.39 L672.16,299.3 L681,297.92" fill="none" stroke="#e03030" stroke-width="0.75" stroke-opacity="1" stroke-linejoin="round"/>
<path d="M336.24,425.55 L345.08,425.47 L353.92,425.56 L362.76,425.77 L371.6,425.97 L380.44,426.04 L389.28,425.93 L398.12,425.72 L406.96,425.53 L415.8,425.47 L424.64,425.59 L433.48,425.8 L442.32,425.99 L451.16,426.03 L460,425.91 L468.84,425.69 L477.68,425.51 L486.52,425.48 L495.36,425.62 L504.2,425.84 L513.04,426.01 L521.88,426.03 L530.72,425.88 L539.56,425.66 L548.4,425.5 L557.24,425.49 L566.08,425.65 L574.92,425.87 L583.76,426.02 L592.6,426.01 L601.44,425.85 L610.28,425.63 L619.12,424.97 L627.96,424.4 L636.8,423.84 L645.64,422.98 L654.48,419.36 L663.32,415.52 L672.16,407.2 L681,392.92" fill="none" stroke="#d8d050" stroke-width="0.8" stroke-opacity="1" stroke-linejoin="round"/>
<path d="M133.9 452.7h.9M273.6 417.8h.9M150.3 462.9h.9M54.7 434.9h.9M186.4 539.2h.9M27.9 357.6h.9M26.8 545.4h.9M205.3 260.5h.9M290.7 602.9h.9M193.6 473.4h.9M46.6 250.6h.9M156.4 267.1h.9M56.3 334.8h.9M8.9 417.1h.9M130.4 557.5h.9M153.7 482.5h.9M147.9 490.8h.9M135.4 348.2h.9M295.3 614.4h.9M248.7 507.6h.9M93.3 330.2h.9M85.6 271.1h.9M226.8 393.5h.9M250.6 388.4h.9M283.6 559.4h.9M0.2 322.8h.9M269.4 419.4h.9M290.2 392.4h.9M21.6 478.5h.9M230.4 345.1h.9M25.8 368.4h.9M285.4 526.2h.9M34.9 336.4h.9M29.9 267.2h.9M235.9 310.9h.9M165.6 411.0h.9M56.4 516.5h.9M38.8 483.8h.9M34.5 401.1h.9M63.0 345.1h.9M287.4 543.1h.9M90.0 573.3h.9M62.4 391.3h.9M252.9 483.1h.9M29.7 612.0h.9M63.1 340.8h.9M228.7 367.0h.9M87.7 272.2h.9M26.7 461.2h.9M71.9 468.1h.9M110.0 413.1h.9M283.9 424.5h.9M170.1 566.5h.9M54.1 302.2h.9M268.9 548.4h.9M73.9 315.4h.9M218.9 593.9h.9M58.2 597.5h.9M261.1 468.9h.9M124.8 283.5h.9M11.5 602.2h.9M70.6 506.4h.9M76.1 550.6h.9M176.6 353.9h.9M51.9 512.3h.9M20.4 329.7h.9M165.6 561.2h.9M181.8 349.0h.9M271.5 320.7h.9M4.9 344.9h.9M131.9 267.4h.9M52.2 381.8h.9M169.4 293.8h.9M107.2 575.5h.9M290.2 488.7h.9M204.6 461.8h.9M41.5 258.0h.9M5.3 582.7h.9M207.5 602.2h.9M6.3 481.0h.9M142.7 516.0h.9M94.4 615.8h.9M22.3 447.6h.9M218.2 579.0h.9M218.2 506.1h.9M234.8 584.5h.9M104.1 499.2h.9M266.6 568.2h.9M123.5 538.3h.9M255.6 457.5h.9M185.0 386.8h.9M172.5 470.9h.9M23.7 482.2h.9M294.0 571.4h.9M215.5 389.1h.9M217.6 460.5h.9M130.4 556.0h.9M24.8 523.3h.9M8.8 468.1h.9M142.4 330.4h.9M206.7 429.5h.9M181.9 586.5h.9M75.7 249.2h.9M89.1 496.6h.9M60.0 307.9h.9M268.1 489.9h.9M130.8 575.8h.9M96.8 492.0h.9M58.8 404.9h.9M238.6 584.2h.9M260.6 387.6h.9M172.6 362.4h.9M40.3 429.2h.9M247.8 559.9h.9M210.5 597.5h.9M81.9 307.7h.9M133.4 347.1h.9M63.4 398.6h.9M185.2 428.2h.9M93.4 556.3h.9M290.7 412.9h.9M22.1 256.7h.9M258.4 260.4h.9M209.8 456.7h.9M91.5 538.7h.9M5.7 295.4h.9M134.6 254.2h.9M245.6 333.1h.9M41.7 262.4h.9M186.2 410.6h.9M186.5 488.0h.9M239.0 600.6h.9M202.6 319.0h.9M140.6 311.3h.9M3.2 420.2h.9M211.4 311.4h.9M80.6 373.3h.9M206.4 438.1h.9M181.9 525.6h.9M116.5 538.8h.9M268.2 277.4h.9M276.1 513.0h.9M38.5 413.3h.9M185.2 582.6h.9M111.5 456.0h.9M260.3 540.6h.9M279.5 417.0h.9M192.8 321.0h.9M213.7 548.6h.9M189.9 511.3h.9M63.1 578.9h.9M290.2 607.6h.9M158.9 538.4h.9M94.8 582.6h.9M253.3 374.3h.9M24.5 408.6h.9M162.9 530.0h.9M144.3 255.5h.9M239.5 268.8h.9M236.8 309.1h.9M99.2 537.3h.9M41.6 300.2h.9M152.9 513.4h.9M248.6 500.8h.9M279.9 427.7h.9M280.9 276.9h.9M65.5 440.4h.9M85.9 515.4h.9M189.1 439.0h.9M249.7 452.7h.9M92.3 386.4h.9M250.2 579.1h.9M61.6 560.6h.9M286.7 439.5h.9M169.6 319.6h.9M158.6 431.7h.9M179.1 255.3h.9M286.9 436.4h.9M118.6 542.2h.9M166.6 427.2h.9M204.5 269.4h.9M159.5 398.5h.9M283.2 587.6h.9M79.7 420.5h.9M37.6 405.9h.9M241.5 579.1h.9M141.1 362.7h.9M56.7 474.2h.9M273.9 293.0h.9M230.7 253.5h.9M57.5 329.3h.9M203.4 364.5h.9M105.2 474.9h.9M31.0 516.2h.9M36.3 434.4h.9M74.2 318.4h.9M157.0 407.0h.9M111.2 398.4h.9M156.7 304.3h.9M60.5 479.2h.9M189.0 441.5h.9M252.0 471.9h.9M253.6 331.3h.9M219.3 545.7h.9M267.2 362.2h.9M93.2 587.3h.9M64.6 615.4h.9M262.7 294.7h.9M70.8 514.6h.9M76.8 281.0h.9M246.3 401.4h.9M233.8 291.7h.9M119.2 499.2h.9M5.3 319.5h.9M202.0 583.1h.9M286.6 287.8h.9M149.7 526.3h.9M148.8 499.4h.9M55.9 271.2h.9M31.4 258.9h.9M163.3 436.0h.9M168.3 299.4h.9M54.6 320.7h.9M248.7 612.4h.9M274.4 280.3h.9M18.3 598.0h.9M136.8 528.7h.9M96.7 418.2h.9M152.5 404.6h.9M177.9 249.9h.9M207.5 558.2h.9M53.7 413.4h.9M218.8 395.4h.9M57.8 306.2h.9M151.7 250.7h.9M264.4 542.4h.9M208.6 564.3h.9M186.3 395.1h.9M177.5 432.1h.9M290.9 543.6h.9M76.4 583.1h.9M220.4 533.6h.9M241.1 395.5h.9M265.4 571.4h.9M205.7 529.7h.9M226.5 395.5h.9M213.9 271.2h.9M101.1 418.9h.9M3.1 376.9h.9M189.1 476.5h.9M68.7 595.5h.9M197.2 370.3h.9M195.3 456.3h.9M157.8 389.5h.9M296.0 483.3h.9M207.6 527.6h.9M290.1 253.5h.9M182.2 519.1h.9M76.0 394.0h.9M14.9 317.5h.9M111.2 281.5h.9M74.3 581.0h.9M162.8 433.4h.9M286.3 455.7h.9M294.6 481.7h.9M239.6 273.3h.9M176.9 526.7h.9M13.4 590.1h.9M47.3 420.0h.9M50.1 428.8h.9M180.9 266.7h.9M279.8 401.1h.9M155.9 466.8h.9M108.2 351.0h.9M193.9 453.0h.9M83.9 510.9h.9M87.6 250.2h.9M72.5 260.9h.9M46.3 525.0h.9M115.4 578.0h.9M221.5 263.6h.9M292.7 595.4h.9M21.8 581.0h.9M127.1 422.2h.9M288.1 335.4h.9M154.9 592.7h.9M213.9 418.8h.9M289.7 548.0h.9M178.7 287.7h.9M184.8 414.1h.9M60.3 264.3h.9M156.3 291.1h.9M131.1 492.8h.9M134.8 342.3h.9M172.3 400.6h.9M230.3 441.9h.9M295.3 598.4h.9M217.3 333.5h.9M33.7 576.2h.9M232.2 476.9h.9M106.3 345.7h.9M202.8 454.6h.9M175.1 479.9h.9M223.0 315.4h.9M73.7 608.5h.9M271.1 571.0h.9M11.7 267.6h.9M80.2 402.7h.9M184.5 283.0h.9M160.3 271.9h.9M25.6 495.9h.9M163.0 479.1h.9M110.5 422.5h.9M62.3 372.5h.9M220.5 556.1h.9M22.0 289.4h.9M239.5 476.4h.9M227.6 324.1h.9M125.6 340.7h.9M239.7 381.9h.9M193.5 612.0h.9M96.3 448.5h.9M220.8 586.6h.9M126.6 382.0h.9M28.7 569.7h.9M23.2 275.8h.9M167.0 424.9h.9M202.9 355.9h.9M229.5 273.2h.9M63.1 490.6h.9M24.2 357.7h.9M214.6 502.5h.9M83.7 298.0h.9M105.9 514.3h.9M108.5 288.5h.9M209.9 456.2h.9M271.9 593.7h.9M270.4 407.5h.9M237.7 358.1h.9M94.0 393.2h.9M276.7 576.9h.9M73.5 379.2h.9M108.2 379.8h.9M117.1 388.8h.9M57.7 454.2h.9M235.9 445.5h.9M247.6 453.8h.9M52.3 526.6h.9M260.7 349.4h.9M6.6 436.3h.9M161.1 455.5h.9M286.1 486.6h.9M238.1 268.8h.9M161.9 537.4h.9M24.9 275.3h.9M218.2 578.6h.9M25.1 480.3h.9M42.6 521.7h.9M192.1 336.1h.9M65.3 528.9h.9M154.4 528.7h.9M116.7 370.3h.9M286.6 494.5h.9M146.1 444.4h.9M213.4 507.7h.9M270.8 397.3h.9M244.6 492.4h.9M252.6 544.0h.9M246.8 574.7h.9M283.5 482.5h.9M155.1 508.4h.9M237.5 401.4h.9M124.5 299.2h.9M219.4 612.7h.9M111.2 307.2h.9M60.5 402.7h.9M86.4 604.8h.9M17.5 359.4h.9M34.0 485.4h.9M229.7 311.6h.9M18.5 415.2h.9M172.9 582.3h.9M10.8 285.3h.9M54.6 325.6h.9M69.7 511.1h.9M176.1 328.1h.9M54.8 349.3h.9M51.1 526.0h.9M92.3 448.4h.9M241.9 422.9h.9M77.1 574.2h.9M270.6 371.9h.9M162.0 600.1h.9M142.9 327.0h.9M14.7 596.5h.9M237.2 387.8h.9M156.2 436.4h.9M81.3 612.4h.9M194.6 333.2h.9M3.2 420.4h.9M110.0 540.6h.9M211.1 469.9h.9M46.6 303.2h.9M95.3 341.2h.9M257.3 436.5h.9M188.5 613.4h.9M78.9 443.3h.9M44.6 530.8h.9M0.4 549.7h.9M250.5 550.0h.9M24.4 345.1h.9M212.1 281.0h.9M142.1 418.9h.9M282.8 462.6h.9M253.8 357.6h.9M233.6 399.7h.9M271.4 278.7h.9M244.6 322.3h.9M160.8 440.0h.9M46.6 553.7h.9M92.2 360.3h.9M22.5 358.4h.9M138.3 510.3h.9M106.5 499.9h.9M31.3 391.3h.9M136.7 603.7h.9M245.6 487.6h.9M3.7 384.9h.9M210.2 333.1h.9M167.0 415.0h.9M3.1 612.9h.9M236.6 321.7h.9M182.4 352.7h.9M111.3 445.3h.9M88.3 370.2h.9M116.1 492.3h.9M75.9 319.2h.9M216.5 367.2h.9M279.7 453.8h.9M214.2 368.0h.9M244.8 279.2h.9M41.7 280.0h.9M200.6 507.8h.9M53.2 394.2h.9M247.7 464.9h.9M26.7 329.1h.9M46.5 291.0h.9M120.4 272.0h.9M272.5 403.4h.9M151.4 485.1h.9M227.0 549.6h.9M114.2 368.0h.9M122.0 250.7h.9M118.6 504.7h.9M290.7 538.0h.9M195.4 470.8h.9M5.5 367.8h.9M101.3 486.4h.9M31.5 385.1h.9M150.8 537.6h.9M244.3 471.8h.9M46.9 529.4h.9M267.3 448.4h.9M104.4 430.7h.9M42.0 509.7h.9M292.1 436.4h.9M211.8 555.0h.9M58.4 595.6h.9M185.6 318.4h.9M24.6 335.7h.9M170.6 503.6h.9M97.4 589.7h.9M106.9 416.8h.9M36.7 606.2h.9M40.1 580.4h.9M160.9 453.0h.9M165.9 343.1h.9M269.2 613.1h.9M242.0 468.2h.9M36.3 550.9h.9M85.4 577.8h.9M71.3 457.8h.9M245.9 313.8h.9M162.2 273.3h.9M9.5 311.8h.9M292.2 593.5h.9M194.9 359.1h.9M198.7 518.7h.9M113.0 464.6h.9M237.9 251.1h.9M59.1 418.6h.9M42.3 388.3h.9M168.6 309.4h.9M153.9 342.8h.9M168.1 368.2h.9M189.9 259.0h.9M198.6 298.7h.9M284.0 467.6h.9M139.1 397.6h.9M184.6 500.7h.9M224.4 523.9h.9M143.8 614.0h.9M248.1 562.2h.9M121.1 406.0h.9M167.5 580.8h.9M155.7 439.8h.9M127.9 580.5h.9M94.9 265.3h.9M214.8 579.0h.9M216.7 466.7h.9M222.6 358.1h.9M175.7 270.9h.9M36.8 410.8h.9M148.8 392.2h.9M15.4 502.8h.9M155.8 333.7h.9M90.7 391.7h.9M69.8 270.4h.9M269.7 603.6h.9M197.0 566.5h.9M124.7 543.8h.9M65.6 522.0h.9M167.8 580.2h.9M29.2 539.0h.9M36.6 444.4h.9M281.5 245.2h.9M72.2 356.0h.9M96.1 268.2h.9M265.0 547.5h.9M117.6 377.3h.9M173.3 262.0h.9M9.2 578.3h.9M91.1 429.9h.9M276.4 607.6h.9M139.9 321.6h.9M87.4 587.3h.9M265.5 317.5h.9M248.0 376.4h.9M139.9 308.8h.9M260.4 614.3h.9M59.8 479.6h.9M56.7 571.5h.9M14.8 284.4h.9M214.8 361.1h.9M266.5 567.6h.9M211.1 295.0h.9M206.0 592.9h.9M131.8 274.3h.9M66.1 359.0h.9M210.3 317.9h.9M53.6 332.4h.9M196.7 538.3h.9M110.3 490.6h.9M261.8 463.9h.9M67.8 356.6h.9M274.3 492.5h.9M81.9 482.4h.9M26.6 609.7h.9M130.3 441.0h.9M157.1 261.8h.9M177.5 350.6h.9M74.3 543.0h.9M25.8 350.8h.9M223.7 336.2h.9M82.6 448.3h.9M55.2 577.8h.9M292.4 257.5h.9M136.6 523.5h.9M113.9 589.8h.9M148.0 311.7h.9M164.6 484.3h.9M106.4 489.2h.9M231.8 436.7h.9M149.7 558.6h.9M202.5 438.1h.9M281.7 309.5h.9M230.8 306.3h.9M180.0 332.3h.9M130.4 531.8h.9M232.8 538.5h.9M69.8 426.5h.9M65.5 460.2h.9M147.7 258.1h.9M176.7 510.2h.9M169.5 568.8h.9M53.3 301.3h.9M5.3 429.1h.9M128.7 408.9h.9M77.8 541.3h.9M21.5 581.6h.9M168.4 446.5h.9M234.3 333.3h.9M43.3 360.4h.9M12.5 361.6h.9M183.9 439.9h.9M78.4 463.4h.9M26.2 549.4h.9M50.8 339.5h.9M47.3 501.2h.9M246.0 536.9h.9M18.1 397.3h.9M107.9 325.3h.9M287.3 260.6h.9M144.9 527.4h.9M291.9 298.6h.9M134.8 521.4h.9M11.6 334.3h.9M263.5 297.5h.9M116.3 355.6h.9M125.6 273.4h.9M10.1 614.6h.9M225.9 517.3h.9M68.0 338.9h.9M163.4 334.7h.9M136.6 590.9h.9M107.7 370.0h.9M290.4 471.6h.9M11.7 394.5h.9M192.3 266.7h.9M101.6 502.7h.9M255.9 464.1h.9M262.4 416.6h.9M116.3 557.8h.9M112.8 534.9h.9M63.8 373.9h.9M54.3 448.9h.9M48.5 320.6h.9M63.5 418.5h.9M91.3 410.9h.9M294.0 497.0h.9M255.4 320.9h.9M113.4 272.0h.9M204.6 379.6h.9M81.3 251.9h.9M53.9 342.3h.9M116.3 587.6h.9M211.7 344.7h.9M106.9 302.0h.9M277.2 378.5h.9M226.6 513.4h.9M268.5 252.6h.9M95.3 387.6h.9M24.6 572.4h.9M96.3 530.9h.9M153.7 265.4h.9M116.6 333.4h.9M12.1 301.0h.9M176.2 256.8h.9M92.4 402.3h.9M161.0 295.5h.9M209.2 341.6h.9M214.7 492.2h.9M43.6 321.0h.9M83.0 509.4h.9M120.0 388.4h.9M256.3 328.9h.9M86.5 373.0h.9M63.9 260.1h.9M7.3 478.9h.9M167.5 545.1h.9M288.8 355.6h.9M198.5 586.0h.9M64.0 500.7h.9M197.3 599.4h.9M257.0 332.0h.9M187.2 278.3h.9M126.6 390.6h.9M17.8 387.2h.9M97.1 429.4h.9M82.8 303.8h.9M119.1 421.3h.9M49.3 491.8h.9M71.0 279.5h.9M101.2 401.7h.9M44.6 461.2h.9M207.6 450.2h.9M207.3 253.5h.9M115.8 380.2h.9M18.6 395.0h.9M16.2 428.9h.9M173.4 419.0h.9M96.4 339.0h.9M7.0 373.8h.9M264.0 454.9h.9M77.5 492.8h.9M55.1 419.1h.9M182.1 599.2h.9M107.3 458.8h.9M278.9 531.2h.9M185.7 475.3h.9M121.6 399.2h.9M81.7 552.8h.9M260.4 386.7h.9M269.2 259.1h.9M40.2 433.1h.9M91.3 378.7h.9M289.2 300.6h.9M57.0 329.8h.9M201.3 332.0h.9M0.3 446.8h.9M116.6 333.8h.9M146.1 486.2h.9M162.2 476.6h.9M166.0 553.3h.9M286.8 368.7h.9M102.6 573.8h.9M92.8 510.6h.9M205.8 499.7h.9M285.3 550.8h.9M47.2 475.6h.9M145.2 454.2h.9M109.4 351.0h.9M221.7 443.1h.9M70.2 337.5h.9M96.2 311.0h.9M152.1 291.7h.9M18.7 270.5h.9M30.3 506.5h.9M33.4 412.5h.9M228.5 423.3h.9M48.1 566.4h.9M257.5 264.8h.9M75.2 433.3h.9M235.8 390.5h.9M211.9 338.4h.9M211.9 366.3h.9M98.8 526.7h.9M249.4 552.4h.9M168.0 401.0h.9M209.2 476.1h.9M246.0 542.3h.9M37.1 384.8h.9M198.1 330.7h.9M54.7 250.1h.9M173.3 594.1h.9M287.2 294.6h.9M203.5 400.6h.9M186.9 392.2h.9M276.3 611.8h.9M14.4 509.6h.9M35.0 260.7h.9M84.7 516.3h.9M294.1 289.6h.9M97.7 254.8h.9M160.6 424.2h.9M110.5 359.7h.9M236.9 556.2h.9M84.0 390.3h.9M182.9 529.0h.9M290.4 389.4h.9M205.4 447.5h.9M236.8 299.5h.9M51.8 284.7h.9M276.3 338.3h.9M144.5 289.7h.9M95.8 252.1h.9M167.5 298.3h.9M185.1 346.7h.9M67.4 423.9h.9M108.3 341.3h.9M15.2 268.9h.9M264.2 359.8h.9M23.2 312.7h.9M143.1 614.9h.9M59.9 566.7h.9M143.3 398.8h.9M238.9 391.9h.9M17.1 449.3h.9M194.4 476.1h.9M82.0 593.3h.9M255.9 613.9h.9M131.2 554.3h.9M214.6 310.2h.9M7.9 307.6h.9M35.2 272.7h.9M106.2 524.6h.9M91.8 435.8h.9M3.1 323.0h.9M283.9 249.1h.9M156.1 545.6h.9M234.5 517.8h.9M118.2 542.9h.9M245.0 529.8h.9M291.8 282.4h.9M281.3 394.2h.9M208.8 337.9h.9M269.3 253.7h.9M170.7 329.3h.9M115.0 382.0h.9M194.5 545.8h.9M107.9 481.7h.9M104.8 348.6h.9M267.9 364.3h.9M27.9 369.2h.9M219.5 323.4h.9M220.0 447.7h.9M201.3 310.8h.9M31.3 298.0h.9M103.7 404.8h.9M2.8 431.5h.9M119.4 364.3h.9M159.0 598.3h.9M60.6 571.7h.9M95.0 524.8h.9M32.1 611.4h.9M127.3 602.1h.9M65.0 396.4h.9M209.0 311.0h.9M80.9 496.2h.9M280.5 364.5h.9M54.3 377.5h.9M292.9 300.0h.9M187.9 385.3h.9M190.6 323.8h.9M182.4 574.3h.9M253.5 478.2h.9M149.4 455.6h.9M33.8 555.7h.9M204.2 413.1h.9M197.0 400.6h.9M113.9 330.3h.9M177.8 457.5h.9M152.5 256.9h.9M185.7 410.8h.9M175.6 465.6h.9M275.8 301.4h.9M138.7 613.4h.9M218.4 361.1h.9M218.1 612.1h.9M119.0 566.8h.9M37.5 612.3h.9M145.4 331.9h.9M248.7 485.9h.9M277.6 552.7h.9M236.1 434.8h.9M294.1 269.0h.9M257.5 509.0h.9M74.2 544.5h.9M134.4 444.0h.9M256.2 317.7h.9M82.8 483.8h.9M21.8 450.9h.9M233.0 427.1h.9M71.6 541.8h.9M253.1 531.0h.9M162.6 581.0h.9M235.8 301.3h.9M108.3 282.2h.9M10.9 373.3h.9M256.0 554.4h.9M34.8 312.4h.9M115.0 560.1h.9M182.6 579.6h.9M21.3 611.5h.9M61.2 478.4h.9M259.5 515.0h.9M58.3 493.0h.9M127.5 250.7h.9M100.5 362.0h.9M186.4 348.3h.9M178.5 502.8h.9M53.5 292.5h.9M205.4 418.1h.9M38.2 288.0h.9M278.5 471.3h.9M105.8 317.8h.9M294.5 501.6h.9M217.9 378.7h.9M91.8 396.5h.9M43.3 479.2h.9M125.7 549.3h.9M121.1 414.5h.9M149.9 594.4h.9M102.5 506.0h.9M69.6 459.9h.9M84.3 568.8h.9M84.8 562.0h.9M200.3 413.8h.9M276.4 388.8h.9M220.0 468.1h.9M132.7 268.8h.9M124.1 349.4h.9M130.5 599.1h.9M86.7 502.8h.9M198.9 335.8h.9M121.8 294.0h.9M265.0 338.4h.9M124.5 371.7h.9M242.9 560.5h.9M174.8 447.5h.9M29.4 577.6h.9M26.2 379.9h.9M110.8 513.3h.9M198.1 372.6h.9M265.8 597.3h.9M6.9 479.8h.9M138.9 379.2h.9M137.6 362.2h.9M198.6 469.7h.9M287.2 607.3h.9M293.8 391.6h.9M245.3 486.1h.9M207.5 615.1h.9M19.7 416.5h.9M118.8 488.4h.9M64.5 612.2h.9M62.0 382.2h.9M42.3 391.4h.9M219.6 276.0h.9M49.4 485.8h.9M184.4 520.3h.9M75.0 546.0h.9M216.3 532.9h.9M35.4 418.9h.9M4.7 563.9h.9M279.6 577.3h.9M7.2 375.3h.9M158.6 443.0h.9M32.9 537.8h.9M89.3 433.2h.9M36.9 455.7h.9M38.4 277.8h.9M151.6 354.1h.9M230.1 336.6h.9M122.5 265.1h.9M64.4 412.6h.9M165.2 415.4h.9M251.8 283.7h.9M251.6 302.4h.9M287.2 439.8h.9M120.3 472.1h.9M255.7 602.6h.9M122.4 249.0h.9M45.5 548.6h.9M217.4 509.4h.9M46.3 442.0h.9M8.4 285.9h.9M89.0 603.5h.9M190.3 559.5h.9M13.6 399.4h.9M23.2 341.8h.9M33.1 585.9h.9M97.3 426.4h.9M193.6 574.0h.9M280.1 455.7h.9M148.3 580.3h.9M116.8 356.1h.9M218.8 340.8h.9M108.9 404.3h.9M141.2 378.0h.9M127.4 412.3h.9M14.7 555.0h.9M18.3 440.8h.9M162.1 393.3h.9M65.9 281.8h.9M110.1 361.6h.9M143.3 330.4h.9M221.8 425.8h.9M2.7 395.9h.9M286.0 247.6h.9M175.6 601.5h.9M108.2 466.9h.9M109.2 356.7h.9M180.3 463.7h.9M93.3 429.6h.9M152.8 524.7h.9M15.7 279.4h.9M74.6 345.2h.9M235.5 402.9h.9M254.6 394.3h.9M84.6 497.2h.9M25.3 610.1h.9M246.1 366.8h.9M93.9 549.0h.9M233.3 483.3h.9M16.8 528.3h.9M14.2 476.8h.9M163.4 589.0h.9M189.1 253.3h.9M276.6 524.3h.9M171.6 247.1h.9M218.1 400.2h.9M201.2 609.9h.9M271.4 272.8h.9M231.3 408.4h.9M222.5 385.2h.9M132.5 407.1h.9M34.9 363.7h.9M217.5 271.5h.9M34.3 554.4h.9M197.2 448.4h.9M33.5 288.9h.9M91.8 598.9h.9M165.8 587.2h.9M62.5 398.9h.9M158.8 556.4h.9M36.5 569.1h.9M139.8 256.6h.9M127.9 385.1h.9M199.6 589.4h.9M146.1 500.8h.9M114.8 533.9h.9M31.1 520.4h.9M49.3 462.3h.9M59.8 373.5h.9M48.5 374.8h.9M175.1 437.9h.9M115.0 458.1h.9M249.3 377.9h.9M172.8 423.3h.9M290.3 366.7h.9M206.4 331.7h.9M77.3 516.0h.9M170.2 340.4h.9M19.0 551.0h.9M111.8 510.8h.9M128.1 474.1h.9M165.6 607.0h.9M269.3 414.1h.9M144.1 330.8h.9M222.9 283.0h.9M90.7 559.4h.9M10.4 504.1h.9M168.2 449.6h.9M98.6 301.2h.9M281.4 528.7h.9M238.5 281.2h.9M232.1 326.1h.9M59.0 443.5h.9M180.5 289.8h.9M226.4 461.1h.9M266.2 587.8h.9M204.0 380.1h.9M281.5 511.6h.9M86.1 563.2h.9M215.2 343.2h.9M73.8 252.5h.9M159.0 339.1h.9M86.7 338.8h.9M38.9 424.9h.9M80.7 350.8h.9M82.2 433.9h.9M258.6 304.4h.9M254.4 562.1h.9M180.4 446.7h.9M217.2 443.3h.9M195.3 586.0h.9M229.5 341.4h.9M16.1 592.5h.9M107.4 537.1h.9M69.1 413.0h.9M109.7 515.5h.9M279.3 432.6h.9M167.5 374.4h.9M68.7 597.4h.9M32.6 593.9h.9M194.5 271.6h.9M266.9 282.8h.9M167.4 289.4h.9M292.7 359.8h.9M258.1 267.8h.9M197.2 270.2h.9M8.8 456.8h.9M290.9 499.2h.9M253.2 536.2h.9M154.3 273.6h.9M156.0 313.5h.9M155.9 376.4h.9M147.7 318.3h.9M208.7 399.8h.9M143.8 274.2h.9M144.1 451.9h.9M287.9 453.3h.9M39.9 356.4h.9M99.3 505.5h.9M277.9 607.1h.9M281.2 588.3h.9M254.2 591.9h.9M6.0 426.7h.9M174.8 499.4h.9M181.4 472.5h.9M276.2 277.1h.9M153.7 601.0h.9M9.4 286.5h.9M257.2 600.1h.9M7.1 256.9h.9M245.6 500.4h.9M153.9 460.2h.9M224.2 544.7h.9M0.2 270.2h.9M235.1 606.9h.9M246.7 396.2h.9M99.3 373.6h.9M4.4 530.7h.9M77.6 462.3h.9M155.7 369.4h.9M199.8 413.8h.9M69.4 572.2h.9M52.0 300.6h.9M75.0 422.7h.9" stroke="#6a6a6a" stroke-width="0.9" stroke-opacity="0.6" fill="none"/>
<path d="M232.0 368.5h.9M70.5 487.8h.9M77.0 438.9h.9M75.5 570.4h.9M54.6 331.2h.9M89.2 367.3h.9M215.0 495.1h.9M233.9 445.4h.9M23.3 528.2h.9M72.4 325.8h.9M122.7 612.2h.9M109.7 377.2h.9M269.7 612.5h.9M114.6 295.3h.9M233.7 535.2h.9M100.1 538.3h.9M112.3 351.5h.9M175.6 520.1h.9M140.9 548.6h.9M4.1 430.1h.9M112.6 269.2h.9M270.7 298.2h.9M60.9 570.8h.9M284.3 590.6h.9M101.2 590.3h.9M42.0 510.1h.9M279.9 316.5h.9M40.2 496.6h.9M261.2 514.5h.9M281.0 413.3h.9M110.2 289.6h.9M80.8 593.3h.9M21.2 313.6h.9M102.9 263.3h.9M90.9 312.8h.9M36.3 440.5h.9M159.9 455.6h.9M225.6 440.4h.9M280.3 275.2h.9M66.0 273.5h.9M91.6 527.2h.9M273.6 431.9h.9M47.5 367.6h.9M168.3 354.2h.9M234.7 605.8h.9M136.1 468.8h.9M250.4 417.5h.9M56.5 595.2h.9M289.5 254.1h.9M225.8 393.6h.9M15.4 305.4h.9M51.2 518.2h.9M62.6 252.3h.9M65.0 541.5h.9M147.8 487.2h.9M137.7 312.7h.9M4.5 357.9h.9M12.3 341.7h.9M183.2 382.0h.9M140.0 476.5h.9M93.9 377.3h.9M261.6 460.5h.9M123.4 445.4h.9M136.3 368.3h.9M270.5 331.6h.9M277.0 561.5h.9M261.1 305.3h.9M150.6 610.3h.9M85.4 308.4h.9M214.1 332.2h.9M172.8 303.5h.9M280.5 350.4h.9M28.7 500.0h.9M102.7 452.5h.9M147.2 587.3h.9M152.2 385.6h.9M0.5 429.2h.9M79.6 458.0h.9M187.0 416.5h.9M26.6 429.6h.9M142.6 482.9h.9M287.2 348.9h.9M131.0 276.4h.9M236.8 332.0h.9M245.4 541.0h.9M75.4 579.9h.9M149.2 403.1h.9M164.3 595.9h.9M145.0 423.9h.9M86.0 557.1h.9M148.9 372.1h.9M58.2 324.8h.9M246.9 543.1h.9M289.7 585.2h.9M202.8 540.8h.9M210.6 545.4h.9M237.2 310.4h.9M241.2 357.5h.9M72.3 586.2h.9M6.8 434.9h.9M101.6 538.7h.9M180.7 583.0h.9M276.0 484.0h.9M19.1 492.5h.9M32.4 609.4h.9M257.9 360.2h.9M55.0 502.6h.9M224.4 610.4h.9M184.4 291.5h.9M215.1 266.7h.9M256.8 530.2h.9M232.5 569.1h.9M168.5 595.0h.9M189.2 427.5h.9M113.8 376.1h.9M6.8 304.7h.9M235.5 329.9h.9M193.5 532.6h.9M205.6 436.4h.9M93.5 346.2h.9M55.5 485.3h.9M203.1 594.6h.9M97.9 589.0h.9M269.8 352.8h.9M281.8 474.8h.9M284.9 532.2h.9M98.7 348.6h.9M154.7 426.0h.9M10.5 565.0h.9M158.5 420.5h.9M220.4 337.7h.9M59.0 460.5h.9M71.4 366.5h.9M20.7 264.4h.9M105.2 440.5h.9M280.9 482.3h.9M122.7 395.9h.9M69.7 420.8h.9M283.9 290.2h.9M128.2 499.4h.9M225.7 450.9h.9M189.8 593.1h.9M267.2 338.2h.9M160.2 615.0h.9M156.2 315.3h.9M226.8 266.1h.9M44.5 449.5h.9M80.7 512.0h.9M215.1 363.5h.9M227.0 485.3h.9M209.0 414.4h.9M128.0 284.5h.9M140.6 599.2h.9M263.0 265.8h.9M21.0 345.0h.9M205.6 407.4h.9M37.8 402.9h.9M169.7 521.1h.9M119.3 486.0h.9M201.7 473.4h.9M13.7 508.6h.9M38.1 265.3h.9M140.2 251.2h.9M21.6 390.1h.9M138.7 284.2h.9M282.3 561.1h.9M144.0 463.1h.9M93.4 609.9h.9M35.5 357.8h.9M65.4 566.2h.9M150.6 397.3h.9M118.1 574.1h.9M76.2 538.6h.9M209.6 411.3h.9M108.3 407.1h.9M134.1 362.1h.9M184.7 397.5h.9M89.9 531.7h.9M134.7 420.7h.9M260.3 413.7h.9M111.3 578.2h.9M289.0 536.5h.9M118.8 494.0h.9M219.3 354.9h.9M214.3 597.4h.9M194.1 493.1h.9M128.8 487.4h.9M66.9 530.8h.9M159.6 608.6h.9M101.1 509.0h.9M5.0 399.4h.9M226.8 341.3h.9M181.6 327.0h.9M117.9 613.7h.9M58.2 583.6h.9M17.7 461.3h.9M243.1 555.7h.9M115.8 464.0h.9M210.8 527.6h.9M221.0 459.8h.9M74.5 506.6h.9M166.1 446.9h.9M292.2 295.6h.9M231.1 365.5h.9M215.1 597.6h.9M81.2 455.4h.9M156.4 428.7h.9M49.4 477.0h.9M264.5 491.1h.9M85.6 544.0h.9M124.3 298.9h.9M179.3 415.8h.9M156.8 612.7h.9M168.6 598.7h.9M104.4 526.6h.9M22.3 356.4h.9M204.8 501.1h.9M245.2 386.0h.9M81.0 378.0h.9M159.0 254.0h.9M110.9 488.8h.9M44.0 360.4h.9M258.3 591.3h.9M73.9 311.0h.9M34.8 276.8h.9M235.0 519.2h.9M78.3 426.5h.9M205.8 255.4h.9M242.4 563.9h.9M62.5 506.0h.9M207.0 370.0h.9M260.0 326.0h.9M140.3 361.4h.9M130.8 546.4h.9M168.7 471.0h.9M292.2 327.9h.9M65.9 474.9h.9M44.5 602.7h.9M101.0 408.3h.9M127.6 552.1h.9M270.9 496.2h.9M50.7 376.8h.9M209.1 325.2h.9M261.3 568.6h.9M67.0 380.1h.9M67.7 511.6h.9M13.9 503.1h.9M18.5 557.1h.9M160.8 461.4h.9M28.2 261.4h.9M104.5 610.3h.9M177.6 564.9h.9M18.5 282.8h.9M6.2 503.6h.9M52.2 346.2h.9M197.4 503.0h.9M95.4 418.4h.9M85.6 453.3h.9M105.3 378.6h.9M73.7 353.4h.9M77.2 251.0h.9M91.9 464.6h.9M79.5 286.9h.9M250.4 419.0h.9M151.5 360.7h.9M262.6 524.8h.9M184.3 489.6h.9M204.9 430.7h.9M122.3 389.7h.9M149.2 418.9h.9M156.6 442.8h.9M233.4 576.2h.9M66.3 253.2h.9M89.1 256.8h.9M235.7 475.2h.9M84.5 316.0h.9M257.1 555.2h.9M202.4 501.6h.9M220.4 413.7h.9M117.6 450.1h.9M260.6 612.8h.9M271.4 554.9h.9M22.0 336.6h.9M287.4 446.6h.9M152.4 359.9h.9M255.1 436.7h.9M293.1 273.0h.9M294.0 250.0h.9M43.9 389.5h.9M189.3 286.0h.9M166.5 593.5h.9M128.9 527.8h.9M175.2 461.1h.9M51.3 417.1h.9M266.5 495.1h.9M64.2 410.8h.9M160.9 369.9h.9M171.0 479.3h.9M5.3 326.6h.9M194.4 324.5h.9M21.5 527.7h.9M98.8 600.3h.9M165.4 282.6h.9M188.5 342.3h.9M241.1 513.7h.9M224.5 266.2h.9M10.1 541.0h.9M41.6 319.9h.9M8.9 305.7h.9M140.2 600.4h.9M95.1 341.2h.9M245.1 313.4h.9M188.0 473.2h.9M276.9 261.2h.9M166.7 387.0h.9M243.8 338.6h.9M211.6 313.7h.9M146.6 604.3h.9M71.0 348.5h.9M271.6 495.2h.9M19.5 314.2h.9M70.2 352.6h.9M250.0 504.9h.9M290.0 493.5h.9M185.8 387.1h.9M212.3 428.1h.9M17.4 427.5h.9M113.7 442.0h.9M14.4 255.4h.9M290.9 382.7h.9M97.7 300.0h.9M175.4 584.4h.9M53.4 430.6h.9M147.9 529.1h.9M167.3 333.6h.9M56.1 513.8h.9M23.1 565.8h.9M9.9 315.3h.9M138.5 558.1h.9M183.4 521.7h.9M225.3 513.0h.9M15.3 551.2h.9M43.7 305.2h.9M11.1 255.5h.9M259.6 386.3h.9M25.6 262.3h.9M250.5 468.2h.9M271.2 258.9h.9M33.3 351.4h.9M56.5 286.6h.9M59.4 482.6h.9M49.8 307.6h.9M158.5 384.3h.9M44.3 455.8h.9M150.4 389.0h.9M140.4 259.7h.9M182.1 316.7h.9M99.4 248.4h.9M262.8 463.0h.9M116.1 446.0h.9M278.2 294.0h.9M113.5 507.7h.9M110.1 507.2h.9M268.8 260.2h.9M84.2 353.6h.9M222.1 536.0h.9M207.0 588.1h.9M55.0 390.9h.9M252.5 529.0h.9M33.4 608.5h.9M219.2 566.3h.9M107.2 469.6h.9M283.8 578.1h.9M170.8 575.2h.9M295.7 556.4h.9M194.1 601.3h.9M42.5 394.8h.9M167.0 293.8h.9M231.1 268.1h.9M186.1 348.8h.9M95.6 470.1h.9M56.7 411.0h.9M253.7 611.1h.9M77.7 380.6h.9M205.4 315.4h.9M251.3 318.7h.9M164.8 370.9h.9M0.3 245.4h.9M0.6 366.8h.9M81.5 612.8h.9M188.7 269.2h.9M211.9 331.2h.9M142.5 513.1h.9M253.6 592.0h.9M124.6 362.9h.9M117.7 361.0h.9M219.5 416.8h.9M202.9 301.4h.9M231.7 603.7h.9M60.1 473.8h.9M48.0 258.1h.9M122.5 313.0h.9M216.3 457.3h.9M199.7 604.1h.9M17.2 281.5h.9M10.6 415.4h.9M244.0 498.7h.9M162.2 562.6h.9M110.2 286.9h.9M189.9 254.5h.9M67.9 256.1h.9M47.8 268.7h.9M157.3 292.5h.9M178.6 550.8h.9M101.9 289.6h.9M198.7 515.3h.9M261.7 450.6h.9M172.3 565.2h.9M200.5 606.7h.9M85.0 532.3h.9M187.3 418.8h.9M3.2 421.8h.9M78.0 468.2h.9M150.8 434.4h.9M17.4 293.8h.9M179.7 498.0h.9M293.2 539.1h.9M85.9 414.1h.9M149.7 543.3h.9M116.8 586.5h.9M143.3 392.7h.9M142.0 377.6h.9M295.9 262.2h.9M118.3 274.5h.9M200.7 300.9h.9M44.1 402.1h.9M178.2 528.3h.9M131.6 354.5h.9M108.9 574.6h.9M63.1 249.2h.9M262.2 424.2h.9M39.2 295.5h.9M263.6 522.9h.9M19.1 495.5h.9M63.3 410.4h.9M179.1 263.9h.9M276.9 369.4h.9M42.6 534.5h.9M32.3 258.8h.9M193.0 419.4h.9M266.6 538.3h.9M61.1 261.8h.9M178.6 419.5h.9M89.1 585.2h.9M61.7 483.7h.9M21.8 587.6h.9M280.8 474.3h.9M94.8 513.6h.9M267.4 539.9h.9M12.1 432.0h.9M41.4 447.7h.9M281.2 565.9h.9M73.6 449.8h.9M94.0 307.5h.9M220.1 526.7h.9M99.7 400.9h.9M206.2 514.9h.9M137.2 288.9h.9M28.3 307.9h.9M244.6 429.1h.9M190.8 380.2h.9M109.2 310.3h.9M288.5 469.7h.9M38.1 505.7h.9M177.0 472.5h.9M227.9 470.7h.9M259.4 604.8h.9M120.4 485.5h.9M110.8 397.3h.9M108.4 485.1h.9M104.3 375.6h.9M250.6 541.7h.9M200.2 558.0h.9M114.3 483.4h.9M74.4 362.0h.9M29.8 541.2h.9M272.7 357.3h.9M112.0 288.4h.9M42.1 481.8h.9M264.0 276.1h.9M75.4 526.6h.9M66.9 570.6h.9M104.4 420.6h.9M59.7 352.9h.9M125.7 348.2h.9M215.8 256.2h.9M189.1 542.8h.9M96.5 316.1h.9M35.5 273.7h.9M234.5 468.7h.9M4.5 413.2h.9M177.2 363.5h.9M10.3 401.2h.9M104.7 605.7h.9M106.5 587.3h.9M256.9 458.1h.9M37.3 544.7h.9M26.7 451.7h.9M28.8 279.4h.9M121.5 303.0h.9M293.6 459.4h.9M265.6 599.9h.9M224.3 484.6h.9M140.0 533.5h.9M198.1 303.6h.9M156.9 398.4h.9M152.6 509.6h.9M204.0 456.4h.9M233.5 551.2h.9M27.3 298.8h.9M14.0 304.5h.9M283.9 359.8h.9M129.9 417.6h.9M167.1 348.7h.9M230.5 368.1h.9M250.3 543.1h.9M0.3 448.2h.9M27.6 572.9h.9M20.5 344.1h.9M227.6 464.2h.9M197.4 398.2h.9M154.1 320.4h.9M136.9 340.4h.9M200.0 284.6h.9M40.7 318.3h.9M157.7 460.8h.9M0.9 611.2h.9M247.3 385.9h.9M47.0 551.4h.9M289.2 311.1h.9M223.8 548.5h.9M277.4 322.4h.9M35.7 306.0h.9M68.5 578.9h.9M269.3 420.8h.9M37.7 375.8h.9M71.4 485.5h.9M213.1 532.9h.9M129.4 414.5h.9M138.5 382.3h.9M134.7 499.2h.9M210.5 366.1h.9M167.8 298.8h.9M13.4 388.6h.9M106.3 257.1h.9M23.5 403.0h.9M278.9 555.7h.9M8.9 362.5h.9M109.1 360.4h.9M40.6 464.0h.9M248.4 386.6h.9M52.2 284.1h.9M4.5 528.9h.9M68.3 513.6h.9M234.1 275.9h.9M55.9 362.0h.9M227.6 518.4h.9M89.6 412.7h.9M105.1 420.0h.9M234.9 342.1h.9M239.9 586.3h.9M177.9 600.9h.9M277.6 308.5h.9M293.5 319.4h.9M238.2 290.0h.9M89.6 409.0h.9M248.4 497.6h.9M60.3 578.1h.9M256.2 434.2h.9M15.0 351.0h.9M86.6 400.4h.9M279.0 465.8h.9M242.6 271.5h.9M72.7 516.3h.9M100.8 329.4h.9M18.7 263.9h.9M122.1 447.7h.9M118.4 454.6h.9M86.1 251.2h.9M199.6 369.5h.9M145.5 385.1h.9M79.9 264.2h.9M87.8 355.6h.9M34.0 256.0h.9M142.3 252.3h.9M260.2 378.7h.9M131.3 440.0h.9M7.1 282.6h.9M232.5 451.5h.9M146.0 372.5h.9M222.4 431.7h.9M234.5 555.0h.9M264.6 514.3h.9M199.5 416.2h.9M157.9 459.8h.9M155.5 548.9h.9M254.0 264.3h.9M222.6 473.6h.9M177.1 582.0h.9M14.7 421.2h.9M111.1 596.9h.9M48.7 453.9h.9M42.7 524.7h.9M144.8 517.8h.9M90.9 572.7h.9M2.1 328.3h.9M217.1 571.1h.9M230.1 347.1h.9M24.0 508.2h.9M216.5 267.5h.9M276.7 440.8h.9M9.9 422.9h.9M100.1 283.7h.9M262.1 591.7h.9M36.7 410.3h.9M80.9 494.4h.9M32.5 368.7h.9M121.5 420.4h.9M128.8 466.1h.9M278.3 590.6h.9M268.6 552.5h.9M67.6 335.7h.9M136.1 483.7h.9M179.5 374.7h.9M293.6 360.9h.9M5.7 278.7h.9M62.0 516.1h.9M248.9 260.5h.9M70.1 334.9h.9M232.8 578.0h.9M77.9 283.0h.9M286.2 605.4h.9M212.1 420.3h.9M221.1 529.7h.9M150.8 345.7h.9M155.4 490.7h.9M96.0 482.2h.9M43.4 605.2h.9M62.6 329.0h.9M284.2 597.5h.9M273.9 557.1h.9M251.2 549.6h.9M167.7 272.6h.9M216.6 555.1h.9M248.0 261.1h.9M18.1 516.1h.9M144.4 576.5h.9M293.3 410.8h.9M200.0 491.7h.9M205.3 381.4h.9M189.3 270.2h.9M266.4 513.4h.9M237.6 416.5h.9M60.7 412.4h.9M201.5 448.4h.9M32.2 246.4h.9M117.7 335.8h.9M67.1 327.2h.9M123.1 502.9h.9M270.3 496.0h.9M6.1 566.9h.9M180.2 516.5h.9M181.6 376.4h.9M100.4 271.5h.9M196.6 265.0h.9M201.6 583.0h.9M197.7 469.9h.9M239.2 601.0h.9M240.5 612.3h.9M136.0 250.4h.9M181.8 481.9h.9M255.5 472.1h.9M107.6 246.7h.9M245.9 476.8h.9M291.7 465.2h.9M252.4 531.5h.9M293.3 416.5h.9M265.6 392.2h.9M3.3 365.9h.9M104.0 613.2h.9M116.9 346.9h.9M204.5 281.1h.9M90.4 391.5h.9M36.8 466.9h.9M125.2 542.6h.9M100.5 607.6h.9M57.9 441.9h.9M67.0 250.3h.9M89.3 577.2h.9M86.3 426.2h.9M155.1 343.7h.9M158.3 269.3h.9M103.4 350.6h.9M241.4 530.7h.9M207.4 465.7h.9M256.5 519.9h.9M16.4 293.4h.9M221.4 556.6h.9M292.8 532.6h.9M46.7 455.4h.9M184.8 469.3h.9M39.8 604.3h.9M151.1 344.7h.9M290.4 387.8h.9M20.7 493.2h.9M76.9 325.9h.9M89.6 470.2h.9M94.7 491.6h.9M268.0 612.6h.9M263.1 586.9h.9M74.9 550.7h.9M26.6 460.8h.9M22.4 281.8h.9M280.8 292.1h.9M212.3 440.6h.9M0.4 539.3h.9M18.0 574.0h.9M242.3 429.1h.9M132.1 255.3h.9M207.2 259.5h.9M155.7 588.3h.9M200.7 288.2h.9M213.4 505.3h.9M97.5 531.2h.9M171.3 398.4h.9M155.6 347.3h.9M85.0 574.8h.9M103.5 531.1h.9M108.6 315.6h.9M0.4 602.4h.9M222.5 609.3h.9M174.4 268.1h.9M48.3 263.3h.9M181.2 475.8h.9M282.8 354.8h.9M69.1 327.1h.9M43.6 255.6h.9M146.1 400.8h.9M108.9 597.9h.9M92.9 551.9h.9M157.6 283.1h.9M8.8 471.1h.9M258.8 263.7h.9M207.8 331.2h.9M203.4 554.1h.9M215.2 335.7h.9M46.2 603.8h.9M271.0 587.6h.9M160.2 264.0h.9M109.2 582.6h.9M19.8 354.6h.9M12.5 571.6h.9M104.7 275.5h.9M105.4 320.6h.9M128.3 473.6h.9M194.8 280.8h.9M158.2 265.8h.9M130.7 544.8h.9M77.7 550.1h.9M72.2 390.9h.9M234.6 246.3h.9M164.0 444.1h.9M211.6 596.7h.9M205.6 327.9h.9M58.9 423.7h.9M83.3 450.3h.9M26.5 502.4h.9M123.3 263.5h.9M35.7 592.0h.9M251.3 571.9h.9M115.4 610.2h.9M50.3 514.4h.9M278.8 322.4h.9M1.3 291.9h.9M24.7 543.1h.9M179.4 421.7h.9M33.9 483.4h.9M40.5 294.6h.9M175.8 483.7h.9M237.1 551.7h.9M40.6 357.8h.9M42.6 427.2h.9M8.4 566.9h.9M201.8 544.9h.9M144.6 583.4h.9M247.1 552.6h.9M238.5 325.1h.9M102.2 265.9h.9M226.2 420.6h.9M292.0 352.4h.9M127.6 566.4h.9M286.8 525.8h.9M261.2 587.7h.9M80.4 473.8h.9M18.8 496.0h.9M281.9 432.7h.9M43.2 456.2h.9M19.4 416.2h.9M23.7 399.9h.9M242.1 519.3h.9M252.6 414.7h.9M130.6 265.4h.9M233.6 456.4h.9M120.7 298.9h.9M135.7 268.3h.9M35.5 274.4h.9M125.8 295.9h.9M244.9 471.3h.9M256.6 450.3h.9M47.3 347.5h.9M248.5 462.0h.9M191.3 479.7h.9M14.2 319.1h.9M127.7 558.2h.9M279.3 464.3h.9M76.8 262.3h.9M165.4 396.8h.9M275.5 321.6h.9M60.6 250.9h.9M8.5 544.6h.9M257.9 302.1h.9M4.5 458.8h.9M73.0 473.0h.9M269.9 522.2h.9M82.9 470.1h.9M85.7 526.8h.9M76.4 567.6h.9M200.8 575.9h.9M102.3 599.0h.9M172.3 340.4h.9M191.5 360.2h.9M33.5 259.7h.9M180.7 334.7h.9M29.6 533.1h.9M42.0 525.1h.9M80.8 379.8h.9M276.0 552.4h.9M247.0 608.7h.9M178.7 592.0h.9M184.3 461.0h.9M95.9 385.7h.9M168.7 336.7h.9M190.0 565.6h.9M213.2 328.5h.9M8.2 381.1h.9M128.5 559.1h.9M161.9 437.1h.9M179.3 450.2h.9M200.7 451.9h.9M163.6 332.5h.9M36.6 408.1h.9M262.4 596.2h.9M86.8 458.2h.9M153.4 413.5h.9M52.8 537.8h.9M25.3 329.6h.9M82.5 320.3h.9M57.2 274.6h.9M155.0 308.8h.9M190.2 467.7h.9M184.9 423.2h.9M181.3 354.7h.9M137.3 500.5h.9M63.7 517.1h.9M173.3 606.6h.9M182.4 448.6h.9M227.4 352.0h.9M110.3 405.4h.9M217.4 511.8h.9M54.8 598.9h.9M290.7 428.8h.9M294.7 475.5h.9M113.8 277.3h.9M5.1 464.4h.9M212.7 473.5h.9M231.7 406.8h.9M219.6 469.1h.9M187.7 448.4h.9M197.5 452.8h.9M26.8 495.4h.9M208.3 403.8h.9M287.1 423.5h.9M49.2 434.7h.9M106.0 306.4h.9M263.0 310.7h.9M210.8 308.1h.9M153.0 614.8h.9M26.3 563.7h.9M1.8 607.6h.9M268.9 411.4h.9" stroke="#f0f060" stroke-width="0.9" stroke-opacity="0.6" fill="none"/>
<path d="M210.4 108.6h.9M54.0 88.1h.9M145.6 189.3h.9M37.6 124.2h.9M155.6 126.9h.9M261.5 136.1h.9M106.7 206.1h.9M197.6 71.4h.9M180.7 188.9h.9M15.3 145.6h.9M160.9 74.7h.9M52.6 63.7h.9M144.4 101.1h.9M198.5 71.3h.9M204.6 111.3h.9M262.6 176.5h.9M78.3 210.4h.9M180.3 84.0h.9M84.0 158.4h.9M144.1 152.7h.9M84.5 187.5h.9M87.3 189.4h.9M144.7 97.0h.9M190.6 121.0h.9M180.8 128.4h.9M313.5 164.3h.9M30.5 212.6h.9M5.1 28.4h.9M270.1 72.3h.9M9.7 52.7h.9M163.4 184.2h.9M6.5 50.6h.9M4.2 28.5h.9M104.0 114.7h.9M319.7 145.7h.9M282.0 134.4h.9M300.4 150.6h.9M79.2 91.3h.9M158.3 39.6h.9M305.0 113.1h.9M66.1 114.8h.9M265.7 71.9h.9M193.9 36.0h.9M79.7 54.9h.9M166.8 153.5h.9M75.0 153.7h.9M193.4 165.9h.9M328.6 83.7h.9M328.8 107.7h.9M168.2 53.0h.9M28.0 145.1h.9M34.0 24.9h.9M27.8 124.9h.9M64.7 69.9h.9M253.1 105.9h.9M48.6 151.8h.9M328.3 140.5h.9M146.9 124.0h.9M231.9 183.1h.9M259.3 66.9h.9M257.4 38.4h.9M42.3 118.0h.9M60.9 128.6h.9M93.7 203.9h.9M143.0 178.7h.9M311.8 107.2h.9M253.6 115.0h.9M131.8 42.5h.9M217.3 199.6h.9M227.0 80.4h.9M173.3 88.2h.9M129.1 170.2h.9M2.2 112.9h.9M168.9 47.0h.9M241.6 68.0h.9M133.1 66.8h.9M197.1 102.9h.9M225.7 101.8h.9M258.6 126.6h.9M34.7 114.9h.9M83.5 76.7h.9M312.9 112.5h.9M243.8 48.7h.9M207.8 41.3h.9M73.1 43.1h.9M8.2 196.8h.9M318.3 90.5h.9M4.2 162.6h.9M218.7 27.0h.9M253.0 31.3h.9M76.9 171.4h.9M253.2 64.1h.9M167.7 175.7h.9M199.2 121.5h.9M61.0 31.4h.9M62.0 121.3h.9M196.7 108.7h.9M209.9 129.1h.9M213.0 99.0h.9M277.9 122.7h.9M290.5 212.2h.9M273.2 170.1h.9M227.7 126.8h.9M81.7 38.2h.9M218.1 66.9h.9M202.1 126.2h.9M200.4 102.6h.9M79.0 77.8h.9M229.9 192.5h.9M105.2 79.8h.9M147.8 102.6h.9M208.7 166.9h.9M253.3 177.4h.9M239.4 209.4h.9M148.1 106.0h.9M215.0 79.8h.9M273.7 100.3h.9M183.8 120.4h.9M120.2 20.1h.9M91.8 111.8h.9M313.9 45.0h.9M297.9 209.6h.9M261.1 73.1h.9M6.3 191.5h.9M22.6 76.8h.9M309.8 150.7h.9M271.8 182.2h.9M58.8 117.4h.9M31.2 92.6h.9M163.6 179.0h.9M95.4 149.3h.9M46.5 68.5h.9M19.3 132.4h.9M193.5 158.5h.9M138.5 202.6h.9M238.4 130.0h.9M288.2 53.4h.9M96.4 126.6h.9M197.8 206.2h.9M224.1 27.2h.9M311.6 110.1h.9M67.8 168.2h.9M207.3 186.4h.9M181.9 68.3h.9M155.3 109.8h.9M116.1 132.4h.9M49.2 67.9h.9M39.1 23.3h.9M173.3 163.3h.9M132.9 195.7h.9M200.8 147.7h.9M94.4 195.1h.9M114.8 184.5h.9M80.5 205.5h.9M225.4 53.1h.9M241.4 48.6h.9M127.2 92.6h.9M110.5 89.3h.9M53.0 96.8h.9M30.8 174.8h.9M116.8 158.3h.9M141.2 210.0h.9M290.2 157.0h.9M277.5 198.0h.9M307.0 99.4h.9M195.7 31.6h.9M120.2 82.6h.9M205.3 19.5h.9M248.9 32.7h.9M139.5 113.5h.9M277.8 142.6h.9M48.7 149.3h.9M77.6 139.6h.9M136.4 206.3h.9M148.2 71.5h.9M102.3 206.6h.9M115.0 65.8h.9M176.6 150.0h.9M310.4 33.7h.9M108.7 160.4h.9M163.5 154.2h.9M222.6 36.2h.9M16.6 52.9h.9M100.3 53.9h.9M94.7 40.5h.9M8.6 121.3h.9M250.1 49.4h.9M31.1 161.5h.9M26.2 45.6h.9M161.9 76.5h.9M259.0 117.7h.9M172.7 91.7h.9M9.1 179.7h.9M128.5 180.9h.9M35.0 103.1h.9M178.1 48.5h.9M24.5 202.3h.9M309.7 215.0h.9M179.6 162.4h.9M198.4 112.1h.9M56.7 144.5h.9M146.2 151.7h.9M13.9 75.9h.9M37.2 168.3h.9M158.1 74.4h.9M257.9 120.6h.9M95.8 95.3h.9M0.6 29.9h.9M12.1 207.5h.9M289.9 125.2h.9M310.5 124.3h.9M224.9 38.6h.9M144.0 138.4h.9M135.0 146.6h.9M113.3 147.0h.9M68.7 114.4h.9M141.2 121.6h.9M18.2 65.8h.9M236.1 50.7h.9M157.2 213.9h.9M201.2 162.6h.9M254.4 208.8h.9M127.9 95.9h.9M249.1 23.0h.9M154.7 71.5h.9M183.7 162.3h.9M284.2 117.9h.9M228.3 33.6h.9M217.7 201.1h.9M203.1 114.6h.9M168.6 99.1h.9M59.1 56.9h.9M262.2 119.6h.9M12.7 139.2h.9M274.1 146.3h.9M59.5 205.5h.9M60.0 118.1h.9M151.8 50.7h.9M88.1 54.7h.9M55.3 26.1h.9M213.0 149.3h.9M83.0 205.5h.9M139.7 107.9h.9M306.0 145.9h.9M153.7 165.2h.9M244.3 78.7h.9M23.0 162.2h.9M246.8 136.3h.9M38.6 164.6h.9M57.9 175.2h.9M205.2 143.4h.9M24.8 89.9h.9M241.9 39.9h.9M12.7 99.4h.9M281.4 142.1h.9M75.9 34.1h.9M276.2 184.0h.9M231.4 58.8h.9M247.8 19.9h.9M56.9 81.1h.9M315.8 25.0h.9M53.1 162.6h.9M251.6 70.8h.9M25.2 186.2h.9M320.2 197.0h.9M186.8 34.7h.9M244.2 145.9h.9M274.4 167.6h.9M165.9 210.4h.9M152.4 105.9h.9M210.3 173.3h.9M193.9 203.4h.9M89.6 194.6h.9M289.8 86.2h.9M9.4 136.5h.9M204.5 207.1h.9M184.2 160.6h.9M250.6 51.2h.9M220.0 104.4h.9M71.3 72.1h.9M119.7 162.7h.9M182.2 81.2h.9M18.2 173.1h.9M248.8 182.8h.9M259.5 30.5h.9M92.8 109.1h.9M98.0 180.3h.9M67.5 20.9h.9M148.9 27.9h.9M9.4 137.4h.9M199.5 124.8h.9M23.2 128.5h.9M172.6 78.0h.9M73.6 48.7h.9M159.5 90.3h.9M193.2 150.8h.9M91.1 137.6h.9M85.3 164.9h.9M67.3 135.1h.9M243.0 175.5h.9M175.2 197.7h.9M325.4 174.1h.9M118.4 70.5h.9M206.7 43.3h.9M58.4 36.6h.9M214.8 94.3h.9M304.1 176.9h.9M175.4 85.1h.9M105.8 28.3h.9M36.6 189.8h.9M98.4 19.6h.9M323.4 92.9h.9M255.6 107.3h.9M319.6 33.8h.9M156.2 145.5h.9M8.1 198.7h.9M111.7 151.5h.9M26.1 33.5h.9M28.5 173.4h.9M310.9 198.4h.9M175.1 36.0h.9M256.5 117.9h.9M258.2 142.9h.9M186.9 51.7h.9M47.2 34.1h.9M142.6 74.9h.9M314.9 27.6h.9M250.5 41.6h.9M34.1 199.8h.9M72.5 135.2h.9M193.0 96.6h.9M115.5 45.7h.9M229.6 91.3h.9M198.3 179.3h.9M25.0 101.4h.9M116.5 201.6h.9M204.9 56.8h.9M151.3 20.9h.9M169.7 31.7h.9M45.5 118.1h.9M177.5 59.9h.9M192.5 79.4h.9M231.9 28.3h.9M277.7 106.4h.9M57.0 75.3h.9M207.2 36.7h.9M301.1 61.6h.9M135.5 32.3h.9M150.6 207.4h.9M61.6 53.1h.9M180.5 144.1h.9M47.2 61.2h.9M199.4 65.2h.9M9.1 154.8h.9M286.6 176.8h.9M282.2 59.9h.9M102.3 136.2h.9M203.2 141.3h.9M182.5 64.0h.9M78.7 34.7h.9M19.0 132.5h.9M28.5 190.7h.9M316.5 46.8h.9M318.8 140.9h.9M1.9 93.5h.9M119.1 78.9h.9M22.2 66.0h.9M5.7 106.3h.9M159.0 63.6h.9M305.0 192.5h.9M164.9 175.9h.9M116.6 166.3h.9M256.7 87.3h.9M244.3 87.2h.9M57.1 100.6h.9M37.5 159.5h.9M83.1 116.0h.9M266.9 135.9h.9M299.9 161.0h.9M228.6 163.9h.9M227.9 199.0h.9M196.2 148.2h.9M181.5 123.2h.9M310.6 77.1h.9M62.7 116.7h.9M102.8 158.7h.9M209.9 18.4h.9M68.9 140.0h.9M130.8 152.0h.9M154.9 39.9h.9M227.6 209.8h.9M30.3 139.4h.9M202.4 138.7h.9M166.8 117.8h.9M326.5 189.8h.9M143.4 178.2h.9M220.3 176.6h.9M329.3 32.1h.9M70.0 63.7h.9M270.1 200.0h.9M74.7 113.6h.9M293.6 160.3h.9M193.7 194.0h.9M304.8 35.9h.9M318.7 75.4h.9M202.8 166.4h.9M97.0 78.4h.9M298.8 173.9h.9M322.3 36.5h.9M206.7 163.7h.9M315.6 160.9h.9M92.4 37.9h.9M57.1 69.0h.9M188.3 81.6h.9M49.0 35.1h.9M226.2 178.5h.9M40.7 119.2h.9M323.5 89.1h.9M176.4 177.7h.9M7.8 190.0h.9M255.5 163.0h.9M113.2 114.9h.9M310.4 30.1h.9M27.1 144.1h.9M314.3 47.4h.9M62.2 108.6h.9M260.4 129.1h.9M217.7 28.2h.9M65.8 133.4h.9M239.1 36.0h.9M29.9 79.9h.9M136.8 83.7h.9M56.2 32.6h.9M213.0 205.9h.9M209.3 199.1h.9M41.9 139.3h.9M120.4 184.9h.9M197.5 138.9h.9M301.8 206.3h.9M45.3 104.2h.9M28.2 128.4h.9M74.0 155.6h.9M117.3 19.5h.9M293.1 42.9h.9M88.6 120.5h.9M18.8 170.1h.9M236.4 41.1h.9M204.9 43.3h.9M175.0 36.4h.9M93.0 106.7h.9M179.7 146.8h.9M305.9 84.0h.9M115.5 59.2h.9M243.4 90.4h.9M69.9 55.9h.9M138.8 182.8h.9M144.5 178.3h.9M155.6 132.6h.9M84.3 98.6h.9M239.1 34.6h.9M149.8 67.8h.9M96.0 84.6h.9M65.4 131.5h.9M13.4 64.9h.9M87.0 53.7h.9M275.4 153.2h.9M293.0 44.2h.9M62.0 79.7h.9M167.8 182.3h.9M275.4 187.4h.9M5.7 23.4h.9M111.1 102.4h.9M2.1 87.0h.9M42.2 190.1h.9M69.4 80.8h.9M57.7 185.1h.9M37.1 104.6h.9M72.8 66.5h.9M328.2 158.7h.9M243.0 88.0h.9M322.6 208.2h.9M209.7 62.7h.9M16.1 125.3h.9M160.5 188.0h.9M329.5 178.9h.9M79.9 212.0h.9M202.2 25.5h.9M68.6 206.9h.9M262.6 163.9h.9M218.5 22.6h.9M309.1 76.7h.9M254.6 124.3h.9M161.1 121.7h.9M303.1 182.5h.9M130.2 185.9h.9M57.8 86.8h.9M105.9 27.3h.9M132.3 18.4h.9M319.7 179.1h.9M158.2 30.1h.9M86.8 170.2h.9M96.9 36.6h.9M141.0 131.9h.9M41.7 92.3h.9M183.7 164.7h.9M134.4 213.3h.9M84.4 165.8h.9M26.2 198.3h.9M179.8 52.1h.9M268.9 192.0h.9M42.9 191.8h.9M316.4 88.1h.9M260.9 159.9h.9M187.1 94.3h.9M103.3 178.7h.9M258.3 204.2h.9M22.5 130.3h.9M232.9 60.9h.9M6.9 194.0h.9M257.7 158.5h.9M109.8 104.3h.9M268.1 36.4h.9M238.5 157.3h.9M152.8 205.7h.9M208.4 192.1h.9M64.1 98.4h.9M96.4 116.2h.9M248.9 213.3h.9M300.4 186.0h.9M321.9 162.5h.9M243.3 35.9h.9M134.5 114.4h.9M34.7 195.6h.9M123.0 66.0h.9M27.0 123.8h.9M111.1 204.8h.9M209.3 102.7h.9M52.0 27.6h.9M227.1 138.6h.9M163.3 117.7h.9M135.5 196.6h.9M18.3 63.6h.9M262.0 80.1h.9M109.5 103.1h.9M97.7 167.6h.9M31.6 127.5h.9M235.8 85.7h.9M240.7 87.9h.9M205.5 38.2h.9M104.8 128.5h.9M201.8 109.4h.9M12.3 124.2h.9M285.6 71.5h.9M68.7 140.3h.9M76.6 38.1h.9M24.5 141.1h.9M291.0 170.0h.9M194.6 190.3h.9M280.0 70.9h.9M125.7 209.9h.9M311.0 144.2h.9M207.9 85.5h.9M29.9 82.9h.9M76.2 142.5h.9M216.3 142.1h.9M300.7 18.1h.9M67.9 37.7h.9M122.0 198.0h.9M154.4 175.5h.9M60.4 87.8h.9M263.6 75.7h.9M241.0 136.1h.9M216.3 23.7h.9M118.9 212.0h.9M123.9 72.9h.9M329.8 134.2h.9M229.8 113.3h.9M205.7 94.8h.9M90.7 75.4h.9M75.0 154.8h.9M28.9 41.1h.9M167.3 213.0h.9M257.8 149.8h.9M244.7 58.7h.9M168.4 21.5h.9M171.6 24.4h.9M38.1 41.8h.9M114.0 111.6h.9M72.0 33.3h.9M40.1 205.1h.9M325.0 198.0h.9M45.1 57.7h.9M290.0 21.1h.9M49.1 145.9h.9M318.2 200.3h.9M278.7 80.6h.9M242.1 202.5h.9M296.9 209.2h.9M251.5 173.0h.9M231.7 101.3h.9M189.1 201.2h.9M188.7 23.0h.9M147.6 189.6h.9M234.0 113.1h.9M308.3 167.0h.9M74.0 156.2h.9M287.1 19.3h.9M309.2 103.1h.9M279.8 20.4h.9M105.6 77.8h.9M71.8 147.6h.9M262.6 146.0h.9M300.3 40.4h.9M94.6 97.0h.9M261.6 163.4h.9M327.0 189.9h.9M175.0 163.7h.9M270.0 120.5h.9M224.2 186.1h.9M274.5 49.0h.9M9.9 157.3h.9M269.2 55.3h.9M280.8 167.1h.9M54.2 48.5h.9M217.1 140.7h.9M52.8 196.9h.9M71.1 182.2h.9M312.1 41.8h.9M231.3 126.3h.9M302.0 105.4h.9M136.0 63.9h.9M279.4 81.1h.9M300.7 24.8h.9M293.3 21.8h.9M238.8 205.1h.9M106.1 134.4h.9M136.6 30.8h.9M276.9 115.3h.9M264.6 25.0h.9M53.8 63.3h.9M269.4 22.6h.9M7.4 92.4h.9M127.6 184.8h.9M283.4 65.2h.9M244.9 88.4h.9M252.9 147.9h.9M23.2 110.5h.9M139.7 108.5h.9M183.3 154.1h.9M132.7 120.4h.9M273.0 152.1h.9M63.8 45.2h.9M89.6 205.4h.9M127.8 191.2h.9M318.4 155.7h.9M121.7 164.8h.9M165.6 205.6h.9M165.5 143.4h.9M225.9 142.1h.9M58.8 130.0h.9M141.3 152.0h.9M255.5 58.6h.9M122.0 68.5h.9M317.3 114.6h.9M148.5 208.1h.9M258.3 187.2h.9M166.0 43.0h.9M122.8 34.5h.9M132.0 106.8h.9M158.2 210.7h.9M175.8 50.7h.9M59.0 151.9h.9M170.2 98.7h.9M162.9 98.7h.9M223.7 134.8h.9M16.0 115.6h.9M82.5 132.8h.9M152.8 167.9h.9M318.3 164.2h.9M203.9 118.0h.9M37.3 161.9h.9M65.0 92.8h.9M192.7 70.2h.9M284.9 125.6h.9M321.0 22.4h.9M153.2 81.6h.9M189.7 145.7h.9M195.0 203.1h.9M145.5 91.0h.9M247.4 127.2h.9M88.7 199.5h.9M74.5 32.8h.9M177.5 197.4h.9M282.1 178.8h.9M201.5 118.7h.9M95.9 50.5h.9M146.2 182.1h.9M182.8 211.3h.9M264.0 125.1h.9M195.1 100.3h.9" stroke="#f4f070" stroke-width="0.9" stroke-opacity="0.55" fill="none"/>
<path d="M652.5 169.6h.9M397.5 182.1h.9M572.0 83.5h.9M595.7 94.7h.9M577.8 109.8h.9M555.8 185.6h.9M646.7 105.4h.9M470.5 148.1h.9M568.5 35.3h.9M513.3 68.8h.9M561.8 48.4h.9M439.3 63.9h.9M433.2 120.9h.9M637.1 134.7h.9M561.3 156.6h.9M471.8 95.9h.9M563.0 55.6h.9M598.6 185.6h.9M643.3 29.9h.9M655.5 58.8h.9M380.6 130.3h.9M456.3 50.6h.9M547.8 115.6h.9M522.8 111.1h.9M550.8 159.5h.9M587.3 146.5h.9M624.6 103.6h.9M558.9 38.5h.9M363.6 100.4h.9M573.3 60.7h.9M670.8 70.7h.9M506.9 103.3h.9M674.8 46.0h.9M423.0 133.4h.9M461.8 80.5h.9M381.1 184.9h.9M489.8 123.3h.9M420.8 188.3h.9M372.0 144.9h.9M358.0 114.7h.9M448.8 191.1h.9M488.6 170.7h.9M345.3 60.9h.9M680.3 85.3h.9M348.4 65.2h.9M462.0 114.0h.9M468.6 73.5h.9M501.1 103.4h.9M399.1 112.3h.9M536.9 122.4h.9M594.0 100.5h.9M409.5 189.6h.9M376.2 73.3h.9M480.9 93.1h.9M408.8 174.7h.9M440.9 117.6h.9M548.2 41.8h.9M485.9 42.2h.9M524.8 150.9h.9M634.0 189.0h.9M374.7 101.5h.9M568.2 86.1h.9M665.5 108.0h.9M639.3 30.2h.9M471.0 144.8h.9M628.2 108.1h.9M635.5 156.3h.9M479.6 147.0h.9M515.7 38.5h.9M649.8 171.7h.9M647.2 60.8h.9M606.9 25.0h.9M509.9 73.1h.9M511.9 87.7h.9M527.5 97.0h.9M600.6 137.7h.9M432.2 54.1h.9M418.2 77.4h.9M483.7 109.8h.9M602.7 196.8h.9M426.4 71.7h.9M516.4 19.3h.9M557.2 24.8h.9M542.9 124.8h.9M469.0 198.3h.9M444.3 21.1h.9M372.4 61.7h.9M593.2 152.6h.9M458.8 178.7h.9M392.1 59.6h.9M534.9 115.0h.9M611.7 74.2h.9M650.6 133.0h.9M576.3 122.5h.9M409.1 120.5h.9M665.0 20.7h.9M450.6 74.1h.9M424.2 158.4h.9M561.9 42.5h.9M581.6 177.9h.9M357.9 21.4h.9M545.6 178.3h.9M527.6 110.1h.9M477.3 121.1h.9M654.3 126.8h.9M596.1 102.8h.9M644.2 158.0h.9M513.1 72.9h.9M440.2 196.2h.9M558.9 30.9h.9M517.2 95.8h.9M544.6 69.6h.9M651.6 105.8h.9M624.9 65.3h.9M645.7 117.4h.9M525.9 97.1h.9M664.8 120.4h.9M522.1 84.1h.9M495.1 67.2h.9M490.7 66.0h.9M361.9 84.5h.9M344.5 138.9h.9M368.2 182.7h.9M446.0 67.4h.9M527.4 71.1h.9M588.3 73.3h.9M657.4 25.6h.9M354.8 178.6h.9M575.9 65.9h.9M560.0 83.6h.9M512.9 68.0h.9M524.0 136.1h.9M631.2 64.6h.9M534.5 121.2h.9M640.9 105.4h.9M637.6 186.3h.9M477.9 91.9h.9M674.1 123.5h.9M520.8 159.5h.9M546.6 112.3h.9M565.3 65.6h.9M467.3 19.6h.9M587.2 167.9h.9M592.6 194.8h.9M599.5 37.5h.9M447.5 185.8h.9M372.6 177.8h.9M613.9 44.8h.9M408.3 151.2h.9M563.6 23.4h.9M520.4 52.3h.9M635.5 115.5h.9M339.6 90.0h.9M338.6 182.9h.9M645.5 148.7h.9M335.8 188.7h.9M427.4 136.4h.9M602.2 119.7h.9M375.6 62.7h.9M590.8 40.5h.9M466.7 187.6h.9M478.1 45.7h.9M562.6 81.6h.9M611.4 84.5h.9M625.1 168.2h.9M397.3 117.5h.9M491.0 40.4h.9M654.4 80.2h.9M549.1 29.0h.9M667.7 196.4h.9M574.4 41.8h.9M567.0 103.3h.9M500.7 57.7h.9M388.1 171.8h.9M546.4 153.9h.9M593.7 91.1h.9M527.4 73.1h.9M564.2 96.4h.9M609.4 71.1h.9M468.5 32.9h.9M348.7 57.1h.9M340.9 95.2h.9M467.8 178.5h.9M349.9 197.3h.9M368.2 169.1h.9M460.3 62.7h.9M548.7 82.8h.9M340.7 41.8h.9M572.7 149.0h.9M682.7 64.1h.9M604.2 80.4h.9M515.5 68.7h.9M479.1 184.4h.9M423.1 95.2h.9M653.0 100.2h.9M619.5 115.2h.9M457.4 149.1h.9M563.5 87.3h.9M684.3 34.7h.9M632.4 149.2h.9M583.5 104.2h.9M597.1 26.0h.9M569.6 175.6h.9M477.8 152.8h.9M578.5 109.3h.9M604.6 106.1h.9M377.1 113.2h.9M598.6 47.9h.9M496.6 169.9h.9M339.6 175.1h.9M457.9 84.1h.9M579.6 122.4h.9M435.7 46.3h.9M482.2 179.9h.9M683.2 148.6h.9M578.6 143.1h.9M654.9 47.3h.9M385.7 171.5h.9M341.9 113.2h.9M476.0 185.1h.9M553.7 59.0h.9M357.6 104.0h.9M528.2 103.0h.9M538.4 29.2h.9M460.8 169.0h.9M436.1 52.3h.9M397.5 188.8h.9M639.2 91.7h.9M450.3 85.0h.9M643.9 183.4h.9M668.3 173.9h.9M573.0 39.3h.9M664.8 48.5h.9M593.7 83.0h.9M347.8 137.8h.9M424.2 179.6h.9M398.3 139.5h.9M487.8 26.6h.9M433.6 74.3h.9M606.2 158.4h.9M662.4 48.2h.9M408.9 86.0h.9M447.1 55.5h.9M598.4 19.0h.9M523.0 42.2h.9M444.7 71.1h.9M496.9 188.9h.9M592.7 96.2h.9M681.4 64.1h.9M400.9 133.8h.9M604.5 149.8h.9M512.5 149.5h.9M451.5 190.6h.9M594.2 163.8h.9M524.0 185.1h.9M499.3 191.1h.9M490.2 191.1h.9M446.2 111.9h.9M531.1 118.1h.9M630.2 172.3h.9M398.6 146.5h.9M519.0 91.6h.9M375.5 183.5h.9M681.1 149.8h.9M534.9 33.1h.9M447.4 77.9h.9M365.3 86.3h.9M463.3 93.2h.9M359.1 42.0h.9M668.0 118.9h.9M416.5 99.8h.9M462.1 106.3h.9M397.0 153.5h.9M661.5 132.3h.9M670.8 166.3h.9M523.0 113.0h.9M576.8 84.9h.9M361.7 100.3h.9M620.9 140.8h.9M349.0 168.4h.9M351.4 112.4h.9M397.1 72.6h.9M415.9 130.0h.9M583.8 178.9h.9M512.0 28.9h.9M348.3 33.5h.9M379.8 50.0h.9M438.7 45.3h.9M632.7 83.4h.9M502.8 160.8h.9M398.2 109.2h.9M349.4 106.2h.9M659.9 121.2h.9M440.8 133.3h.9M510.7 108.6h.9M557.7 147.4h.9M646.7 195.8h.9M671.5 165.5h.9M573.9 163.6h.9M402.9 54.0h.9M630.0 97.3h.9M342.2 153.6h.9M381.9 67.6h.9M657.4 52.5h.9M624.3 66.5h.9M612.8 87.4h.9M531.8 142.4h.9M586.2 55.7h.9M569.9 48.2h.9M420.7 159.6h.9M388.5 93.3h.9M374.9 124.0h.9M396.4 83.7h.9M677.6 99.1h.9M510.3 23.9h.9M426.9 37.3h.9M551.9 46.1h.9M396.9 44.1h.9M594.2 136.7h.9M437.2 75.3h.9M431.7 117.7h.9M534.4 42.1h.9M388.7 132.0h.9M433.0 139.2h.9M396.5 35.9h.9M359.5 174.0h.9M522.8 21.5h.9M459.6 132.9h.9M411.6 169.4h.9M336.7 113.7h.9M536.1 52.3h.9M680.5 117.4h.9M380.8 155.4h.9M344.9 142.1h.9M627.2 134.2h.9M343.1 29.6h.9M625.6 172.1h.9M429.4 186.9h.9M619.7 37.5h.9M644.8 20.5h.9M448.6 56.0h.9M408.6 109.0h.9M351.1 193.7h.9M408.6 142.2h.9M458.1 185.0h.9M531.2 108.3h.9M601.2 120.3h.9M492.8 49.5h.9M614.9 132.4h.9M497.3 197.9h.9M497.5 152.9h.9M392.3 83.4h.9M555.8 65.1h.9M683.7 198.3h.9M560.8 148.9h.9M429.9 158.5h.9M636.2 101.5h.9M532.9 137.1h.9M422.2 26.4h.9M398.8 113.6h.9M557.9 173.8h.9M428.7 48.5h.9M481.8 47.8h.9M425.6 107.0h.9M574.7 37.2h.9M395.8 103.7h.9M517.4 50.0h.9M566.1 120.8h.9M672.1 191.6h.9M554.7 34.1h.9M517.7 67.4h.9M432.6 31.8h.9M576.9 137.5h.9M431.2 60.0h.9M682.4 118.6h.9M579.0 62.8h.9M664.8 148.8h.9M513.1 38.4h.9M487.8 22.5h.9M408.5 160.3h.9M373.9 55.4h.9M454.5 194.1h.9M392.6 93.8h.9M521.4 26.3h.9M532.1 30.7h.9M446.9 76.7h.9M684.0 97.7h.9M439.7 77.9h.9M440.0 47.5h.9M445.6 143.9h.9M458.4 59.8h.9M348.4 161.3h.9M439.4 67.3h.9M631.8 194.4h.9M527.7 30.6h.9M627.6 156.8h.9M341.1 70.4h.9M627.3 104.6h.9M396.8 197.3h.9M409.3 50.8h.9M578.0 197.6h.9M582.5 21.6h.9M342.1 57.0h.9M567.7 192.6h.9M375.4 139.6h.9M571.3 23.4h.9M651.0 75.1h.9M466.0 162.2h.9M525.1 132.0h.9M355.2 131.3h.9M387.2 167.9h.9M606.0 136.1h.9M560.7 195.7h.9M625.2 148.3h.9M461.0 20.3h.9M685.0 29.7h.9M350.1 126.3h.9M682.3 99.0h.9M408.2 21.5h.9M391.5 84.0h.9M457.1 67.0h.9M642.6 199.9h.9M677.4 53.7h.9M579.0 47.8h.9M496.8 109.1h.9M445.3 160.7h.9M411.9 164.1h.9M603.1 132.5h.9M361.7 40.1h.9M617.2 192.5h.9M418.8 139.3h.9M600.3 176.2h.9M382.6 55.3h.9M357.0 144.2h.9M460.3 145.0h.9M392.7 134.2h.9M430.4 97.8h.9M541.6 191.0h.9M402.0 160.5h.9M352.6 50.2h.9M578.9 33.1h.9M629.4 179.7h.9M411.8 146.6h.9M562.1 195.9h.9M508.4 85.0h.9M642.4 66.6h.9M654.7 84.0h.9M477.5 170.1h.9M599.8 51.5h.9M565.6 197.9h.9M475.1 119.5h.9M564.6 149.0h.9M471.7 87.3h.9M397.0 131.9h.9M450.5 161.2h.9M350.4 156.2h.9M391.1 176.1h.9M623.0 82.8h.9M369.7 56.3h.9M407.7 196.1h.9M617.3 22.3h.9M338.0 119.7h.9M494.1 118.5h.9M629.4 170.4h.9M382.2 194.3h.9M495.7 103.6h.9M387.9 61.5h.9M400.2 69.1h.9M525.5 64.9h.9M429.2 38.1h.9M359.2 183.8h.9M488.5 100.3h.9M380.8 197.0h.9M339.4 160.8h.9M350.2 70.5h.9M505.1 100.9h.9M581.5 121.8h.9M580.6 30.2h.9M437.6 67.9h.9M503.5 94.2h.9M372.8 41.4h.9M356.3 28.0h.9M561.5 193.4h.9M542.7 54.0h.9M548.8 108.1h.9M434.1 164.3h.9M427.0 73.7h.9M350.9 62.1h.9M657.9 105.2h.9M590.2 107.2h.9M427.9 82.5h.9M513.2 74.1h.9M515.3 22.6h.9M470.6 39.0h.9M502.5 114.5h.9M653.9 176.8h.9M647.7 99.0h.9M438.2 172.2h.9M376.7 87.1h.9M356.6 165.9h.9M595.8 186.6h.9M400.0 170.3h.9M579.1 117.1h.9M490.2 164.6h.9M500.5 190.2h.9M658.9 84.9h.9M523.5 96.2h.9M650.5 173.4h.9M475.2 84.9h.9M446.0 138.9h.9M567.8 131.0h.9M517.4 140.2h.9M337.1 105.1h.9M577.7 150.8h.9M620.2 59.1h.9M659.3 194.4h.9M552.2 167.4h.9M403.9 52.2h.9M411.1 115.1h.9M647.7 81.7h.9M661.7 169.2h.9M350.5 23.4h.9M684.3 109.0h.9M607.6 174.8h.9M441.3 20.8h.9M638.3 187.5h.9M474.8 138.3h.9M339.1 189.0h.9M549.0 196.0h.9M576.0 83.4h.9M397.8 111.6h.9M637.6 115.2h.9M523.7 58.0h.9M386.5 61.3h.9M441.5 103.9h.9M664.7 67.4h.9M414.9 152.8h.9M663.3 60.9h.9M439.5 93.5h.9M356.3 34.9h.9M528.0 62.8h.9M416.7 164.6h.9M503.6 120.7h.9M564.6 153.1h.9M657.4 194.6h.9M374.2 152.8h.9M343.7 39.7h.9M424.6 41.6h.9M388.3 60.5h.9M619.3 161.2h.9M510.5 118.1h.9M596.7 125.5h.9M362.0 101.7h.9M406.0 103.7h.9M677.2 53.8h.9M447.9 123.9h.9M565.7 73.6h.9M473.2 108.7h.9M660.4 27.0h.9M646.6 119.4h.9M655.7 89.0h.9M562.6 22.2h.9M412.9 136.1h.9M450.3 112.2h.9M679.0 120.0h.9M569.2 120.7h.9M423.3 197.4h.9M468.1 22.3h.9M483.8 93.5h.9M407.1 95.8h.9M360.4 189.3h.9M517.3 70.2h.9M526.8 125.6h.9M471.2 165.3h.9M494.4 185.9h.9M603.2 144.1h.9M391.9 146.1h.9M677.8 166.0h.9M350.3 69.6h.9M335.7 139.0h.9M645.3 142.9h.9M567.3 116.7h.9M590.5 117.5h.9M614.7 46.4h.9M499.7 132.5h.9M359.0 120.3h.9M655.4 33.9h.9M591.9 148.8h.9M646.4 193.9h.9M558.1 126.8h.9M501.1 98.1h.9M545.6 79.5h.9M614.5 117.5h.9M487.2 111.8h.9M583.2 170.2h.9M620.3 147.0h.9M420.5 18.1h.9M377.2 33.3h.9M512.5 32.0h.9M500.7 155.6h.9M489.2 176.9h.9M460.9 106.2h.9M427.7 41.8h.9M537.2 40.6h.9M386.7 70.8h.9M589.8 196.1h.9M411.0 61.8h.9M674.4 123.7h.9M613.8 199.8h.9M565.9 63.0h.9M678.6 180.4h.9M336.0 194.2h.9M562.0 60.2h.9M501.0 72.9h.9M606.2 90.8h.9M365.0 179.9h.9M450.9 49.7h.9M579.9 41.7h.9M546.8 98.9h.9M377.5 191.8h.9M577.7 28.2h.9M649.9 135.4h.9M623.0 158.5h.9M394.6 75.2h.9M395.3 165.6h.9M666.6 122.4h.9M568.1 195.7h.9M517.3 98.2h.9M433.3 197.5h.9M377.8 52.6h.9M632.9 22.9h.9M404.4 114.3h.9M417.8 88.0h.9M343.9 139.7h.9M361.1 70.7h.9M370.6 144.6h.9M411.1 118.9h.9M346.6 121.0h.9M454.8 183.3h.9M402.8 71.9h.9M639.0 29.1h.9M506.7 106.3h.9M436.8 48.6h.9M509.6 23.3h.9M338.3 70.1h.9M467.2 65.0h.9M583.7 93.6h.9M548.1 125.4h.9M583.8 187.6h.9M531.4 144.4h.9M529.8 31.9h.9M627.0 114.2h.9M348.8 153.2h.9M510.5 190.4h.9M481.0 103.7h.9M648.5 186.9h.9M604.6 98.9h.9M485.9 151.9h.9M649.0 101.3h.9M580.8 120.2h.9M528.0 56.9h.9M433.7 64.4h.9M679.4 22.7h.9M411.7 55.0h.9M620.5 140.2h.9M442.9 37.4h.9M570.6 153.9h.9M559.5 148.1h.9M544.4 23.4h.9M613.3 176.5h.9M393.6 87.7h.9M679.3 195.7h.9M620.9 171.4h.9M390.0 177.3h.9M622.9 54.4h.9M654.2 166.1h.9M655.6 181.4h.9M367.5 48.9h.9M617.0 49.5h.9M456.9 161.6h.9M625.6 90.7h.9M479.4 144.7h.9M683.5 132.3h.9M456.4 61.7h.9M400.5 129.3h.9M587.0 58.5h.9M595.4 128.0h.9M535.4 113.8h.9M479.0 20.7h.9M523.2 138.5h.9M645.6 195.1h.9M561.7 47.2h.9M635.6 93.4h.9M672.2 189.9h.9M366.6 27.5h.9M352.2 140.9h.9M507.2 131.5h.9M448.7 125.9h.9M368.3 55.6h.9M591.8 59.6h.9" stroke="#f4f070" stroke-width="0.9" stroke-opacity="0.55" fill="none"/>
<path d="M343.8 389.3h.9M678.5 455.2h.9M639.5 404.1h.9M303.0 275.9h.9M524.2 362.4h.9M622.3 247.0h.9M540.8 256.5h.9M590.7 260.6h.9M487.4 417.6h.9M679.3 423.3h.9M601.1 308.6h.9M545.9 364.5h.9M490.4 377.0h.9M471.3 327.1h.9M593.8 388.8h.9M675.4 453.2h.9M608.3 265.3h.9M493.9 354.3h.9M604.2 449.3h.9M375.8 242.4h.9M634.9 464.5h.9M430.2 378.2h.9M448.3 328.3h.9M545.3 399.1h.9M646.9 323.9h.9M490.3 343.7h.9M679.6 358.9h.9M653.4 462.8h.9M311.1 417.5h.9M343.1 354.4h.9M542.5 258.1h.9M522.7 399.1h.9M434.0 364.0h.9M452.6 275.0h.9M398.2 456.5h.9M545.2 364.4h.9M610.1 432.4h.9M591.1 332.2h.9M508.0 314.1h.9M324.8 452.7h.9M330.9 325.6h.9M628.0 311.4h.9M650.9 244.9h.9M357.7 342.9h.9M544.7 422.4h.9M645.1 428.5h.9M371.4 468.1h.9M317.8 347.3h.9M434.3 245.5h.9M378.2 468.6h.9M673.5 319.2h.9M685.0 409.8h.9M312.7 378.6h.9M378.9 303.9h.9M576.2 287.7h.9M435.6 241.3h.9M423.7 309.8h.9M343.7 262.4h.9M456.5 258.8h.9M660.4 299.3h.9M441.4 254.7h.9M612.7 283.5h.9M329.4 325.3h.9M651.3 451.1h.9M479.6 373.5h.9M328.2 447.7h.9M590.3 296.6h.9M623.4 276.8h.9M485.9 305.9h.9M518.5 297.7h.9M509.3 298.8h.9M306.0 266.1h.9M603.7 342.9h.9M497.3 391.7h.9M398.3 283.3h.9M457.1 412.8h.9M581.8 345.7h.9M533.7 298.6h.9M665.0 387.2h.9M609.4 324.9h.9M522.8 403.4h.9M504.9 415.0h.9M404.8 420.5h.9M422.5 358.5h.9M355.2 332.8h.9M641.2 247.0h.9M372.5 364.7h.9M553.2 398.0h.9M564.3 405.6h.9M532.0 275.3h.9M509.5 304.6h.9M302.1 356.6h.9M675.3 347.3h.9M592.7 383.3h.9M314.4 366.2h.9M680.5 390.4h.9M414.6 448.2h.9M557.7 454.5h.9M626.6 374.2h.9M480.1 362.0h.9M423.0 436.3h.9M349.1 467.5h.9M430.6 341.2h.9M534.4 311.5h.9M534.1 252.6h.9M634.8 264.2h.9M636.2 437.4h.9M602.9 412.6h.9M371.9 370.6h.9M323.8 411.5h.9M603.3 288.4h.9M470.4 260.9h.9M557.0 400.6h.9M323.1 380.9h.9M638.3 281.0h.9M649.4 302.8h.9M306.3 259.3h.9M591.4 284.3h.9M631.0 340.2h.9M331.9 427.8h.9M426.2 270.2h.9M301.5 309.4h.9M477.7 354.0h.9M524.2 258.7h.9M301.1 444.0h.9M463.6 406.4h.9M644.5 376.7h.9M585.3 290.8h.9M381.5 358.0h.9M679.7 463.4h.9M389.2 385.9h.9M411.6 322.6h.9M408.3 469.0h.9M447.7 346.7h.9M333.2 435.0h.9M332.9 430.7h.9M392.3 294.2h.9M316.1 321.3h.9M668.0 323.1h.9M427.8 411.0h.9M388.6 414.1h.9M672.1 437.0h.9M315.5 419.7h.9M603.8 422.7h.9M522.7 264.6h.9M560.5 373.6h.9M487.0 416.4h.9M370.3 326.4h.9M543.3 446.3h.9M681.4 443.9h.9M401.1 337.0h.9M502.0 345.9h.9M330.4 324.2h.9M658.4 326.5h.9M638.5 445.0h.9M498.0 450.9h.9M675.9 242.2h.9M527.4 459.4h.9M419.4 323.5h.9M358.5 442.8h.9M516.9 376.2h.9M529.8 446.4h.9M499.0 366.5h.9M472.2 317.2h.9M673.1 388.7h.9M490.4 260.6h.9M546.1 250.1h.9M481.5 288.6h.9M450.9 290.9h.9M386.4 340.6h.9M346.2 297.9h.9M577.1 263.4h.9M625.9 334.6h.9M381.7 417.7h.9M444.9 324.5h.9M300.4 281.0h.9M660.9 353.7h.9M467.5 375.6h.9M334.5 274.8h.9M631.9 385.2h.9M422.8 438.4h.9M412.1 342.7h.9M602.2 436.0h.9M408.0 465.9h.9M380.9 301.2h.9M497.9 369.3h.9M508.0 347.5h.9M600.1 297.8h.9M467.5 395.4h.9M642.9 298.5h.9M436.7 348.1h.9M403.1 357.8h.9M661.9 293.7h.9M619.9 444.5h.9M488.3 320.8h.9M345.4 366.3h.9M625.2 327.8h.9M398.1 430.6h.9M360.6 369.6h.9M595.1 357.3h.9M412.8 377.7h.9M429.6 393.8h.9M606.4 424.5h.9M597.9 268.5h.9M403.9 393.6h.9M544.9 445.4h.9M469.5 253.9h.9M328.4 251.2h.9M507.2 314.4h.9M314.4 448.9h.9M325.0 320.1h.9M598.3 397.3h.9M384.2 461.3h.9M472.2 429.2h.9M462.5 388.8h.9M668.0 253.6h.9M518.6 375.9h.9M672.4 378.3h.9M400.8 271.8h.9M513.1 278.0h.9M435.0 460.5h.9M370.3 287.1h.9M557.8 355.9h.9M649.7 315.3h.9M591.9 335.3h.9M682.8 451.3h.9M374.6 325.5h.9M482.5 348.2h.9M527.7 398.9h.9M357.5 389.4h.9M617.0 334.5h.9M403.8 298.1h.9M533.9 267.7h.9M381.3 309.3h.9M565.2 410.8h.9M509.3 274.1h.9M436.2 253.9h.9M683.7 345.9h.9M622.6 296.6h.9M406.3 273.0h.9M449.3 397.7h.9M512.4 314.3h.9M349.5 302.7h.9M596.3 280.6h.9M681.8 432.7h.9M365.1 240.6h.9M617.4 249.9h.9M557.7 355.6h.9M458.7 373.8h.9M306.7 412.5h.9M623.7 248.7h.9M408.5 433.2h.9M375.7 273.3h.9M609.8 467.7h.9M680.4 284.6h.9M351.0 242.4h.9M345.6 315.5h.9M669.7 413.8h.9M369.6 331.2h.9M511.3 276.3h.9M322.2 283.9h.9M415.4 248.6h.9M675.2 463.9h.9M481.8 339.8h.9M513.2 431.9h.9M458.1 451.6h.9M668.4 303.7h.9M522.7 459.9h.9M417.1 468.1h.9M492.8 394.3h.9M336.8 330.9h.9M552.7 287.1h.9M673.6 331.3h.9M518.4 419.0h.9M420.4 401.4h.9M582.1 418.4h.9M422.4 318.0h.9M524.5 342.8h.9M482.0 370.3h.9M592.0 272.9h.9M381.7 269.0h.9M499.6 287.4h.9M658.2 287.4h.9M472.3 416.6h.9M408.9 258.4h.9M389.0 402.1h.9M434.5 457.4h.9M359.8 309.7h.9M490.4 316.9h.9M413.9 263.8h.9M494.6 412.2h.9M442.2 466.4h.9M539.5 323.4h.9M440.9 304.0h.9M336.6 348.6h.9M505.7 423.0h.9M330.1 246.9h.9M649.4 322.9h.9M579.0 441.8h.9M407.9 280.9h.9M600.5 309.6h.9M493.3 240.2h.9M524.4 341.4h.9M380.6 284.3h.9M656.8 446.8h.9M419.6 313.0h.9M430.6 319.4h.9M447.6 460.8h.9M306.4 323.5h.9M511.2 380.5h.9M428.3 405.9h.9M464.9 274.6h.9M650.7 287.7h.9M571.1 453.8h.9M365.3 413.9h.9M599.6 319.7h.9M652.9 271.9h.9M499.7 465.1h.9M502.2 441.5h.9M454.6 389.0h.9M487.0 403.3h.9M582.9 405.3h.9M592.5 289.1h.9M551.3 422.7h.9M587.3 281.0h.9M511.7 243.4h.9M673.8 389.1h.9M394.6 378.5h.9M420.4 368.2h.9M602.9 437.3h.9M678.1 391.6h.9M507.1 358.6h.9M358.4 247.7h.9M642.3 464.0h.9M619.4 283.4h.9M540.9 285.0h.9M424.2 421.9h.9M658.6 242.8h.9M600.1 403.4h.9M568.7 273.9h.9M434.9 411.3h.9M378.5 279.1h.9M484.2 279.1h.9M401.2 276.0h.9M381.6 263.5h.9M458.8 317.8h.9M353.9 280.9h.9M455.3 256.3h.9M414.3 250.3h.9M584.5 268.1h.9M480.6 271.4h.9M562.8 463.9h.9M571.2 259.7h.9M375.2 278.0h.9M640.8 259.2h.9M593.7 417.2h.9M621.0 337.9h.9M460.9 320.9h.9M551.3 351.2h.9M571.7 340.6h.9M624.4 377.8h.9M404.1 337.0h.9M389.4 450.8h.9M318.1 332.3h.9M465.3 379.4h.9M339.8 394.5h.9M351.3 303.8h.9M420.5 257.0h.9M684.6 254.0h.9M647.6 397.7h.9M657.9 376.3h.9M510.9 342.5h.9M511.4 315.9h.9M368.0 374.6h.9M605.6 464.8h.9M649.6 379.1h.9M378.8 368.5h.9M362.6 437.7h.9M590.8 326.5h.9M424.4 444.6h.9M467.9 257.9h.9M557.2 337.0h.9M345.2 436.9h.9M380.8 284.0h.9M503.5 297.3h.9M428.2 343.6h.9M658.1 375.8h.9M466.3 431.2h.9M656.9 450.9h.9M309.8 425.2h.9M598.6 403.8h.9M580.0 391.4h.9M379.7 454.1h.9M605.8 295.3h.9M505.3 283.2h.9M390.6 384.0h.9M354.0 241.9h.9M537.8 381.6h.9M649.6 246.3h.9M419.6 267.6h.9M652.0 425.3h.9M358.7 348.5h.9M565.1 382.6h.9M485.9 364.2h.9M381.0 254.2h.9M360.6 356.9h.9M355.2 443.3h.9M412.6 243.0h.9M548.8 392.7h.9M586.4 342.6h.9M652.5 395.6h.9M659.5 422.8h.9M405.4 339.1h.9M379.5 385.3h.9M449.4 346.0h.9M441.2 280.6h.9M527.1 406.9h.9M434.5 269.7h.9M536.7 383.3h.9M511.2 430.6h.9M662.4 415.5h.9M530.5 455.9h.9M516.9 359.0h.9M379.4 314.1h.9M440.1 301.2h.9M405.4 282.2h.9M339.9 367.9h.9M467.9 424.8h.9M579.1 453.8h.9M650.5 265.3h.9M553.4 453.0h.9M331.8 271.7h.9M308.0 281.1h.9M664.5 442.2h.9M355.0 241.0h.9M341.2 439.0h.9M424.4 371.1h.9M438.4 336.8h.9M544.6 456.3h.9M324.9 336.6h.9M574.8 421.0h.9M541.4 304.6h.9M310.3 292.7h.9M515.6 445.8h.9M526.5 377.4h.9M447.5 412.6h.9M673.5 349.1h.9M547.6 362.1h.9M397.7 448.6h.9M328.8 336.7h.9M655.8 371.6h.9M450.1 287.9h.9M443.4 412.0h.9M562.4 382.7h.9M665.8 324.8h.9M409.5 383.0h.9M658.0 402.5h.9M630.1 430.6h.9M308.5 386.7h.9M394.7 396.6h.9M603.1 425.2h.9M373.5 325.6h.9M360.7 430.5h.9M571.3 368.6h.9M511.2 409.4h.9M474.8 281.4h.9M667.3 418.0h.9M490.7 369.3h.9M379.7 293.8h.9M320.8 392.6h.9M613.1 300.3h.9M374.9 339.4h.9M409.3 414.1h.9M395.1 299.7h.9M455.9 437.6h.9M574.3 266.8h.9M353.9 251.9h.9M557.5 390.4h.9M364.0 305.0h.9M627.9 251.3h.9M581.7 430.5h.9M551.8 313.2h.9M584.8 452.1h.9M514.8 383.0h.9M531.4 453.8h.9M674.9 392.8h.9M487.9 268.5h.9M487.7 337.4h.9M561.6 351.7h.9M393.0 285.9h.9M588.5 371.3h.9M596.4 284.4h.9M471.6 266.8h.9M366.6 320.3h.9M405.7 459.3h.9M340.6 358.0h.9M335.7 443.7h.9M339.8 437.0h.9M421.5 322.4h.9M337.8 384.1h.9M327.8 393.7h.9M505.2 303.3h.9M550.1 403.1h.9M325.1 450.0h.9M637.0 423.6h.9M655.5 318.9h.9M349.6 339.2h.9M653.1 396.3h.9M342.0 412.7h.9M611.1 346.0h.9M549.7 440.4h.9M463.2 421.5h.9M519.5 420.7h.9M626.2 273.9h.9M372.6 374.9h.9M433.8 308.4h.9M300.1 342.0h.9M684.2 334.0h.9M382.8 325.7h.9M531.1 246.1h.9M365.5 360.8h.9M440.3 399.8h.9M349.9 254.4h.9M651.2 412.7h.9M547.8 378.7h.9M374.1 274.3h.9M471.3 397.2h.9M478.1 355.1h.9M330.6 458.1h.9M392.1 329.5h.9M610.0 457.7h.9M441.6 343.7h.9M623.2 352.3h.9M345.7 289.9h.9M430.1 240.7h.9M324.4 445.6h.9M621.0 430.6h.9M416.9 320.1h.9M661.3 252.0h.9M466.7 323.6h.9M586.3 397.6h.9M682.7 462.3h.9M533.7 451.0h.9M530.2 287.4h.9M495.7 301.8h.9M650.1 424.3h.9M339.4 389.3h.9M548.0 417.4h.9M356.3 373.9h.9M342.0 338.1h.9M439.1 321.8h.9M457.2 358.4h.9M342.7 361.3h.9M328.9 401.2h.9M313.8 351.4h.9M301.4 419.8h.9M662.9 411.4h.9M475.5 346.4h.9M590.8 257.6h.9M436.8 350.5h.9M366.6 345.4h.9M435.1 272.0h.9M526.7 340.3h.9M348.4 363.0h.9M386.9 370.8h.9M422.8 405.2h.9M530.3 240.6h.9M429.4 414.5h.9M429.8 417.2h.9M631.8 452.9h.9M589.4 338.0h.9M484.8 259.8h.9M413.3 300.2h.9M607.2 420.5h.9M542.7 415.6h.9M465.7 387.2h.9M437.2 243.2h.9M501.3 441.8h.9M491.5 447.6h.9M448.8 298.4h.9M361.2 338.9h.9M419.3 265.3h.9M420.4 459.2h.9M600.4 336.7h.9M390.4 354.2h.9M428.2 382.4h.9M408.1 383.0h.9M595.2 304.5h.9M385.3 370.4h.9M520.6 442.7h.9M612.9 346.2h.9M490.1 421.2h.9M521.5 267.8h.9M446.9 266.6h.9M558.0 419.5h.9M544.8 252.6h.9M456.0 244.0h.9M563.1 413.1h.9M377.3 404.6h.9M319.0 273.3h.9M656.8 289.8h.9M549.8 454.9h.9M595.1 344.8h.9M465.0 332.5h.9M359.6 420.5h.9M500.3 415.6h.9M484.6 294.3h.9M399.4 267.2h.9M577.0 355.1h.9M448.3 464.4h.9M440.3 321.8h.9M385.7 303.9h.9M395.6 357.6h.9M461.6 348.1h.9M621.7 320.7h.9M533.6 357.6h.9M664.8 377.1h.9M658.3 323.0h.9M374.4 287.8h.9M615.3 266.2h.9M411.8 435.0h.9M324.1 401.8h.9M451.3 291.3h.9M664.2 437.7h.9M381.9 270.4h.9M513.6 256.9h.9M664.1 315.3h.9M421.7 252.7h.9M488.0 369.0h.9M348.9 401.1h.9M497.7 428.8h.9M654.1 440.3h.9M469.0 319.8h.9M545.3 333.7h.9M475.2 296.8h.9M357.3 263.6h.9M544.1 449.8h.9M678.1 301.3h.9M378.9 259.8h.9M340.4 428.8h.9M433.3 324.7h.9M375.4 401.2h.9M373.6 459.3h.9M309.0 453.2h.9M457.8 342.0h.9M493.0 294.7h.9M652.8 359.3h.9M509.7 440.6h.9M554.5 432.9h.9M345.7 308.9h.9M381.8 357.8h.9M400.8 446.4h.9M380.6 329.5h.9M455.9 313.1h.9M573.0 353.3h.9M606.5 321.0h.9M622.0 431.9h.9M455.2 455.5h.9M657.1 291.6h.9M512.1 440.4h.9M388.1 439.6h.9M416.7 428.8h.9M445.3 457.2h.9M637.7 327.3h.9M304.8 382.4h.9M518.1 308.1h.9M652.6 336.3h.9M503.6 291.8h.9M581.5 363.1h.9M356.2 456.1h.9M406.9 271.4h.9M578.3 336.6h.9M610.1 337.9h.9M513.4 405.4h.9M636.6 277.7h.9M343.1 350.5h.9M359.1 422.8h.9M431.2 322.0h.9M332.9 302.9h.9M439.6 301.0h.9M381.3 304.8h.9M578.7 268.2h.9M494.4 389.2h.9M308.4 428.4h.9M591.7 296.3h.9M322.5 256.7h.9M636.5 249.7h.9M534.0 374.7h.9M553.4 343.2h.9M473.6 346.7h.9M591.4 263.2h.9M403.4 353.6h.9M460.0 380.7h.9M451.2 462.6h.9M382.4 451.9h.9M306.5 427.1h.9M339.4 306.3h.9M463.5 449.3h.9M351.0 357.1h.9M604.4 352.3h.9M578.1 469.8h.9M609.0 297.5h.9M425.3 366.2h.9M588.9 465.6h.9M626.4 419.5h.9M534.7 403.7h.9M635.5 424.0h.9M366.1 292.0h.9M456.6 461.8h.9M421.0 427.1h.9M413.4 402.8h.9M635.7 467.5h.9M520.0 377.1h.9M364.8 435.7h.9M381.4 269.0h.9M631.5 360.2h.9M477.7 284.0h.9M655.5 397.9h.9M632.8 329.8h.9M485.2 357.6h.9M335.4 244.5h.9M528.9 322.4h.9M624.2 415.5h.9M557.4 372.2h.9M392.9 373.9h.9M556.5 299.2h.9M479.1 256.0h.9M559.1 339.5h.9M384.0 403.3h.9M607.4 290.1h.9M302.8 374.3h.9M666.5 260.1h.9M609.0 379.3h.9M571.4 242.9h.9M452.6 249.9h.9M664.8 467.2h.9M574.2 376.7h.9M598.2 270.2h.9M679.0 328.8h.9M465.0 242.7h.9M331.1 453.1h.9M375.3 355.7h.9M579.4 407.9h.9M470.0 399.0h.9M621.3 286.8h.9M448.3 372.5h.9M566.6 370.6h.9M312.2 296.1h.9M437.6 439.2h.9M537.4 302.4h.9M518.1 308.2h.9M672.3 399.7h.9M638.6 329.9h.9M350.4 421.3h.9M369.6 436.0h.9M595.6 438.7h.9M520.3 388.0h.9M311.1 304.3h.9M346.3 254.5h.9M505.1 254.3h.9M490.5 276.0h.9M372.5 424.2h.9M679.9 385.4h.9M536.6 281.2h.9M463.5 444.8h.9M327.8 327.1h.9M393.5 291.3h.9M357.9 408.6h.9M430.4 466.7h.9M423.9 402.8h.9M440.3 417.2h.9M323.1 466.3h.9M395.4 410.1h.9M424.4 244.0h.9M507.4 269.0h.9M601.2 289.4h.9M319.2 363.9h.9M525.4 387.6h.9M574.7 251.6h.9M648.4 425.8h.9M587.6 241.4h.9M411.9 287.1h.9M639.7 302.0h.9M452.8 288.1h.9M581.5 267.8h.9M479.3 413.4h.9M439.3 292.0h.9M497.3 283.7h.9M580.0 427.2h.9M390.5 251.6h.9M443.6 242.6h.9M626.9 459.3h.9M528.3 360.3h.9M526.6 323.2h.9M508.0 381.4h.9M626.4 308.0h.9M356.6 342.2h.9M318.8 311.7h.9M496.4 436.7h.9M526.5 467.0h.9M602.2 466.5h.9M639.5 315.6h.9M369.1 400.5h.9M584.6 333.7h.9M615.9 388.3h.9M615.2 240.4h.9M623.2 442.2h.9M390.0 433.2h.9M401.5 435.4h.9M620.9 430.9h.9M336.6 284.8h.9M511.1 294.9h.9M446.4 460.7h.9M651.1 277.4h.9M364.6 419.1h.9M518.9 242.0h.9M669.7 282.1h.9M332.8 443.5h.9M618.1 263.1h.9M522.0 456.9h.9M683.4 448.9h.9M623.1 455.4h.9M453.6 403.4h.9M629.3 428.7h.9M530.0 433.1h.9M591.6 452.2h.9M649.0 440.9h.9M371.5 318.2h.9M490.3 240.9h.9M409.1 440.5h.9M675.5 352.9h.9M499.0 265.7h.9M506.7 454.5h.9M418.8 390.9h.9M614.4 344.7h.9M466.3 404.1h.9M368.3 317.9h.9M389.0 254.7h.9M393.8 431.3h.9M588.3 332.7h.9M344.0 358.0h.9M410.2 384.8h.9M629.7 323.0h.9M425.9 430.2h.9M629.9 399.5h.9M429.1 453.0h.9M324.5 467.3h.9M578.1 254.2h.9M365.2 423.1h.9M659.8 262.6h.9M538.3 437.3h.9M556.7 453.5h.9M638.0 280.7h.9M332.7 445.3h.9M394.9 441.6h.9M668.2 328.9h.9M595.1 288.4h.9M496.9 268.3h.9M541.3 272.7h.9M463.9 245.6h.9M676.5 381.5h.9M430.1 291.8h.9M601.7 352.9h.9M518.0 249.6h.9M440.6 347.3h.9M623.5 287.0h.9M319.0 363.7h.9M383.7 248.8h.9M341.7 350.5h.9M464.5 300.9h.9M571.1 251.5h.9M413.1 354.0h.9M394.0 462.3h.9M430.4 344.9h.9M665.9 359.5h.9M389.9 349.5h.9M681.6 431.2h.9M419.6 256.9h.9M656.2 308.9h.9M331.1 336.6h.9M593.9 325.5h.9M609.2 455.7h.9M558.8 442.8h.9M526.8 259.5h.9M560.7 298.7h.9M611.3 446.4h.9M479.4 402.1h.9M318.8 372.3h.9M554.0 451.3h.9M326.8 285.2h.9M593.0 380.9h.9M473.2 463.4h.9M327.3 440.2h.9M343.2 295.7h.9M553.3 251.8h.9M594.7 310.9h.9M606.5 378.1h.9M398.5 422.0h.9M653.5 421.8h.9M336.1 341.7h.9M325.9 343.2h.9M408.7 361.8h.9M634.0 411.3h.9M605.5 252.9h.9M486.8 335.7h.9M579.3 443.9h.9M302.9 438.4h.9M427.3 247.6h.9M538.5 363.1h.9M669.9 424.8h.9M480.4 419.3h.9M642.8 358.7h.9M422.4 390.2h.9M627.6 403.8h.9M538.1 277.6h.9M580.6 377.8h.9M578.5 345.6h.9M314.7 298.5h.9M527.9 275.8h.9M425.3 334.2h.9M354.9 304.7h.9M473.1 449.9h.9M576.8 263.5h.9M450.6 426.1h.9M300.0 402.9h.9M576.5 297.7h.9M305.2 311.1h.9M426.4 392.8h.9M329.3 278.3h.9M577.8 249.2h.9M529.0 325.5h.9M429.2 334.0h.9M431.2 422.7h.9M652.4 371.0h.9M563.5 434.2h.9M341.8 347.8h.9M310.4 413.8h.9M644.2 271.3h.9M462.7 382.9h.9M504.9 252.5h.9M457.3 317.9h.9M532.0 445.4h.9M330.2 364.3h.9M477.8 328.9h.9M374.1 343.8h.9M345.5 395.1h.9M413.4 440.6h.9M393.7 288.6h.9M372.3 407.3h.9M623.6 439.8h.9M498.6 386.7h.9M437.2 363.2h.9M343.4 440.6h.9M463.7 350.5h.9M339.6 358.1h.9M375.5 466.3h.9M328.6 321.5h.9M330.1 286.4h.9M493.2 255.6h.9M544.0 377.9h.9M594.9 318.6h.9M544.7 317.6h.9M564.7 467.1h.9M368.7 396.7h.9M606.9 297.0h.9M319.2 357.7h.9M496.5 380.6h.9M593.0 316.7h.9M610.4 403.9h.9M394.3 293.3h.9M474.3 437.3h.9M636.9 362.3h.9M503.6 353.8h.9M587.9 245.1h.9M572.6 358.7h.9M516.7 436.6h.9M341.6 357.7h.9M666.3 296.4h.9M537.3 303.8h.9M595.7 387.0h.9M353.6 272.0h.9M433.6 342.2h.9M607.1 456.8h.9M512.7 260.7h.9M476.7 457.2h.9M330.0 341.6h.9M402.6 388.7h.9M381.4 250.3h.9M371.8 360.7h.9M462.3 434.0h.9M381.9 389.7h.9M656.8 245.9h.9M489.1 287.8h.9M448.5 299.5h.9M592.0 299.1h.9M678.5 287.6h.9M413.4 387.0h.9M347.8 279.7h.9M428.6 392.6h.9M616.2 375.6h.9" stroke="#f4f070" stroke-width="0.9" stroke-opacity="0.55" fill="none"/>
</svg>
</body></html>
